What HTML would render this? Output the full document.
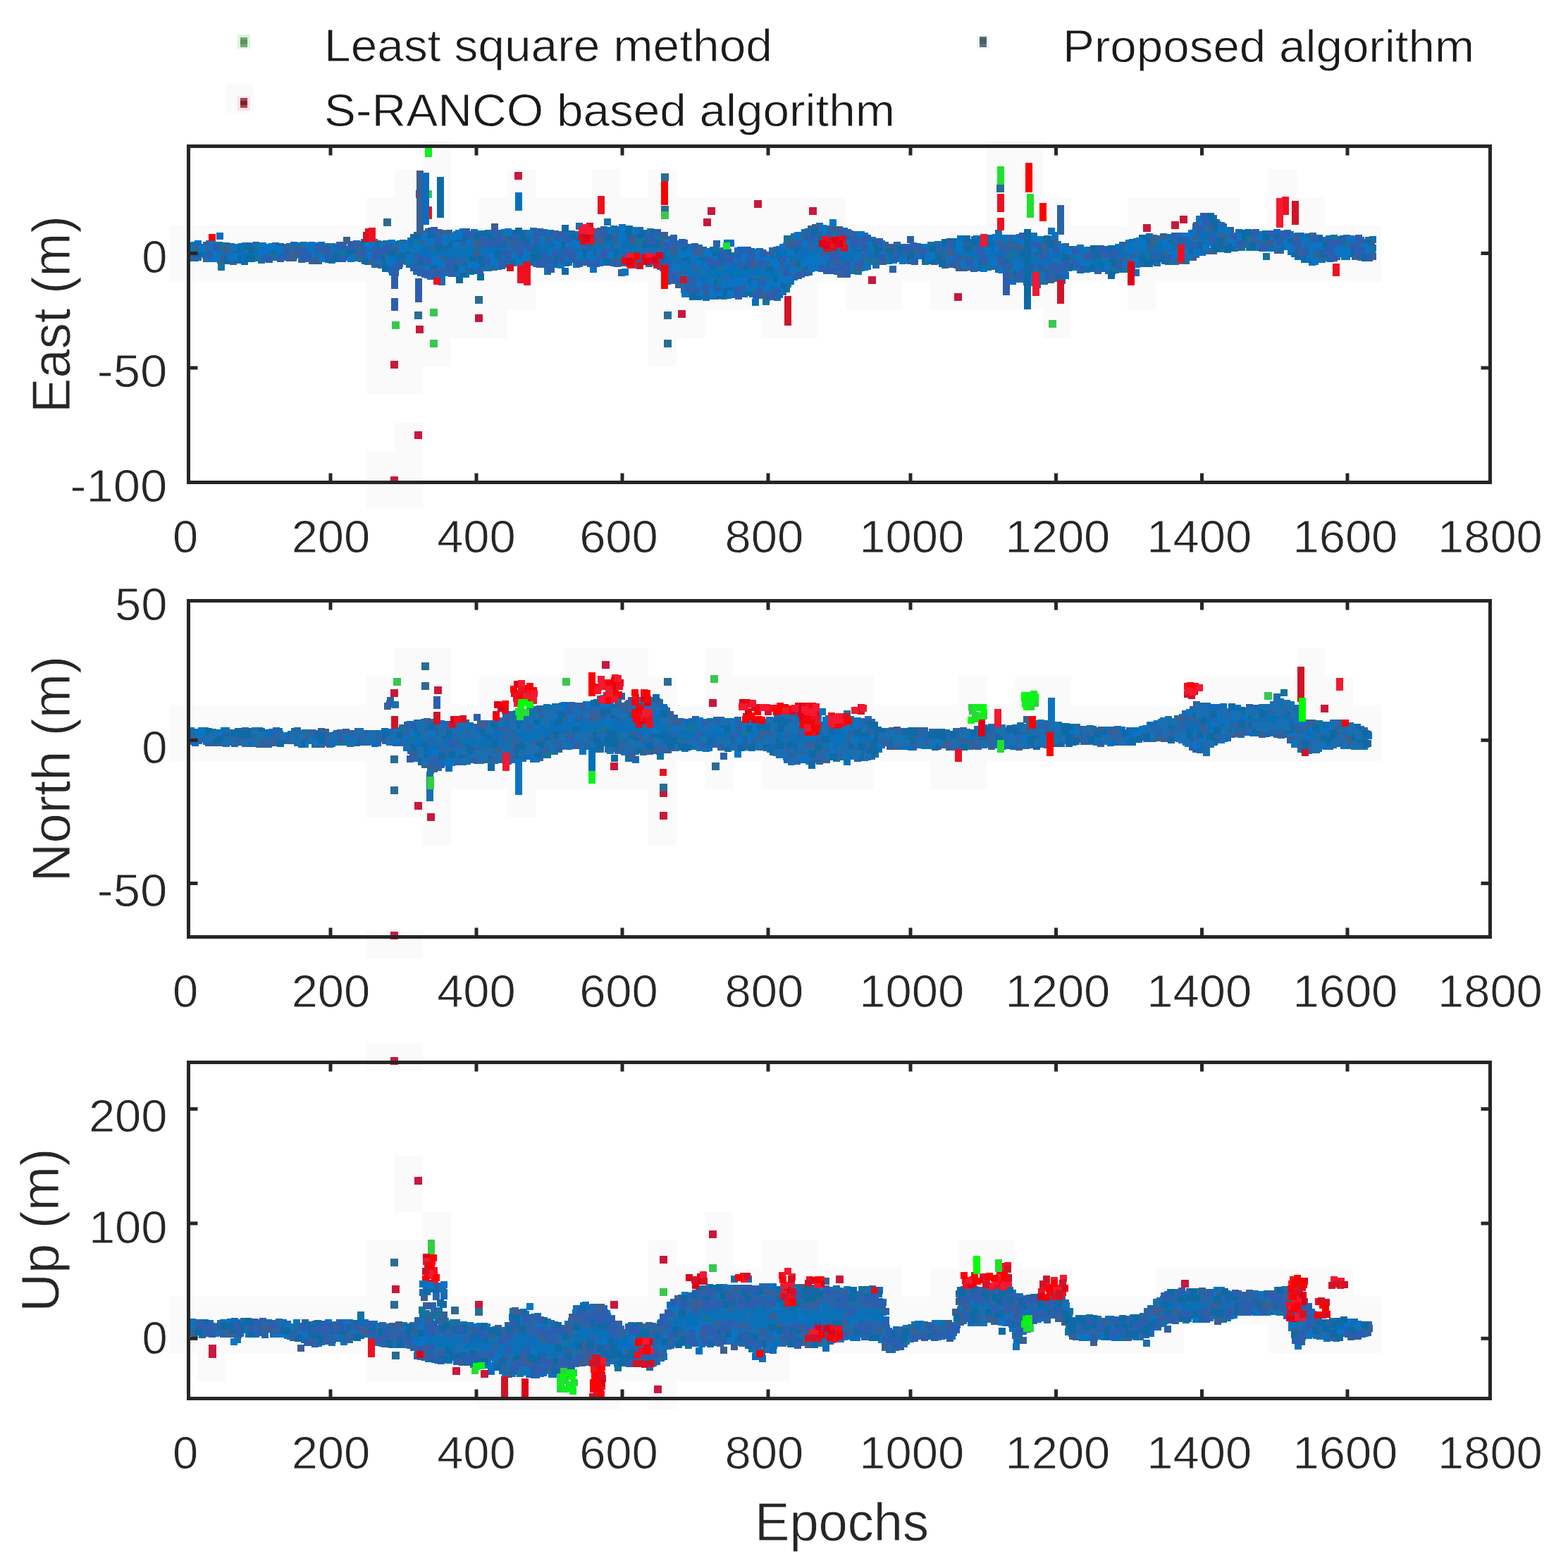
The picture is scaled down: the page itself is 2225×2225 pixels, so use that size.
<!DOCTYPE html>
<html><head><meta charset="utf-8"><title>East North Up errors</title>
<style>html,body{margin:0;padding:0;background:#fff}svg{display:block}</style></head>
<body>
<svg width="2225" height="2225" viewBox="0 0 2225 2225">
<rect width="2225" height="2225" fill="#fff"/>
<path fill="#fafafa" d="M320 120h40v40h-40zM600 200h40v40h-40zM1400 200h80v40h-80zM560 240h80v40h-80zM720 240h40v40h-40zM840 240h40v40h-40zM920 240h40v40h-40zM1400 240h80v40h-80zM1800 240h40v40h-40zM520 280h120v40h-120zM680 280h520v40h-520zM1400 280h120v40h-120zM1600 280h160v40h-160zM1800 280h80v40h-80zM240 320h1720v40h-1720zM240 360h1720v40h-1720zM520 400h240v40h-240zM920 400h240v40h-240zM1200 400h80v40h-80zM1320 400h200v40h-200zM1600 400h40v40h-40zM520 440h200v40h-200zM920 440h80v40h-80zM1080 440h80v40h-80zM1480 440h40v40h-40zM520 480h120v40h-120zM920 480h40v40h-40zM520 520h80v40h-80zM560 600h40v40h-40zM520 640h80v40h-80zM520 680h80v40h-80zM560 920h80v40h-80zM800 920h120v40h-120zM1000 920h40v40h-40zM1840 920h40v40h-40zM520 960h120v40h-120zM680 960h280v40h-280zM1000 960h240v40h-240zM1360 960h40v40h-40zM1440 960h80v40h-80zM1680 960h240v40h-240zM240 1000h1720v40h-1720zM240 1040h1720v40h-1720zM520 1080h440v40h-440zM1000 1080h40v40h-40zM1080 1080h160v40h-160zM1320 1080h80v40h-80zM520 1120h120v40h-120zM720 1120h40v40h-40zM920 1120h40v40h-40zM600 1160h40v40h-40zM920 1160h40v40h-40zM520 1320h80v40h-80zM520 1480h80v40h-80zM560 1640h40v40h-40zM560 1680h40v40h-40zM600 1720h40v40h-40zM1000 1720h40v40h-40zM520 1760h120v40h-120zM920 1760h40v40h-40zM1000 1760h40v40h-40zM1080 1760h80v40h-80zM1360 1760h80v40h-80zM520 1800h120v40h-120zM920 1800h360v40h-360zM1320 1800h200v40h-200zM1640 1800h280v40h-280zM240 1840h1720v40h-1720zM240 1880h1440v40h-1440zM1800 1880h160v40h-160zM280 1920h40v40h-40zM520 1920h600v40h-600zM680 1960h200v40h-200zM920 1960h40v40h-40z"/>
<g shape-rendering="crispEdges">
<polygon fill="#0a70b8" points="272,351 277,351 282,351 287,351 292,351 297,350 302,351 307,351 312,352 317,353 322,353 327,353 332,353 337,353 342,353 347,353 352,353 357,353 362,352 367,352 372,352 377,352 382,352 387,352 392,352 397,352 402,352 407,352 412,352 417,352 422,352 427,352 432,352 437,352 442,352 447,352 452,352 457,352 462,352 467,352 472,352 477,352 482,352 487,352 492,352 497,351 502,351 507,350 512,349 517,348 522,348 527,349 532,351 537,352 542,353 547,354 552,355 557,356 562,355 567,353 572,351 577,349 582,349 587,348 592,347 597,346 602,345 607,344 612,343 617,344 622,344 627,345 632,345 637,345 642,345 647,345 652,345 657,345 662,345 667,344 672,344 677,344 682,343 687,343 692,343 697,342 702,342 707,342 712,341 717,341 722,341 727,341 732,341 737,340 742,340 747,340 752,340 757,340 762,340 767,340 772,340 777,340 782,341 787,341 792,341 797,342 802,342 807,342 812,343 817,343 822,342 827,342 832,341 837,340 842,340 847,339 852,339 857,338 862,338 867,338 872,337 877,337 882,337 887,337 892,338 897,338 902,339 907,339 912,340 917,340 922,340 927,341 932,341 937,343 942,345 947,347 952,349 957,352 962,356 967,359 972,363 977,366 982,367 987,369 992,370 997,372 1002,373 1007,373 1012,373 1017,372 1022,372 1027,372 1032,372 1037,372 1042,372 1047,372 1052,372 1057,372 1062,372 1067,372 1072,372 1077,372 1082,372 1087,373 1092,373 1097,373 1102,372 1107,370 1112,368 1117,363 1122,357 1127,350 1132,348 1137,346 1142,344 1147,342 1152,340 1157,338 1162,337 1167,338 1172,339 1177,340 1182,341 1187,341 1192,342 1197,343 1202,344 1207,344 1212,345 1217,345 1222,346 1227,346 1232,347 1237,348 1242,349 1247,350 1252,351 1257,352 1262,353 1267,353 1272,353 1277,353 1282,353 1287,353 1292,353 1297,353 1302,353 1307,353 1312,353 1317,353 1322,353 1327,353 1332,352 1337,352 1342,351 1347,351 1352,350 1357,350 1362,349 1367,349 1372,349 1377,349 1382,349 1387,349 1392,349 1397,348 1402,348 1407,348 1412,348 1417,348 1422,349 1427,349 1432,350 1437,350 1442,351 1447,351 1452,352 1457,352 1462,353 1467,353 1472,353 1477,353 1482,354 1487,354 1492,354 1497,354 1502,355 1507,357 1512,358 1517,359 1522,359 1527,360 1532,360 1537,360 1542,360 1547,360 1552,360 1557,360 1562,360 1567,360 1572,360 1577,361 1582,360 1587,358 1592,357 1597,355 1602,354 1607,352 1612,350 1617,348 1622,346 1627,346 1632,346 1637,345 1642,345 1647,345 1652,344 1657,344 1662,344 1667,343 1672,343 1677,343 1682,342 1687,342 1692,338 1697,329 1702,323 1707,320 1712,318 1717,318 1722,321 1727,324 1732,327 1737,329 1742,330 1747,331 1752,333 1757,334 1762,334 1767,334 1772,334 1777,334 1782,334 1787,334 1792,334 1797,334 1802,335 1807,335 1812,336 1817,336 1822,337 1827,337 1832,338 1837,339 1842,340 1847,341 1852,342 1857,343 1862,344 1867,344 1872,344 1877,344 1882,344 1887,344 1892,344 1897,345 1902,345 1907,345 1912,345 1917,345 1922,345 1927,345 1932,345 1937,345 1942,345 1947,345 1947,359 1942,359 1937,359 1932,359 1927,359 1922,359 1917,359 1912,359 1907,359 1902,359 1897,360 1892,360 1887,361 1882,362 1877,362 1872,363 1867,363 1862,363 1857,361 1852,360 1847,358 1842,357 1837,355 1832,354 1827,353 1822,352 1817,351 1812,350 1807,349 1802,348 1797,348 1792,348 1787,348 1782,348 1777,348 1772,348 1767,348 1762,348 1757,347 1752,347 1747,347 1742,347 1737,347 1732,346 1727,345 1722,344 1717,344 1712,344 1707,347 1702,349 1697,353 1692,359 1687,361 1682,362 1677,362 1672,362 1667,363 1662,363 1657,363 1652,364 1647,364 1642,364 1637,365 1632,365 1627,365 1622,366 1617,367 1612,369 1607,371 1602,373 1597,374 1592,375 1587,376 1582,377 1577,377 1572,377 1567,377 1562,377 1557,377 1552,377 1547,376 1542,376 1537,376 1532,376 1527,376 1522,376 1517,376 1512,377 1507,378 1502,380 1497,382 1492,382 1487,383 1482,384 1477,385 1472,386 1467,386 1462,385 1457,384 1452,382 1447,381 1442,380 1437,378 1432,377 1427,375 1422,373 1417,372 1412,370 1407,370 1402,370 1397,370 1392,370 1387,370 1382,370 1377,370 1372,370 1367,370 1362,371 1357,370 1352,370 1347,369 1342,368 1337,368 1332,367 1327,367 1322,366 1317,366 1312,366 1307,366 1302,366 1297,366 1292,366 1287,366 1282,366 1277,366 1272,366 1267,366 1262,366 1257,366 1252,367 1247,367 1242,368 1237,368 1232,369 1227,370 1222,371 1217,372 1212,373 1207,374 1202,375 1197,374 1192,373 1187,372 1182,371 1177,370 1172,368 1167,367 1162,366 1157,367 1152,369 1147,371 1142,373 1137,375 1132,377 1127,380 1122,387 1117,394 1112,399 1107,402 1102,404 1097,405 1092,405 1087,405 1082,405 1077,404 1072,404 1067,404 1062,404 1057,403 1052,403 1047,403 1042,403 1037,404 1032,404 1027,404 1022,404 1017,405 1012,405 1007,405 1002,405 997,405 992,404 987,403 982,402 977,401 972,398 967,393 962,388 957,382 952,378 947,374 942,371 937,367 932,364 927,364 922,364 917,364 912,364 907,363 902,363 897,363 892,363 887,363 882,363 877,363 872,363 867,363 862,363 857,363 852,363 847,363 842,363 837,363 832,364 827,364 822,365 817,365 812,365 807,365 802,365 797,365 792,364 787,364 782,364 777,364 772,364 767,364 762,364 757,364 752,364 747,364 742,364 737,364 732,364 727,364 722,365 717,365 712,366 707,366 702,367 697,368 692,368 687,369 682,370 677,371 672,372 667,373 662,374 657,374 652,374 647,374 642,374 637,374 632,375 627,375 622,376 617,376 612,377 607,376 602,375 597,374 592,373 587,371 582,368 577,365 572,367 567,372 562,377 557,377 552,375 547,372 542,371 537,369 532,368 527,367 522,366 517,365 512,364 507,364 502,363 497,363 492,363 487,364 482,364 477,364 472,365 467,365 462,365 457,365 452,365 447,365 442,365 437,365 432,364 427,364 422,364 417,364 412,364 407,363 402,363 397,363 392,363 387,364 382,364 377,364 372,364 367,365 362,365 357,365 352,365 347,366 342,366 337,366 332,366 327,367 322,367 317,367 312,366 307,365 302,364 297,364 292,363 287,363 282,363 277,363 272,363"/>
<path fill="#1a6fb0" d="M266 344h10v10h-10zM267 357h10v10h-10zM286 346h10v10h-10zM307 348h10v10h-10zM322 350h10v10h-10zM322 357h10v10h-10zM327 359h10v10h-10zM336 348h10v10h-10zM337 351h10v10h-10zM363 349h10v10h-10zM363 356h10v10h-10zM388 348h10v10h-10zM396 351h10v10h-10zM422 344h10v10h-10zM421 356h10v10h-10zM457 345h10v10h-10zM466 345h10v10h-10zM478 349h10v10h-10zM476 361h10v10h-10zM488 356h10v10h-10zM497 359h10v10h-10zM503 347h10v10h-10zM516 360h10v10h-10zM522 364h10v10h-10zM533 350h10v10h-10zM536 342h10v10h-10zM542 352h10v10h-10zM557 374h10v10h-10zM563 348h10v10h-10zM567 360h10v10h-10zM573 341h10v10h-10zM571 342h10v10h-10zM572 348h10v10h-10zM576 348h10v10h-10zM581 345h10v10h-10zM583 349h10v10h-10zM588 362h10v10h-10zM591 329h10v10h-10zM596 369h10v10h-10zM603 324h10v10h-10zM606 332h10v10h-10zM606 387h10v10h-10zM608 373h10v10h-10zM618 384h10v10h-10zM622 395h10v10h-10zM626 376h10v10h-10zM627 345h10v10h-10zM643 383h10v10h-10zM647 343h10v10h-10zM648 379h10v10h-10zM651 341h10v10h-10zM651 369h10v10h-10zM668 325h10v10h-10zM683 369h10v10h-10zM681 362h10v10h-10zM696 331h10v10h-10zM703 341h10v10h-10zM711 325h10v10h-10zM711 364h10v10h-10zM716 338h10v10h-10zM717 351h10v10h-10zM726 327h10v10h-10zM733 335h10v10h-10zM748 339h10v10h-10zM753 365h10v10h-10zM758 335h10v10h-10zM766 341h10v10h-10zM766 364h10v10h-10zM773 326h10v10h-10zM771 368h10v10h-10zM772 380h10v10h-10zM783 332h10v10h-10zM798 360h10v10h-10zM806 361h10v10h-10zM816 344h10v10h-10zM816 354h10v10h-10zM817 316h10v10h-10zM836 334h10v10h-10zM843 353h10v10h-10zM847 353h10v10h-10zM852 363h10v10h-10zM857 344h10v10h-10zM857 310h10v10h-10zM862 335h10v10h-10zM867 352h10v10h-10zM871 331h10v10h-10zM872 345h10v10h-10zM882 329h10v10h-10zM887 336h10v10h-10zM893 327h10v10h-10zM903 352h10v10h-10zM926 336h10v10h-10zM927 343h10v10h-10zM931 343h10v10h-10zM931 365h10v10h-10zM932 353h10v10h-10zM943 335h10v10h-10zM942 342h10v10h-10zM947 347h10v10h-10zM953 346h10v10h-10zM951 380h10v10h-10zM951 372h10v10h-10zM956 341h10v10h-10zM956 383h10v10h-10zM956 380h10v10h-10zM968 356h10v10h-10zM967 402h10v10h-10zM973 363h10v10h-10zM971 400h10v10h-10zM976 354h10v10h-10zM976 359h10v10h-10zM982 394h10v10h-10zM986 405h10v10h-10zM992 381h10v10h-10zM1002 405h10v10h-10zM1013 371h10v10h-10zM1011 400h10v10h-10zM1021 404h10v10h-10zM1026 359h10v10h-10zM1037 360h10v10h-10zM1042 351h10v10h-10zM1048 397h10v10h-10zM1051 353h10v10h-10zM1051 409h10v10h-10zM1057 397h10v10h-10zM1061 403h10v10h-10zM1062 401h10v10h-10zM1077 354h10v10h-10zM1081 372h10v10h-10zM1091 351h10v10h-10zM1091 411h10v10h-10zM1096 360h10v10h-10zM1098 417h10v10h-10zM1101 349h10v10h-10zM1103 363h10v10h-10zM1101 403h10v10h-10zM1101 398h10v10h-10zM1102 379h10v10h-10zM1107 396h10v10h-10zM1132 384h10v10h-10zM1142 324h10v10h-10zM1142 338h10v10h-10zM1152 364h10v10h-10zM1158 316h10v10h-10zM1158 373h10v10h-10zM1161 361h10v10h-10zM1162 343h10v10h-10zM1166 335h10v10h-10zM1168 372h10v10h-10zM1172 320h10v10h-10zM1171 340h10v10h-10zM1172 375h10v10h-10zM1171 363h10v10h-10zM1182 372h10v10h-10zM1186 379h10v10h-10zM1186 361h10v10h-10zM1193 329h10v10h-10zM1197 344h10v10h-10zM1212 369h10v10h-10zM1216 334h10v10h-10zM1217 360h10v10h-10zM1222 330h10v10h-10zM1222 352h10v10h-10zM1233 336h10v10h-10zM1231 366h10v10h-10zM1236 348h10v10h-10zM1243 364h10v10h-10zM1246 347h10v10h-10zM1252 363h10v10h-10zM1256 365h10v10h-10zM1267 362h10v10h-10zM1287 365h10v10h-10zM1323 344h10v10h-10zM1326 342h10v10h-10zM1331 353h10v10h-10zM1337 347h10v10h-10zM1347 346h10v10h-10zM1353 338h10v10h-10zM1367 362h10v10h-10zM1383 341h10v10h-10zM1383 363h10v10h-10zM1386 370h10v10h-10zM1391 346h10v10h-10zM1396 336h10v10h-10zM1397 341h10v10h-10zM1397 374h10v10h-10zM1396 365h10v10h-10zM1402 373h10v10h-10zM1412 326h10v10h-10zM1416 334h10v10h-10zM1422 377h10v10h-10zM1426 348h10v10h-10zM1438 346h10v10h-10zM1436 388h10v10h-10zM1442 332h10v10h-10zM1442 377h10v10h-10zM1453 353h10v10h-10zM1457 394h10v10h-10zM1457 390h10v10h-10zM1466 392h10v10h-10zM1466 387h10v10h-10zM1472 335h10v10h-10zM1473 341h10v10h-10zM1473 349h10v10h-10zM1491 390h10v10h-10zM1492 366h10v10h-10zM1496 342h10v10h-10zM1498 349h10v10h-10zM1498 373h10v10h-10zM1506 380h10v10h-10zM1513 370h10v10h-10zM1518 349h10v10h-10zM1516 368h10v10h-10zM1521 368h10v10h-10zM1528 347h10v10h-10zM1527 361h10v10h-10zM1532 365h10v10h-10zM1542 354h10v10h-10zM1547 368h10v10h-10zM1573 353h10v10h-10zM1577 371h10v10h-10zM1582 350h10v10h-10zM1586 354h10v10h-10zM1587 354h10v10h-10zM1596 364h10v10h-10zM1602 339h10v10h-10zM1607 356h10v10h-10zM1613 358h10v10h-10zM1626 359h10v10h-10zM1653 366h10v10h-10zM1663 342h10v10h-10zM1668 355h10v10h-10zM1688 336h10v10h-10zM1693 348h10v10h-10zM1697 310h10v10h-10zM1696 345h10v10h-10zM1696 340h10v10h-10zM1703 339h10v10h-10zM1708 340h10v10h-10zM1707 338h10v10h-10zM1723 314h10v10h-10zM1722 340h10v10h-10zM1728 315h10v10h-10zM1733 323h10v10h-10zM1746 333h10v10h-10zM1747 347h10v10h-10zM1753 345h10v10h-10zM1767 332h10v10h-10zM1777 346h10v10h-10zM1783 328h10v10h-10zM1783 339h10v10h-10zM1798 331h10v10h-10zM1803 332h10v10h-10zM1813 327h10v10h-10zM1818 334h10v10h-10zM1841 341h10v10h-10zM1842 351h10v10h-10zM1847 332h10v10h-10zM1857 367h10v10h-10zM1861 336h10v10h-10zM1868 363h10v10h-10zM1871 363h10v10h-10zM1872 361h10v10h-10zM1872 353h10v10h-10zM1877 343h10v10h-10zM1877 361h10v10h-10zM1882 355h10v10h-10zM1882 340h10v10h-10zM1887 351h10v10h-10zM1892 343h10v10h-10zM1898 349h10v10h-10zM1902 350h10v10h-10zM1906 333h10v10h-10zM1917 339h10v10h-10zM1918 359h10v10h-10zM1927 342h10v10h-10z"/>
<path fill="#0b6cc0" d="M266 348h10v10h-10zM272 361h10v10h-10zM276 341h10v10h-10zM283 355h10v10h-10zM296 356h10v10h-10zM303 345h10v10h-10zM307 356h10v10h-10zM307 330h10v10h-10zM332 361h10v10h-10zM332 360h10v10h-10zM336 364h10v10h-10zM343 344h10v10h-10zM341 348h10v10h-10zM342 366h10v10h-10zM343 358h10v10h-10zM372 358h10v10h-10zM376 358h10v10h-10zM386 356h10v10h-10zM393 354h10v10h-10zM412 343h10v10h-10zM416 344h10v10h-10zM428 358h10v10h-10zM431 348h10v10h-10zM437 351h10v10h-10zM442 349h10v10h-10zM443 357h10v10h-10zM447 357h10v10h-10zM451 343h10v10h-10zM458 362h10v10h-10zM507 342h10v10h-10zM522 338h10v10h-10zM533 362h10v10h-10zM546 373h10v10h-10zM552 381h10v10h-10zM557 342h10v10h-10zM557 347h10v10h-10zM562 364h10v10h-10zM567 361h10v10h-10zM576 370h10v10h-10zM581 365h10v10h-10zM588 336h10v10h-10zM588 375h10v10h-10zM593 339h10v10h-10zM598 348h10v10h-10zM603 330h10v10h-10zM606 379h10v10h-10zM607 361h10v10h-10zM623 342h10v10h-10zM643 328h10v10h-10zM647 374h10v10h-10zM657 366h10v10h-10zM666 339h10v10h-10zM676 338h10v10h-10zM682 363h10v10h-10zM688 326h10v10h-10zM688 375h10v10h-10zM693 370h10v10h-10zM703 362h10v10h-10zM708 327h10v10h-10zM706 367h10v10h-10zM706 356h10v10h-10zM727 367h10v10h-10zM737 361h10v10h-10zM741 331h10v10h-10zM747 363h10v10h-10zM757 362h10v10h-10zM756 360h10v10h-10zM762 330h10v10h-10zM766 337h10v10h-10zM768 353h10v10h-10zM771 353h10v10h-10zM786 328h10v10h-10zM787 363h10v10h-10zM801 327h10v10h-10zM802 365h10v10h-10zM806 327h10v10h-10zM821 332h10v10h-10zM837 354h10v10h-10zM846 359h10v10h-10zM851 337h10v10h-10zM851 360h10v10h-10zM866 320h10v10h-10zM873 359h10v10h-10zM878 355h10v10h-10zM882 335h10v10h-10zM892 323h10v10h-10zM898 337h10v10h-10zM903 334h10v10h-10zM912 326h10v10h-10zM923 355h10v10h-10zM926 330h10v10h-10zM926 359h10v10h-10zM936 375h10v10h-10zM941 366h10v10h-10zM942 394h10v10h-10zM957 346h10v10h-10zM986 357h10v10h-10zM997 417h10v10h-10zM997 411h10v10h-10zM998 407h10v10h-10zM1003 409h10v10h-10zM1002 400h10v10h-10zM1006 372h10v10h-10zM1012 361h10v10h-10zM1012 396h10v10h-10zM1016 400h10v10h-10zM1022 351h10v10h-10zM1023 374h10v10h-10zM1023 394h10v10h-10zM1028 414h10v10h-10zM1033 402h10v10h-10zM1033 392h10v10h-10zM1032 340h10v10h-10zM1036 394h10v10h-10zM1042 395h10v10h-10zM1046 350h10v10h-10zM1062 366h10v10h-10zM1071 368h10v10h-10zM1077 364h10v10h-10zM1077 400h10v10h-10zM1083 401h10v10h-10zM1086 405h10v10h-10zM1117 389h10v10h-10zM1117 380h10v10h-10zM1122 388h10v10h-10zM1126 346h10v10h-10zM1137 352h10v10h-10zM1142 328h10v10h-10zM1148 367h10v10h-10zM1153 369h10v10h-10zM1177 332h10v10h-10zM1176 335h10v10h-10zM1178 342h10v10h-10zM1177 364h10v10h-10zM1186 331h10v10h-10zM1191 378h10v10h-10zM1192 364h10v10h-10zM1197 328h10v10h-10zM1196 375h10v10h-10zM1196 366h10v10h-10zM1201 327h10v10h-10zM1201 376h10v10h-10zM1217 370h10v10h-10zM1222 374h10v10h-10zM1227 348h10v10h-10zM1228 359h10v10h-10zM1233 361h10v10h-10zM1237 339h10v10h-10zM1238 361h10v10h-10zM1257 358h10v10h-10zM1271 346h10v10h-10zM1271 359h10v10h-10zM1278 350h10v10h-10zM1278 359h10v10h-10zM1326 346h10v10h-10zM1328 353h10v10h-10zM1342 359h10v10h-10zM1342 362h10v10h-10zM1348 343h10v10h-10zM1353 347h10v10h-10zM1352 355h10v10h-10zM1367 342h10v10h-10zM1377 376h10v10h-10zM1381 345h10v10h-10zM1382 361h10v10h-10zM1386 375h10v10h-10zM1386 363h10v10h-10zM1401 333h10v10h-10zM1401 337h10v10h-10zM1403 345h10v10h-10zM1402 362h10v10h-10zM1408 363h10v10h-10zM1412 377h10v10h-10zM1417 360h10v10h-10zM1423 342h10v10h-10zM1428 340h10v10h-10zM1427 345h10v10h-10zM1427 378h10v10h-10zM1431 346h10v10h-10zM1433 381h10v10h-10zM1432 394h10v10h-10zM1442 352h10v10h-10zM1452 332h10v10h-10zM1452 395h10v10h-10zM1451 382h10v10h-10zM1461 336h10v10h-10zM1461 351h10v10h-10zM1471 354h10v10h-10zM1473 391h10v10h-10zM1473 388h10v10h-10zM1476 354h10v10h-10zM1481 352h10v10h-10zM1482 363h10v10h-10zM1491 340h10v10h-10zM1496 354h10v10h-10zM1496 375h10v10h-10zM1507 386h10v10h-10zM1517 361h10v10h-10zM1521 373h10v10h-10zM1526 368h10v10h-10zM1531 359h10v10h-10zM1537 350h10v10h-10zM1537 371h10v10h-10zM1547 373h10v10h-10zM1552 353h10v10h-10zM1553 374h10v10h-10zM1558 360h10v10h-10zM1558 376h10v10h-10zM1561 358h10v10h-10zM1566 349h10v10h-10zM1571 374h10v10h-10zM1577 358h10v10h-10zM1582 357h10v10h-10zM1583 377h10v10h-10zM1586 352h10v10h-10zM1591 353h10v10h-10zM1598 370h10v10h-10zM1601 373h10v10h-10zM1606 363h10v10h-10zM1607 382h10v10h-10zM1613 344h10v10h-10zM1611 369h10v10h-10zM1616 359h10v10h-10zM1626 331h10v10h-10zM1628 336h10v10h-10zM1633 366h10v10h-10zM1637 343h10v10h-10zM1642 334h10v10h-10zM1641 343h10v10h-10zM1647 359h10v10h-10zM1651 337h10v10h-10zM1656 340h10v10h-10zM1662 355h10v10h-10zM1666 334h10v10h-10zM1668 340h10v10h-10zM1673 356h10v10h-10zM1681 333h10v10h-10zM1682 352h10v10h-10zM1692 317h10v10h-10zM1701 353h10v10h-10zM1706 306h10v10h-10zM1711 307h10v10h-10zM1718 315h10v10h-10zM1718 323h10v10h-10zM1736 342h10v10h-10zM1738 338h10v10h-10zM1743 332h10v10h-10zM1753 325h10v10h-10zM1793 347h10v10h-10zM1797 347h10v10h-10zM1807 325h10v10h-10zM1811 334h10v10h-10zM1837 359h10v10h-10zM1846 336h10v10h-10zM1846 363h10v10h-10zM1852 331h10v10h-10zM1856 357h10v10h-10zM1861 359h10v10h-10zM1881 334h10v10h-10zM1883 362h10v10h-10zM1887 340h10v10h-10zM1913 338h10v10h-10zM1926 336h10v10h-10zM1928 348h10v10h-10z"/>
<path fill="#2a64a8" d="M266 361h10v10h-10zM271 357h10v10h-10zM276 360h10v10h-10zM313 365h10v10h-10zM313 360h10v10h-10zM316 344h10v10h-10zM333 346h10v10h-10zM348 360h10v10h-10zM351 345h10v10h-10zM358 343h10v10h-10zM371 350h10v10h-10zM386 344h10v10h-10zM396 346h10v10h-10zM401 360h10v10h-10zM406 345h10v10h-10zM412 358h10v10h-10zM457 361h10v10h-10zM468 348h10v10h-10zM467 358h10v10h-10zM501 341h10v10h-10zM503 356h10v10h-10zM506 350h10v10h-10zM506 359h10v10h-10zM512 342h10v10h-10zM511 349h10v10h-10zM521 348h10v10h-10zM526 339h10v10h-10zM526 350h10v10h-10zM547 368h10v10h-10zM561 350h10v10h-10zM567 340h10v10h-10zM582 332h10v10h-10zM582 362h10v10h-10zM586 346h10v10h-10zM592 377h10v10h-10zM592 373h10v10h-10zM596 340h10v10h-10zM598 384h10v10h-10zM597 376h10v10h-10zM603 345h10v10h-10zM602 373h10v10h-10zM613 334h10v10h-10zM617 325h10v10h-10zM638 380h10v10h-10zM636 373h10v10h-10zM642 330h10v10h-10zM647 367h10v10h-10zM651 337h10v10h-10zM653 373h10v10h-10zM657 366h10v10h-10zM666 337h10v10h-10zM681 330h10v10h-10zM693 372h10v10h-10zM712 369h10v10h-10zM713 359h10v10h-10zM717 342h10v10h-10zM721 334h10v10h-10zM723 364h10v10h-10zM726 339h10v10h-10zM728 365h10v10h-10zM731 342h10v10h-10zM732 361h10v10h-10zM737 331h10v10h-10zM742 337h10v10h-10zM743 365h10v10h-10zM747 331h10v10h-10zM746 334h10v10h-10zM752 353h10v10h-10zM756 369h10v10h-10zM762 355h10v10h-10zM768 370h10v10h-10zM773 331h10v10h-10zM771 339h10v10h-10zM782 364h10v10h-10zM788 354h10v10h-10zM813 328h10v10h-10zM811 335h10v10h-10zM818 362h10v10h-10zM821 344h10v10h-10zM828 342h10v10h-10zM832 332h10v10h-10zM833 353h10v10h-10zM842 362h10v10h-10zM842 360h10v10h-10zM848 364h10v10h-10zM852 321h10v10h-10zM856 363h10v10h-10zM858 352h10v10h-10zM862 330h10v10h-10zM863 353h10v10h-10zM866 327h10v10h-10zM868 362h10v10h-10zM872 321h10v10h-10zM871 327h10v10h-10zM871 369h10v10h-10zM876 359h10v10h-10zM883 320h10v10h-10zM893 333h10v10h-10zM896 356h10v10h-10zM903 322h10v10h-10zM907 366h10v10h-10zM911 366h10v10h-10zM918 363h10v10h-10zM941 380h10v10h-10zM947 339h10v10h-10zM947 373h10v10h-10zM951 340h10v10h-10zM952 344h10v10h-10zM951 393h10v10h-10zM958 356h10v10h-10zM961 344h10v10h-10zM962 348h10v10h-10zM966 352h10v10h-10zM966 406h10v10h-10zM972 393h10v10h-10zM972 390h10v10h-10zM977 346h10v10h-10zM976 405h10v10h-10zM982 365h10v10h-10zM981 408h10v10h-10zM983 400h10v10h-10zM986 394h10v10h-10zM993 357h10v10h-10zM991 362h10v10h-10zM993 404h10v10h-10zM998 395h10v10h-10zM1002 415h10v10h-10zM1007 358h10v10h-10zM1006 399h10v10h-10zM1011 415h10v10h-10zM1012 410h10v10h-10zM1012 341h10v10h-10zM1018 352h10v10h-10zM1028 400h10v10h-10zM1026 392h10v10h-10zM1033 372h10v10h-10zM1037 358h10v10h-10zM1036 368h10v10h-10zM1047 359h10v10h-10zM1048 407h10v10h-10zM1046 404h10v10h-10zM1053 366h10v10h-10zM1051 412h10v10h-10zM1063 412h10v10h-10zM1066 372h10v10h-10zM1072 399h10v10h-10zM1083 417h10v10h-10zM1081 397h10v10h-10zM1092 371h10v10h-10zM1092 416h10v10h-10zM1097 350h10v10h-10zM1106 359h10v10h-10zM1106 409h10v10h-10zM1106 400h10v10h-10zM1118 348h10v10h-10zM1117 358h10v10h-10zM1121 336h10v10h-10zM1123 382h10v10h-10zM1127 333h10v10h-10zM1131 329h10v10h-10zM1133 339h10v10h-10zM1138 371h10v10h-10zM1147 336h10v10h-10zM1147 344h10v10h-10zM1162 323h10v10h-10zM1162 367h10v10h-10zM1167 355h10v10h-10zM1173 335h10v10h-10zM1172 370h10v10h-10zM1176 368h10v10h-10zM1181 321h10v10h-10zM1182 331h10v10h-10zM1182 360h10v10h-10zM1186 337h10v10h-10zM1193 323h10v10h-10zM1191 337h10v10h-10zM1193 374h10v10h-10zM1192 369h10v10h-10zM1198 325h10v10h-10zM1208 329h10v10h-10zM1211 328h10v10h-10zM1221 359h10v10h-10zM1228 366h10v10h-10zM1227 364h10v10h-10zM1238 371h10v10h-10zM1252 353h10v10h-10zM1262 359h10v10h-10zM1262 377h10v10h-10zM1268 343h10v10h-10zM1277 346h10v10h-10zM1282 346h10v10h-10zM1281 364h10v10h-10zM1291 344h10v10h-10zM1301 346h10v10h-10zM1302 349h10v10h-10zM1301 358h10v10h-10zM1311 349h10v10h-10zM1321 348h10v10h-10zM1322 361h10v10h-10zM1328 365h10v10h-10zM1333 347h10v10h-10zM1337 363h10v10h-10zM1346 367h10v10h-10zM1346 363h10v10h-10zM1358 371h10v10h-10zM1363 345h10v10h-10zM1362 364h10v10h-10zM1378 335h10v10h-10zM1378 345h10v10h-10zM1382 375h10v10h-10zM1392 350h10v10h-10zM1401 367h10v10h-10zM1411 340h10v10h-10zM1418 375h10v10h-10zM1436 341h10v10h-10zM1442 391h10v10h-10zM1448 342h10v10h-10zM1452 388h10v10h-10zM1452 371h10v10h-10zM1457 349h10v10h-10zM1458 353h10v10h-10zM1461 377h10v10h-10zM1467 376h10v10h-10zM1467 380h10v10h-10zM1482 343h10v10h-10zM1487 382h10v10h-10zM1501 378h10v10h-10zM1501 374h10v10h-10zM1507 345h10v10h-10zM1531 355h10v10h-10zM1537 365h10v10h-10zM1543 350h10v10h-10zM1547 376h10v10h-10zM1547 367h10v10h-10zM1553 379h10v10h-10zM1552 367h10v10h-10zM1563 369h10v10h-10zM1568 379h10v10h-10zM1578 359h10v10h-10zM1588 343h10v10h-10zM1602 355h10v10h-10zM1606 345h10v10h-10zM1616 369h10v10h-10zM1623 363h10v10h-10zM1637 368h10v10h-10zM1661 338h10v10h-10zM1661 360h10v10h-10zM1667 330h10v10h-10zM1673 331h10v10h-10zM1692 356h10v10h-10zM1702 347h10v10h-10zM1708 351h10v10h-10zM1711 312h10v10h-10zM1721 311h10v10h-10zM1727 335h10v10h-10zM1731 317h10v10h-10zM1732 340h10v10h-10zM1738 330h10v10h-10zM1741 342h10v10h-10zM1762 339h10v10h-10zM1767 342h10v10h-10zM1791 327h10v10h-10zM1801 343h10v10h-10zM1812 350h10v10h-10zM1822 336h10v10h-10zM1833 346h10v10h-10zM1832 343h10v10h-10zM1837 330h10v10h-10zM1848 339h10v10h-10zM1861 355h10v10h-10zM1872 336h10v10h-10zM1903 342h10v10h-10zM1907 354h10v10h-10zM1911 346h10v10h-10zM1911 350h10v10h-10zM1917 347h10v10h-10zM1926 355h10v10h-10zM1931 354h10v10h-10zM1933 350h10v10h-10zM1936 353h10v10h-10z"/>
<path fill="#0072bd" d="M271 343h10v10h-10zM287 357h10v10h-10zM317 350h10v10h-10zM338 345h10v10h-10zM338 361h10v10h-10zM352 358h10v10h-10zM356 349h10v10h-10zM397 358h10v10h-10zM398 355h10v10h-10zM413 351h10v10h-10zM441 344h10v10h-10zM447 351h10v10h-10zM472 346h10v10h-10zM473 348h10v10h-10zM482 351h10v10h-10zM481 355h10v10h-10zM486 351h10v10h-10zM491 349h10v10h-10zM517 366h10v10h-10zM527 370h10v10h-10zM541 363h10v10h-10zM547 341h10v10h-10zM547 376h10v10h-10zM551 378h10v10h-10zM552 368h10v10h-10zM562 364h10v10h-10zM566 365h10v10h-10zM578 337h10v10h-10zM578 341h10v10h-10zM578 367h10v10h-10zM583 370h10v10h-10zM593 333h10v10h-10zM597 352h10v10h-10zM607 343h10v10h-10zM611 328h10v10h-10zM612 340h10v10h-10zM611 376h10v10h-10zM617 329h10v10h-10zM616 375h10v10h-10zM618 370h10v10h-10zM621 331h10v10h-10zM621 337h10v10h-10zM623 344h10v10h-10zM622 385h10v10h-10zM623 374h10v10h-10zM622 344h10v10h-10zM628 382h10v10h-10zM632 336h10v10h-10zM642 373h10v10h-10zM652 324h10v10h-10zM663 380h10v10h-10zM667 359h10v10h-10zM673 336h10v10h-10zM672 379h10v10h-10zM671 370h10v10h-10zM678 327h10v10h-10zM677 373h10v10h-10zM683 342h10v10h-10zM682 366h10v10h-10zM687 371h10v10h-10zM697 348h10v10h-10zM706 363h10v10h-10zM712 331h10v10h-10zM713 339h10v10h-10zM717 370h10v10h-10zM728 334h10v10h-10zM733 363h10v10h-10zM738 326h10v10h-10zM751 335h10v10h-10zM758 352h10v10h-10zM763 340h10v10h-10zM773 334h10v10h-10zM773 358h10v10h-10zM776 326h10v10h-10zM778 341h10v10h-10zM777 347h10v10h-10zM782 361h10v10h-10zM791 353h10v10h-10zM797 332h10v10h-10zM796 342h10v10h-10zM797 348h10v10h-10zM816 331h10v10h-10zM823 362h10v10h-10zM822 358h10v10h-10zM827 357h10v10h-10zM838 324h10v10h-10zM837 344h10v10h-10zM847 335h10v10h-10zM851 332h10v10h-10zM858 337h10v10h-10zM871 353h10v10h-10zM877 323h10v10h-10zM881 327h10v10h-10zM887 368h10v10h-10zM888 356h10v10h-10zM893 371h10v10h-10zM892 345h10v10h-10zM896 370h10v10h-10zM907 339h10v10h-10zM911 330h10v10h-10zM923 367h10v10h-10zM922 343h10v10h-10zM933 333h10v10h-10zM938 345h10v10h-10zM963 339h10v10h-10zM963 354h10v10h-10zM966 397h10v10h-10zM972 348h10v10h-10zM976 363h10v10h-10zM976 400h10v10h-10zM987 365h10v10h-10zM991 370h10v10h-10zM993 415h10v10h-10zM991 395h10v10h-10zM998 362h10v10h-10zM1007 368h10v10h-10zM1008 407h10v10h-10zM1011 350h10v10h-10zM1012 385h10v10h-10zM1017 404h10v10h-10zM1027 340h10v10h-10zM1037 372h10v10h-10zM1037 381h10v10h-10zM1043 372h10v10h-10zM1047 411h10v10h-10zM1058 362h10v10h-10zM1057 371h10v10h-10zM1062 363h10v10h-10zM1061 395h10v10h-10zM1066 360h10v10h-10zM1067 409h10v10h-10zM1067 424h10v10h-10zM1072 356h10v10h-10zM1073 372h10v10h-10zM1093 402h10v10h-10zM1092 386h10v10h-10zM1097 373h10v10h-10zM1097 407h10v10h-10zM1102 355h10v10h-10zM1101 358h10v10h-10zM1101 413h10v10h-10zM1108 352h10v10h-10zM1111 353h10v10h-10zM1112 360h10v10h-10zM1117 394h10v10h-10zM1117 375h10v10h-10zM1123 346h10v10h-10zM1127 370h10v10h-10zM1137 325h10v10h-10zM1137 338h10v10h-10zM1141 368h10v10h-10zM1148 328h10v10h-10zM1152 328h10v10h-10zM1151 335h10v10h-10zM1158 334h10v10h-10zM1166 320h10v10h-10zM1173 324h10v10h-10zM1178 325h10v10h-10zM1188 366h10v10h-10zM1192 333h10v10h-10zM1206 376h10v10h-10zM1206 372h10v10h-10zM1212 343h10v10h-10zM1227 339h10v10h-10zM1263 364h10v10h-10zM1293 359h10v10h-10zM1298 358h10v10h-10zM1332 364h10v10h-10zM1336 351h10v10h-10zM1337 363h10v10h-10zM1352 369h10v10h-10zM1358 334h10v10h-10zM1357 345h10v10h-10zM1372 352h10v10h-10zM1381 334h10v10h-10zM1386 338h10v10h-10zM1407 345h10v10h-10zM1413 361h10v10h-10zM1416 368h10v10h-10zM1422 337h10v10h-10zM1428 368h10v10h-10zM1433 375h10v10h-10zM1448 389h10v10h-10zM1447 378h10v10h-10zM1451 339h10v10h-10zM1453 344h10v10h-10zM1453 375h10v10h-10zM1462 396h10v10h-10zM1462 386h10v10h-10zM1461 382h10v10h-10zM1473 382h10v10h-10zM1477 378h10v10h-10zM1491 348h10v10h-10zM1501 354h10v10h-10zM1522 359h10v10h-10zM1528 378h10v10h-10zM1537 377h10v10h-10zM1543 365h10v10h-10zM1547 359h10v10h-10zM1552 352h10v10h-10zM1552 372h10v10h-10zM1558 372h10v10h-10zM1558 369h10v10h-10zM1563 356h10v10h-10zM1573 380h10v10h-10zM1582 346h10v10h-10zM1597 340h10v10h-10zM1598 377h10v10h-10zM1608 338h10v10h-10zM1623 343h10v10h-10zM1622 347h10v10h-10zM1631 342h10v10h-10zM1643 357h10v10h-10zM1656 332h10v10h-10zM1657 341h10v10h-10zM1668 359h10v10h-10zM1676 358h10v10h-10zM1677 354h10v10h-10zM1681 342h10v10h-10zM1686 357h10v10h-10zM1691 325h10v10h-10zM1702 314h10v10h-10zM1702 330h10v10h-10zM1707 303h10v10h-10zM1747 335h10v10h-10zM1752 332h10v10h-10zM1763 326h10v10h-10zM1796 327h10v10h-10zM1802 347h10v10h-10zM1818 345h10v10h-10zM1822 334h10v10h-10zM1828 337h10v10h-10zM1827 352h10v10h-10zM1826 343h10v10h-10zM1841 330h10v10h-10zM1846 355h10v10h-10zM1852 337h10v10h-10zM1857 336h10v10h-10zM1867 354h10v10h-10zM1886 345h10v10h-10zM1892 340h10v10h-10zM1903 355h10v10h-10zM1906 340h10v10h-10zM1907 345h10v10h-10zM1927 360h10v10h-10zM1938 346h10v10h-10zM1943 335h10v10h-10zM1941 347h10v10h-10z"/>
<path fill="#14749a" d="M271 349h10v10h-10zM292 341h10v10h-10zM306 343h10v10h-10zM306 360h10v10h-10zM313 345h10v10h-10zM313 349h10v10h-10zM346 348h10v10h-10zM358 359h10v10h-10zM362 344h10v10h-10zM361 361h10v10h-10zM366 364h10v10h-10zM381 358h10v10h-10zM387 360h10v10h-10zM406 349h10v10h-10zM423 363h10v10h-10zM426 343h10v10h-10zM432 362h10v10h-10zM453 359h10v10h-10zM463 345h10v10h-10zM466 364h10v10h-10zM478 356h10v10h-10zM488 360h10v10h-10zM501 361h10v10h-10zM502 348h10v10h-10zM508 362h10v10h-10zM517 336h10v10h-10zM536 371h10v10h-10zM543 341h10v10h-10zM542 358h10v10h-10zM553 347h10v10h-10zM557 369h10v10h-10zM563 341h10v10h-10zM573 366h10v10h-10zM572 358h10v10h-10zM586 341h10v10h-10zM586 371h10v10h-10zM591 342h10v10h-10zM597 365h10v10h-10zM608 369h10v10h-10zM626 327h10v10h-10zM631 377h10v10h-10zM632 340h10v10h-10zM638 337h10v10h-10zM656 384h10v10h-10zM656 376h10v10h-10zM661 366h10v10h-10zM668 332h10v10h-10zM673 365h10v10h-10zM677 331h10v10h-10zM682 375h10v10h-10zM686 331h10v10h-10zM688 337h10v10h-10zM691 328h10v10h-10zM707 330h10v10h-10zM718 332h10v10h-10zM748 356h10v10h-10zM752 323h10v10h-10zM753 330h10v10h-10zM766 330h10v10h-10zM777 358h10v10h-10zM782 348h10v10h-10zM787 336h10v10h-10zM791 338h10v10h-10zM796 328h10v10h-10zM802 343h10v10h-10zM802 367h10v10h-10zM811 340h10v10h-10zM821 367h10v10h-10zM821 353h10v10h-10zM833 369h10v10h-10zM837 340h10v10h-10zM842 325h10v10h-10zM841 333h10v10h-10zM853 354h10v10h-10zM863 327h10v10h-10zM866 331h10v10h-10zM872 337h10v10h-10zM872 362h10v10h-10zM877 362h10v10h-10zM882 360h10v10h-10zM893 354h10v10h-10zM896 331h10v10h-10zM901 340h10v10h-10zM906 336h10v10h-10zM913 334h10v10h-10zM913 359h10v10h-10zM918 324h10v10h-10zM916 341h10v10h-10zM916 369h10v10h-10zM932 329h10v10h-10zM931 339h10v10h-10zM938 335h10v10h-10zM938 340h10v10h-10zM956 351h10v10h-10zM957 359h10v10h-10zM963 398h10v10h-10zM963 393h10v10h-10zM972 359h10v10h-10zM976 351h10v10h-10zM978 407h10v10h-10zM987 347h10v10h-10zM998 369h10v10h-10zM997 399h10v10h-10zM1007 350h10v10h-10zM1007 392h10v10h-10zM1016 363h10v10h-10zM1018 374h10v10h-10zM1018 395h10v10h-10zM1021 367h10v10h-10zM1022 415h10v10h-10zM1028 367h10v10h-10zM1033 358h10v10h-10zM1048 394h10v10h-10zM1052 398h10v10h-10zM1063 408h10v10h-10zM1072 392h10v10h-10zM1076 410h10v10h-10zM1077 396h10v10h-10zM1083 358h10v10h-10zM1083 368h10v10h-10zM1082 411h10v10h-10zM1082 393h10v10h-10zM1082 423h10v10h-10zM1087 371h10v10h-10zM1091 404h10v10h-10zM1093 394h10v10h-10zM1106 389h10v10h-10zM1111 405h10v10h-10zM1113 398h10v10h-10zM1112 334h10v10h-10zM1122 331h10v10h-10zM1123 342h10v10h-10zM1133 333h10v10h-10zM1131 378h10v10h-10zM1158 324h10v10h-10zM1171 379h10v10h-10zM1182 325h10v10h-10zM1181 338h10v10h-10zM1183 380h10v10h-10zM1191 371h10v10h-10zM1207 379h10v10h-10zM1213 380h10v10h-10zM1217 375h10v10h-10zM1221 370h10v10h-10zM1223 365h10v10h-10zM1232 346h10v10h-10zM1236 366h10v10h-10zM1243 344h10v10h-10zM1252 361h10v10h-10zM1262 349h10v10h-10zM1308 366h10v10h-10zM1311 363h10v10h-10zM1316 343h10v10h-10zM1332 360h10v10h-10zM1337 359h10v10h-10zM1353 371h10v10h-10zM1367 348h10v10h-10zM1376 363h10v10h-10zM1398 369h10v10h-10zM1422 363h10v10h-10zM1428 376h10v10h-10zM1433 336h10v10h-10zM1432 357h10v10h-10zM1447 347h10v10h-10zM1448 390h10v10h-10zM1458 336h10v10h-10zM1462 330h10v10h-10zM1467 346h10v10h-10zM1467 381h10v10h-10zM1477 335h10v10h-10zM1477 394h10v10h-10zM1478 384h10v10h-10zM1486 335h10v10h-10zM1487 377h10v10h-10zM1506 353h10v10h-10zM1511 375h10v10h-10zM1512 364h10v10h-10zM1512 362h10v10h-10zM1517 356h10v10h-10zM1531 374h10v10h-10zM1536 354h10v10h-10zM1541 370h10v10h-10zM1562 364h10v10h-10zM1568 369h10v10h-10zM1578 378h10v10h-10zM1582 367h10v10h-10zM1593 350h10v10h-10zM1593 377h10v10h-10zM1607 343h10v10h-10zM1613 365h10v10h-10zM1623 358h10v10h-10zM1626 364h10v10h-10zM1633 339h10v10h-10zM1636 337h10v10h-10zM1641 336h10v10h-10zM1648 355h10v10h-10zM1658 338h10v10h-10zM1663 366h10v10h-10zM1676 338h10v10h-10zM1678 365h10v10h-10zM1681 354h10v10h-10zM1688 329h10v10h-10zM1698 317h10v10h-10zM1706 318h10v10h-10zM1717 305h10v10h-10zM1728 325h10v10h-10zM1728 347h10v10h-10zM1731 348h10v10h-10zM1757 346h10v10h-10zM1762 332h10v10h-10zM1768 346h10v10h-10zM1771 343h10v10h-10zM1788 333h10v10h-10zM1791 340h10v10h-10zM1792 359h10v10h-10zM1837 336h10v10h-10zM1856 359h10v10h-10zM1857 340h10v10h-10zM1866 336h10v10h-10zM1868 358h10v10h-10zM1888 333h10v10h-10zM1886 354h10v10h-10zM1891 335h10v10h-10zM1903 346h10v10h-10zM1903 359h10v10h-10zM1907 344h10v10h-10zM1917 346h10v10h-10zM1926 344h10v10h-10zM1937 336h10v10h-10zM1937 346h10v10h-10zM1942 355h10v10h-10zM1943 347h10v10h-10z"/>
<path fill="#3a5f92" d="M276 348h10v10h-10zM288 343h10v10h-10zM288 362h10v10h-10zM291 347h10v10h-10zM308 364h10v10h-10zM317 349h10v10h-10zM323 345h10v10h-10zM326 348h10v10h-10zM326 366h10v10h-10zM401 350h10v10h-10zM406 361h10v10h-10zM408 357h10v10h-10zM411 361h10v10h-10zM416 349h10v10h-10zM416 354h10v10h-10zM438 365h10v10h-10zM441 364h10v10h-10zM447 365h10v10h-10zM451 350h10v10h-10zM482 343h10v10h-10zM487 336h10v10h-10zM496 354h10v10h-10zM507 343h10v10h-10zM507 355h10v10h-10zM511 359h10v10h-10zM523 366h10v10h-10zM526 364h10v10h-10zM531 341h10v10h-10zM532 346h10v10h-10zM532 369h10v10h-10zM537 366h10v10h-10zM547 350h10v10h-10zM556 350h10v10h-10zM556 382h10v10h-10zM596 327h10v10h-10zM596 334h10v10h-10zM608 381h10v10h-10zM611 344h10v10h-10zM621 326h10v10h-10zM622 363h10v10h-10zM626 342h10v10h-10zM626 374h10v10h-10zM626 370h10v10h-10zM632 326h10v10h-10zM632 370h10v10h-10zM638 342h10v10h-10zM641 369h10v10h-10zM652 332h10v10h-10zM656 339h10v10h-10zM662 376h10v10h-10zM668 376h10v10h-10zM671 342h10v10h-10zM672 355h10v10h-10zM678 340h10v10h-10zM691 336h10v10h-10zM693 365h10v10h-10zM696 374h10v10h-10zM697 317h10v10h-10zM701 337h10v10h-10zM703 367h10v10h-10zM711 336h10v10h-10zM723 339h10v10h-10zM722 358h10v10h-10zM723 356h10v10h-10zM727 353h10v10h-10zM731 331h10v10h-10zM738 355h10v10h-10zM743 326h10v10h-10zM746 361h10v10h-10zM758 329h10v10h-10zM776 335h10v10h-10zM783 327h10v10h-10zM807 344h10v10h-10zM811 363h10v10h-10zM811 358h10v10h-10zM812 355h10v10h-10zM821 337h10v10h-10zM832 325h10v10h-10zM836 368h10v10h-10zM843 327h10v10h-10zM842 337h10v10h-10zM847 323h10v10h-10zM848 332h10v10h-10zM848 338h10v10h-10zM858 359h10v10h-10zM862 363h10v10h-10zM867 334h10v10h-10zM877 367h10v10h-10zM877 382h10v10h-10zM886 329h10v10h-10zM888 359h10v10h-10zM892 337h10v10h-10zM896 327h10v10h-10zM901 369h10v10h-10zM903 357h10v10h-10zM911 355h10v10h-10zM912 340h10v10h-10zM927 365h10v10h-10zM926 354h10v10h-10zM932 357h10v10h-10zM938 329h10v10h-10zM937 341h10v10h-10zM947 336h10v10h-10zM946 385h10v10h-10zM948 382h10v10h-10zM947 377h10v10h-10zM951 351h10v10h-10zM958 399h10v10h-10zM963 385h10v10h-10zM971 412h10v10h-10zM972 410h10v10h-10zM981 350h10v10h-10zM981 357h10v10h-10zM982 373h10v10h-10zM987 352h10v10h-10zM993 350h10v10h-10zM993 411h10v10h-10zM1026 408h10v10h-10zM1037 413h10v10h-10zM1037 405h10v10h-10zM1051 403h10v10h-10zM1063 371h10v10h-10zM1068 366h10v10h-10zM1067 395h10v10h-10zM1078 414h10v10h-10zM1087 357h10v10h-10zM1088 366h10v10h-10zM1088 412h10v10h-10zM1102 369h10v10h-10zM1107 367h10v10h-10zM1111 344h10v10h-10zM1112 347h10v10h-10zM1118 339h10v10h-10zM1116 386h10v10h-10zM1122 372h10v10h-10zM1137 330h10v10h-10zM1138 379h10v10h-10zM1146 320h10v10h-10zM1152 318h10v10h-10zM1158 330h10v10h-10zM1157 359h10v10h-10zM1171 357h10v10h-10zM1176 320h10v10h-10zM1182 366h10v10h-10zM1186 321h10v10h-10zM1186 341h10v10h-10zM1188 384h10v10h-10zM1193 343h10v10h-10zM1192 382h10v10h-10zM1197 338h10v10h-10zM1203 335h10v10h-10zM1207 367h10v10h-10zM1213 375h10v10h-10zM1222 343h10v10h-10zM1237 340h10v10h-10zM1242 350h10v10h-10zM1247 350h10v10h-10zM1248 366h10v10h-10zM1251 343h10v10h-10zM1253 349h10v10h-10zM1257 347h10v10h-10zM1261 346h10v10h-10zM1266 349h10v10h-10zM1282 358h10v10h-10zM1293 349h10v10h-10zM1297 351h10v10h-10zM1321 366h10v10h-10zM1327 360h10v10h-10zM1327 355h10v10h-10zM1332 359h10v10h-10zM1336 371h10v10h-10zM1343 338h10v10h-10zM1342 351h10v10h-10zM1347 358h10v10h-10zM1356 375h10v10h-10zM1356 363h10v10h-10zM1362 343h10v10h-10zM1363 375h10v10h-10zM1373 341h10v10h-10zM1371 344h10v10h-10zM1372 374h10v10h-10zM1391 368h10v10h-10zM1411 345h10v10h-10zM1412 372h10v10h-10zM1412 365h10v10h-10zM1417 340h10v10h-10zM1417 343h10v10h-10zM1423 349h10v10h-10zM1428 334h10v10h-10zM1431 333h10v10h-10zM1431 341h10v10h-10zM1433 386h10v10h-10zM1433 370h10v10h-10zM1443 342h10v10h-10zM1441 348h10v10h-10zM1441 369h10v10h-10zM1453 348h10v10h-10zM1472 356h10v10h-10zM1476 350h10v10h-10zM1481 338h10v10h-10zM1482 376h10v10h-10zM1486 344h10v10h-10zM1486 392h10v10h-10zM1486 386h10v10h-10zM1492 338h10v10h-10zM1492 386h10v10h-10zM1512 349h10v10h-10zM1512 358h10v10h-10zM1517 373h10v10h-10zM1528 355h10v10h-10zM1536 361h10v10h-10zM1547 353h10v10h-10zM1556 354h10v10h-10zM1567 357h10v10h-10zM1572 370h10v10h-10zM1587 370h10v10h-10zM1588 366h10v10h-10zM1592 343h10v10h-10zM1593 367h10v10h-10zM1602 365h10v10h-10zM1628 344h10v10h-10zM1632 333h10v10h-10zM1636 361h10v10h-10zM1646 331h10v10h-10zM1646 336h10v10h-10zM1651 357h10v10h-10zM1667 365h10v10h-10zM1688 360h10v10h-10zM1686 352h10v10h-10zM1693 315h10v10h-10zM1691 330h10v10h-10zM1713 319h10v10h-10zM1712 335h10v10h-10zM1717 351h10v10h-10zM1717 338h10v10h-10zM1722 337h10v10h-10zM1731 330h10v10h-10zM1741 322h10v10h-10zM1741 325h10v10h-10zM1757 341h10v10h-10zM1771 326h10v10h-10zM1776 330h10v10h-10zM1776 341h10v10h-10zM1797 341h10v10h-10zM1808 331h10v10h-10zM1808 350h10v10h-10zM1833 331h10v10h-10zM1832 334h10v10h-10zM1837 338h10v10h-10zM1838 352h10v10h-10zM1841 355h10v10h-10zM1852 340h10v10h-10zM1858 330h10v10h-10zM1862 343h10v10h-10zM1867 356h10v10h-10zM1878 340h10v10h-10zM1877 356h10v10h-10zM1892 359h10v10h-10zM1896 355h10v10h-10zM1901 334h10v10h-10zM1902 349h10v10h-10zM1918 335h10v10h-10zM1916 355h10v10h-10zM1923 359h10v10h-10zM1933 339h10v10h-10zM1941 341h10v10h-10zM1943 359h10v10h-10z"/>
<path fill="#0d6aa5" d="M276 356h10v10h-10zM296 362h10v10h-10zM317 365h10v10h-10zM318 363h10v10h-10zM331 349h10v10h-10zM332 363h10v10h-10zM347 344h10v10h-10zM348 362h10v10h-10zM352 350h10v10h-10zM352 362h10v10h-10zM381 349h10v10h-10zM393 345h10v10h-10zM461 363h10v10h-10zM471 362h10v10h-10zM473 359h10v10h-10zM491 355h10v10h-10zM496 349h10v10h-10zM512 339h10v10h-10zM513 365h10v10h-10zM517 341h10v10h-10zM516 348h10v10h-10zM528 343h10v10h-10zM538 350h10v10h-10zM536 362h10v10h-10zM542 348h10v10h-10zM542 376h10v10h-10zM543 370h10v10h-10zM551 353h10v10h-10zM561 372h10v10h-10zM566 357h10v10h-10zM571 356h10v10h-10zM587 329h10v10h-10zM592 366h10v10h-10zM597 380h10v10h-10zM607 323h10v10h-10zM607 328h10v10h-10zM611 372h10v10h-10zM618 341h10v10h-10zM617 346h10v10h-10zM632 343h10v10h-10zM637 343h10v10h-10zM641 337h10v10h-10zM642 376h10v10h-10zM646 334h10v10h-10zM647 392h10v10h-10zM652 383h10v10h-10zM657 331h10v10h-10zM656 334h10v10h-10zM656 372h10v10h-10zM668 378h10v10h-10zM666 364h10v10h-10zM672 330h10v10h-10zM678 369h10v10h-10zM678 363h10v10h-10zM677 388h10v10h-10zM682 327h10v10h-10zM691 331h10v10h-10zM697 336h10v10h-10zM697 362h10v10h-10zM698 359h10v10h-10zM701 356h10v10h-10zM707 341h10v10h-10zM716 363h10v10h-10zM722 326h10v10h-10zM721 332h10v10h-10zM723 368h10v10h-10zM731 323h10v10h-10zM736 334h10v10h-10zM736 364h10v10h-10zM741 338h10v10h-10zM747 367h10v10h-10zM753 360h10v10h-10zM752 348h10v10h-10zM761 324h10v10h-10zM762 358h10v10h-10zM773 364h10v10h-10zM781 340h10v10h-10zM781 369h10v10h-10zM786 370h10v10h-10zM787 360h10v10h-10zM792 344h10v10h-10zM793 360h10v10h-10zM797 336h10v10h-10zM798 368h10v10h-10zM796 364h10v10h-10zM797 319h10v10h-10zM797 380h10v10h-10zM802 352h10v10h-10zM808 333h10v10h-10zM811 355h10v10h-10zM816 338h10v10h-10zM826 354h10v10h-10zM833 337h10v10h-10zM832 340h10v10h-10zM833 365h10v10h-10zM836 359h10v10h-10zM856 322h10v10h-10zM858 331h10v10h-10zM856 367h10v10h-10zM867 353h10v10h-10zM881 368h10v10h-10zM888 320h10v10h-10zM886 328h10v10h-10zM888 362h10v10h-10zM893 365h10v10h-10zM892 357h10v10h-10zM898 364h10v10h-10zM903 328h10v10h-10zM908 327h10v10h-10zM907 358h10v10h-10zM912 342h10v10h-10zM923 326h10v10h-10zM923 340h10v10h-10zM928 367h10v10h-10zM927 342h10v10h-10zM933 370h10v10h-10zM937 371h10v10h-10zM936 361h10v10h-10zM967 346h10v10h-10zM968 361h10v10h-10zM978 416h10v10h-10zM982 414h10v10h-10zM986 416h10v10h-10zM993 365h10v10h-10zM1002 352h10v10h-10zM1003 371h10v10h-10zM1007 395h10v10h-10zM1011 358h10v10h-10zM1016 367h10v10h-10zM1017 414h10v10h-10zM1022 362h10v10h-10zM1023 410h10v10h-10zM1028 353h10v10h-10zM1028 406h10v10h-10zM1033 408h10v10h-10zM1037 400h10v10h-10zM1043 368h10v10h-10zM1051 373h10v10h-10zM1057 410h10v10h-10zM1058 396h10v10h-10zM1061 352h10v10h-10zM1073 352h10v10h-10zM1073 396h10v10h-10zM1077 404h10v10h-10zM1087 362h10v10h-10zM1088 400h10v10h-10zM1087 377h10v10h-10zM1092 363h10v10h-10zM1098 366h10v10h-10zM1097 393h10v10h-10zM1107 403h10v10h-10zM1113 362h10v10h-10zM1122 349h10v10h-10zM1132 343h10v10h-10zM1131 368h10v10h-10zM1143 333h10v10h-10zM1143 381h10v10h-10zM1142 374h10v10h-10zM1151 323h10v10h-10zM1152 359h10v10h-10zM1163 329h10v10h-10zM1161 335h10v10h-10zM1166 369h10v10h-10zM1196 335h10v10h-10zM1202 369h10v10h-10zM1213 335h10v10h-10zM1213 340h10v10h-10zM1212 346h10v10h-10zM1232 339h10v10h-10zM1242 348h10v10h-10zM1241 356h10v10h-10zM1258 352h10v10h-10zM1272 349h10v10h-10zM1286 349h10v10h-10zM1287 359h10v10h-10zM1308 361h10v10h-10zM1318 350h10v10h-10zM1318 365h10v10h-10zM1327 359h10v10h-10zM1332 369h10v10h-10zM1336 339h10v10h-10zM1346 338h10v10h-10zM1352 340h10v10h-10zM1367 334h10v10h-10zM1368 347h10v10h-10zM1376 339h10v10h-10zM1383 370h10v10h-10zM1388 337h10v10h-10zM1393 333h10v10h-10zM1397 343h10v10h-10zM1421 368h10v10h-10zM1438 335h10v10h-10zM1438 383h10v10h-10zM1448 354h10v10h-10zM1456 374h10v10h-10zM1468 351h10v10h-10zM1481 334h10v10h-10zM1481 384h10v10h-10zM1486 342h10v10h-10zM1497 387h10v10h-10zM1508 357h10v10h-10zM1507 364h10v10h-10zM1517 374h10v10h-10zM1532 369h10v10h-10zM1543 375h10v10h-10zM1547 348h10v10h-10zM1552 358h10v10h-10zM1562 372h10v10h-10zM1572 348h10v10h-10zM1573 361h10v10h-10zM1572 386h10v10h-10zM1577 368h10v10h-10zM1616 333h10v10h-10zM1616 363h10v10h-10zM1622 337h10v10h-10zM1623 368h10v10h-10zM1626 369h10v10h-10zM1632 363h10v10h-10zM1641 362h10v10h-10zM1648 365h10v10h-10zM1653 341h10v10h-10zM1672 336h10v10h-10zM1672 359h10v10h-10zM1687 350h10v10h-10zM1698 348h10v10h-10zM1701 343h10v10h-10zM1713 302h10v10h-10zM1718 311h10v10h-10zM1718 344h10v10h-10zM1722 319h10v10h-10zM1722 348h10v10h-10zM1721 343h10v10h-10zM1726 344h10v10h-10zM1726 337h10v10h-10zM1737 349h10v10h-10zM1742 347h10v10h-10zM1742 342h10v10h-10zM1758 326h10v10h-10zM1758 333h10v10h-10zM1766 325h10v10h-10zM1772 345h10v10h-10zM1786 328h10v10h-10zM1792 331h10v10h-10zM1807 331h10v10h-10zM1812 344h10v10h-10zM1816 340h10v10h-10zM1822 338h10v10h-10zM1826 332h10v10h-10zM1832 355h10v10h-10zM1832 349h10v10h-10zM1851 363h10v10h-10zM1867 333h10v10h-10zM1872 342h10v10h-10zM1873 355h10v10h-10zM1882 343h10v10h-10zM1898 335h10v10h-10zM1911 353h10v10h-10zM1921 348h10v10h-10zM1932 361h10v10h-10zM1936 341h10v10h-10z"/>
<path fill="#0a74c4" d="M282 348h10v10h-10zM292 362h10v10h-10zM296 341h10v10h-10zM296 347h10v10h-10zM301 362h10v10h-10zM302 357h10v10h-10zM323 360h10v10h-10zM327 346h10v10h-10zM327 360h10v10h-10zM368 344h10v10h-10zM368 351h10v10h-10zM366 357h10v10h-10zM376 346h10v10h-10zM377 348h10v10h-10zM381 345h10v10h-10zM392 349h10v10h-10zM433 344h10v10h-10zM437 343h10v10h-10zM437 357h10v10h-10zM453 362h10v10h-10zM493 362h10v10h-10zM518 356h10v10h-10zM517 344h10v10h-10zM522 342h10v10h-10zM522 359h10v10h-10zM532 364h10v10h-10zM538 346h10v10h-10zM547 366h10v10h-10zM551 340h10v10h-10zM551 370h10v10h-10zM567 346h10v10h-10zM566 349h10v10h-10zM576 361h10v10h-10zM586 380h10v10h-10zM587 346h10v10h-10zM597 331h10v10h-10zM603 338h10v10h-10zM602 385h10v10h-10zM601 377h10v10h-10zM608 339h10v10h-10zM611 366h10v10h-10zM612 362h10v10h-10zM618 366h10v10h-10zM622 371h10v10h-10zM626 333h10v10h-10zM627 338h10v10h-10zM638 331h10v10h-10zM642 343h10v10h-10zM646 326h10v10h-10zM646 330h10v10h-10zM651 377h10v10h-10zM661 340h10v10h-10zM663 371h10v10h-10zM667 371h10v10h-10zM671 374h10v10h-10zM687 362h10v10h-10zM693 341h10v10h-10zM692 359h10v10h-10zM696 368h10v10h-10zM702 373h10v10h-10zM716 324h10v10h-10zM726 358h10v10h-10zM731 367h10v10h-10zM741 370h10v10h-10zM741 360h10v10h-10zM742 353h10v10h-10zM747 326h10v10h-10zM753 338h10v10h-10zM763 336h10v10h-10zM776 368h10v10h-10zM776 353h10v10h-10zM782 336h10v10h-10zM786 343h10v10h-10zM792 332h10v10h-10zM791 371h10v10h-10zM803 340h10v10h-10zM802 361h10v10h-10zM808 340h10v10h-10zM813 343h10v10h-10zM813 370h10v10h-10zM817 357h10v10h-10zM832 357h10v10h-10zM837 363h10v10h-10zM837 377h10v10h-10zM846 368h10v10h-10zM861 322h10v10h-10zM861 357h10v10h-10zM878 318h10v10h-10zM878 330h10v10h-10zM876 334h10v10h-10zM883 354h10v10h-10zM882 381h10v10h-10zM897 322h10v10h-10zM918 356h10v10h-10zM922 331h10v10h-10zM923 360h10v10h-10zM943 340h10v10h-10zM953 375h10v10h-10zM963 356h10v10h-10zM961 389h10v10h-10zM967 412h10v10h-10zM967 389h10v10h-10zM973 354h10v10h-10zM981 362h10v10h-10zM986 369h10v10h-10zM988 410h10v10h-10zM988 399h10v10h-10zM991 400h10v10h-10zM998 353h10v10h-10zM998 371h10v10h-10zM1001 357h10v10h-10zM1003 395h10v10h-10zM1008 363h10v10h-10zM1006 413h10v10h-10zM1006 409h10v10h-10zM1016 410h10v10h-10zM1023 398h10v10h-10zM1027 371h10v10h-10zM1032 412h10v10h-10zM1033 397h10v10h-10zM1041 364h10v10h-10zM1041 402h10v10h-10zM1043 396h10v10h-10zM1042 395h10v10h-10zM1048 362h10v10h-10zM1047 365h10v10h-10zM1052 361h10v10h-10zM1051 394h10v10h-10zM1058 358h10v10h-10zM1058 403h10v10h-10zM1068 353h10v10h-10zM1066 398h10v10h-10zM1072 361h10v10h-10zM1072 406h10v10h-10zM1078 365h10v10h-10zM1083 362h10v10h-10zM1083 404h10v10h-10zM1087 397h10v10h-10zM1093 366h10v10h-10zM1097 400h10v10h-10zM1097 371h10v10h-10zM1102 409h10v10h-10zM1103 391h10v10h-10zM1106 346h10v10h-10zM1112 392h10v10h-10zM1113 390h10v10h-10zM1112 365h10v10h-10zM1116 354h10v10h-10zM1122 379h10v10h-10zM1127 329h10v10h-10zM1137 341h10v10h-10zM1136 368h10v10h-10zM1142 364h10v10h-10zM1146 376h10v10h-10zM1147 371h10v10h-10zM1147 363h10v10h-10zM1153 375h10v10h-10zM1153 360h10v10h-10zM1157 365h10v10h-10zM1163 319h10v10h-10zM1163 371h10v10h-10zM1166 326h10v10h-10zM1167 330h10v10h-10zM1168 362h10v10h-10zM1177 311h10v10h-10zM1181 343h10v10h-10zM1183 376h10v10h-10zM1201 340h10v10h-10zM1202 371h10v10h-10zM1211 362h10v10h-10zM1217 328h10v10h-10zM1216 344h10v10h-10zM1228 343h10v10h-10zM1226 373h10v10h-10zM1246 341h10v10h-10zM1248 357h10v10h-10zM1276 365h10v10h-10zM1306 346h10v10h-10zM1312 361h10v10h-10zM1317 358h10v10h-10zM1343 364h10v10h-10zM1356 341h10v10h-10zM1357 347h10v10h-10zM1363 370h10v10h-10zM1366 371h10v10h-10zM1378 370h10v10h-10zM1391 338h10v10h-10zM1391 376h10v10h-10zM1397 351h10v10h-10zM1402 363h10v10h-10zM1408 332h10v10h-10zM1406 368h10v10h-10zM1411 348h10v10h-10zM1416 378h10v10h-10zM1422 333h10v10h-10zM1436 333h10v10h-10zM1438 374h10v10h-10zM1437 369h10v10h-10zM1443 336h10v10h-10zM1442 380h10v10h-10zM1448 339h10v10h-10zM1448 373h10v10h-10zM1453 380h10v10h-10zM1458 331h10v10h-10zM1457 384h10v10h-10zM1461 344h10v10h-10zM1463 348h10v10h-10zM1463 393h10v10h-10zM1468 335h10v10h-10zM1477 387h10v10h-10zM1476 373h10v10h-10zM1488 352h10v10h-10zM1487 323h10v10h-10zM1492 329h10v10h-10zM1502 346h10v10h-10zM1511 352h10v10h-10zM1522 374h10v10h-10zM1526 360h10v10h-10zM1528 370h10v10h-10zM1533 350h10v10h-10zM1537 368h10v10h-10zM1566 358h10v10h-10zM1566 372h10v10h-10zM1591 370h10v10h-10zM1597 346h10v10h-10zM1598 350h10v10h-10zM1603 345h10v10h-10zM1602 348h10v10h-10zM1608 370h10v10h-10zM1606 366h10v10h-10zM1612 337h10v10h-10zM1612 339h10v10h-10zM1617 340h10v10h-10zM1616 345h10v10h-10zM1647 340h10v10h-10zM1652 344h10v10h-10zM1658 360h10v10h-10zM1657 357h10v10h-10zM1663 355h10v10h-10zM1671 365h10v10h-10zM1676 330h10v10h-10zM1677 354h10v10h-10zM1681 331h10v10h-10zM1681 360h10v10h-10zM1686 326h10v10h-10zM1693 353h10v10h-10zM1697 306h10v10h-10zM1702 311h10v10h-10zM1701 317h10v10h-10zM1706 346h10v10h-10zM1711 340h10v10h-10zM1728 320h10v10h-10zM1737 323h10v10h-10zM1741 336h10v10h-10zM1748 340h10v10h-10zM1746 336h10v10h-10zM1752 331h10v10h-10zM1782 330h10v10h-10zM1783 345h10v10h-10zM1807 343h10v10h-10zM1811 341h10v10h-10zM1817 337h10v10h-10zM1822 345h10v10h-10zM1822 344h10v10h-10zM1826 328h10v10h-10zM1827 348h10v10h-10zM1847 337h10v10h-10zM1853 360h10v10h-10zM1853 353h10v10h-10zM1857 343h10v10h-10zM1861 366h10v10h-10zM1867 344h10v10h-10zM1891 356h10v10h-10zM1893 349h10v10h-10zM1896 345h10v10h-10zM1897 354h10v10h-10zM1906 359h10v10h-10zM1906 350h10v10h-10zM1912 334h10v10h-10zM1922 338h10v10h-10zM1932 346h10v10h-10zM1937 349h10v10h-10z"/>
<path fill="#2c5eb0" d="M293 356h10v10h-10zM302 346h10v10h-10zM371 362h10v10h-10zM377 363h10v10h-10zM393 362h10v10h-10zM402 355h10v10h-10zM421 351h10v10h-10zM426 351h10v10h-10zM426 362h10v10h-10zM433 358h10v10h-10zM446 346h10v10h-10zM457 349h10v10h-10zM461 351h10v10h-10zM461 358h10v10h-10zM477 343h10v10h-10zM481 362h10v10h-10zM493 345h10v10h-10zM497 342h10v10h-10zM511 354h10v10h-10zM527 359h10v10h-10zM527 350h10v10h-10zM532 360h10v10h-10zM537 351h10v10h-10zM546 346h10v10h-10zM562 369h10v10h-10zM582 375h10v10h-10zM592 382h10v10h-10zM592 361h10v10h-10zM602 383h10v10h-10zM602 366h10v10h-10zM611 322h10v10h-10zM613 386h10v10h-10zM616 336h10v10h-10zM616 381h10v10h-10zM622 381h10v10h-10zM633 372h10v10h-10zM636 383h10v10h-10zM637 366h10v10h-10zM657 324h10v10h-10zM663 328h10v10h-10zM676 379h10v10h-10zM681 335h10v10h-10zM687 341h10v10h-10zM686 365h10v10h-10zM692 340h10v10h-10zM698 326h10v10h-10zM697 341h10v10h-10zM701 326h10v10h-10zM702 332h10v10h-10zM706 338h10v10h-10zM707 372h10v10h-10zM712 354h10v10h-10zM716 361h10v10h-10zM716 355h10v10h-10zM726 332h10v10h-10zM733 353h10v10h-10zM736 341h10v10h-10zM747 346h10v10h-10zM756 325h10v10h-10zM756 338h10v10h-10zM761 370h10v10h-10zM767 325h10v10h-10zM768 359h10v10h-10zM776 365h10v10h-10zM777 377h10v10h-10zM783 353h10v10h-10zM786 331h10v10h-10zM793 328h10v10h-10zM792 364h10v10h-10zM797 354h10v10h-10zM801 334h10v10h-10zM802 351h10v10h-10zM807 363h10v10h-10zM806 355h10v10h-10zM817 369h10v10h-10zM822 326h10v10h-10zM827 331h10v10h-10zM826 337h10v10h-10zM828 367h10v10h-10zM837 331h10v10h-10zM841 369h10v10h-10zM852 326h10v10h-10zM852 354h10v10h-10zM866 368h10v10h-10zM882 356h10v10h-10zM897 358h10v10h-10zM901 363h10v10h-10zM907 359h10v10h-10zM908 355h10v10h-10zM917 331h10v10h-10zM916 335h10v10h-10zM918 357h10v10h-10zM921 337h10v10h-10zM923 364h10v10h-10zM928 325h10v10h-10zM932 373h10v10h-10zM942 344h10v10h-10zM943 379h10v10h-10zM943 370h10v10h-10zM951 333h10v10h-10zM951 387h10v10h-10zM958 394h10v10h-10zM966 340h10v10h-10zM971 403h10v10h-10zM976 393h10v10h-10zM981 345h10v10h-10zM983 406h10v10h-10zM996 402h10v10h-10zM1001 364h10v10h-10zM1003 367h10v10h-10zM1013 368h10v10h-10zM1013 405h10v10h-10zM1021 357h10v10h-10zM1028 364h10v10h-10zM1031 362h10v10h-10zM1031 366h10v10h-10zM1042 357h10v10h-10zM1043 415h10v10h-10zM1042 406h10v10h-10zM1046 371h10v10h-10zM1056 350h10v10h-10zM1058 366h10v10h-10zM1062 356h10v10h-10zM1068 414h10v10h-10zM1073 408h10v10h-10zM1078 355h10v10h-10zM1076 370h10v10h-10zM1077 395h10v10h-10zM1088 416h10v10h-10zM1098 410h10v10h-10zM1106 363h10v10h-10zM1111 382h10v10h-10zM1128 341h10v10h-10zM1128 386h10v10h-10zM1138 382h10v10h-10zM1146 333h10v10h-10zM1161 376h10v10h-10zM1168 379h10v10h-10zM1172 329h10v10h-10zM1172 342h10v10h-10zM1177 379h10v10h-10zM1176 361h10v10h-10zM1182 356h10v10h-10zM1188 326h10v10h-10zM1187 374h10v10h-10zM1197 384h10v10h-10zM1196 381h10v10h-10zM1197 369h10v10h-10zM1206 334h10v10h-10zM1206 339h10v10h-10zM1206 340h10v10h-10zM1216 340h10v10h-10zM1216 368h10v10h-10zM1222 334h10v10h-10zM1222 346h10v10h-10zM1226 333h10v10h-10zM1243 338h10v10h-10zM1247 360h10v10h-10zM1266 360h10v10h-10zM1281 349h10v10h-10zM1286 346h10v10h-10zM1287 335h10v10h-10zM1293 366h10v10h-10zM1297 345h10v10h-10zM1306 351h10v10h-10zM1343 342h10v10h-10zM1346 370h10v10h-10zM1352 363h10v10h-10zM1371 368h10v10h-10zM1371 365h10v10h-10zM1387 345h10v10h-10zM1387 356h10v10h-10zM1392 363h10v10h-10zM1418 349h10v10h-10zM1416 362h10v10h-10zM1422 373h10v10h-10zM1443 387h10v10h-10zM1446 330h10v10h-10zM1447 382h10v10h-10zM1458 341h10v10h-10zM1457 379h10v10h-10zM1468 343h10v10h-10zM1467 399h10v10h-10zM1473 375h10v10h-10zM1477 358h10v10h-10zM1483 387h10v10h-10zM1493 350h10v10h-10zM1491 378h10v10h-10zM1491 373h10v10h-10zM1496 380h10v10h-10zM1502 393h10v10h-10zM1508 373h10v10h-10zM1507 369h10v10h-10zM1521 352h10v10h-10zM1522 370h10v10h-10zM1531 377h10v10h-10zM1542 359h10v10h-10zM1557 348h10v10h-10zM1561 350h10v10h-10zM1567 357h10v10h-10zM1577 354h10v10h-10zM1583 373h10v10h-10zM1633 358h10v10h-10zM1636 358h10v10h-10zM1653 361h10v10h-10zM1662 330h10v10h-10zM1672 342h10v10h-10zM1677 336h10v10h-10zM1691 343h10v10h-10zM1698 320h10v10h-10zM1703 302h10v10h-10zM1706 311h10v10h-10zM1716 336h10v10h-10zM1746 330h10v10h-10zM1753 342h10v10h-10zM1777 325h10v10h-10zM1786 347h10v10h-10zM1786 343h10v10h-10zM1801 327h10v10h-10zM1811 338h10v10h-10zM1816 329h10v10h-10zM1822 326h10v10h-10zM1833 340h10v10h-10zM1836 348h10v10h-10zM1848 352h10v10h-10zM1861 334h10v10h-10zM1877 351h10v10h-10zM1883 339h10v10h-10zM1883 352h10v10h-10zM1888 361h10v10h-10zM1887 341h10v10h-10zM1896 339h10v10h-10zM1916 344h10v10h-10zM1923 333h10v10h-10zM1922 344h10v10h-10zM1922 352h10v10h-10zM1927 350h10v10h-10zM1938 361h10v10h-10z"/>
<path fill="#ff0000" d="M296 332h10v10h-10zM518 324h10v10h-10zM515 333h10v10h-10zM882 365h10v10h-10zM889 370h10v10h-10zM892 363h10v10h-10zM891 371h10v10h-10zM898 359h10v10h-10zM910 361h10v10h-10zM832 329h10v10h-10zM938 257h10v10h-10zM938 265h10v10h-10zM938 273h10v10h-10zM938 281h10v10h-10zM938 376h10v10h-10zM938 384h10v10h-10zM938 392h10v10h-10zM938 400h10v10h-10zM1455 231h10v10h-10zM1455 239h10v10h-10zM1455 247h10v10h-10zM1455 255h10v10h-10zM1455 263h10v10h-10zM1475 288h10v10h-10zM1475 296h10v10h-10zM1475 304h10v10h-10z"/>
<path fill="#14749a" d="M309 374h10v10h-10z"/>
<path fill="#d01428" d="M515 329h10v10h-10zM719 375h10v10h-10zM903 372h10v10h-10zM927 371h10v10h-10zM965 392h10v10h-10zM820 331h10v10h-10zM823 337h10v10h-10zM832 316h10v10h-10zM1113 420h10v10h-10zM1113 428h10v10h-10zM1113 436h10v10h-10zM1113 444h10v10h-10zM1113 452h10v10h-10zM1168 347h10v10h-10zM1173 337h10v10h-10zM1178 346h10v10h-10zM1191 334h10v10h-10zM1193 347h10v10h-10zM1500 397h10v10h-10zM1500 405h10v10h-10zM1500 413h10v10h-10zM1500 421h10v10h-10zM1833 285h10v10h-10zM1833 293h10v10h-10zM1833 301h10v10h-10zM1833 309h10v10h-10z"/>
<path fill="#ee1020" d="M523 323h10v10h-10zM523 333h10v10h-10zM603 293h10v10h-10zM603 301h10v10h-10zM615 394h10v10h-10zM734 376h10v10h-10zM734 384h10v10h-10zM734 392h10v10h-10zM743 371h10v10h-10zM743 379h10v10h-10zM743 387h10v10h-10zM743 395h10v10h-10zM923 361h10v10h-10zM848 278h10v10h-10zM848 286h10v10h-10zM848 294h10v10h-10zM833 337h10v10h-10zM1166 335h10v10h-10zM1173 342h10v10h-10zM1180 339h10v10h-10zM1185 335h10v10h-10zM1190 342h10v10h-10zM1415 275h10v10h-10zM1415 283h10v10h-10zM1415 291h10v10h-10zM1415 309h10v10h-10zM1415 317h10v10h-10zM1819 279h10v10h-10zM1819 287h10v10h-10zM1819 295h10v10h-10zM1891 374h10v10h-10zM1891 382h10v10h-10zM1671 347h10v10h-10zM1671 355h10v10h-10zM1671 363h10v10h-10z"/>
<path fill="#2a6c92" d="M544 310h11v11h-11zM588 442h11v11h-11zM674 420h11v11h-11zM938 246h11v11h-11zM938 292h11v11h-11zM942 442h11v11h-11zM942 482h11v11h-11zM1414 262h11v11h-11z"/>
<path fill="#2c5eb0" d="M555 376h10v10h-10zM555 384h10v10h-10zM555 392h10v10h-10zM555 400h10v10h-10zM555 423h10v10h-10zM555 431h10v10h-10zM589 395h10v10h-10zM589 403h10v10h-10zM589 411h10v10h-10zM589 419h10v10h-10zM1423 385h10v10h-10zM1423 393h10v10h-10zM1423 401h10v10h-10zM1423 409h10v10h-10z"/>
<path fill="#38c850" d="M556 456h11v11h-11zM602 270h11v11h-11zM610 438h11v11h-11zM610 482h11v11h-11zM938 300h11v11h-11zM1488 454h11v11h-11z"/>
<path fill="#c8183c" d="M554 512h11v11h-11zM554 676h11v11h-11zM590 270h11v11h-11zM590 462h11v11h-11zM588 612h11v11h-11zM674 446h11v11h-11zM730 244h11v11h-11zM962 440h11v11h-11zM1004 294h11v11h-11zM998 310h11v11h-11zM1070 284h11v11h-11zM1148 294h11v11h-11zM1232 392h11v11h-11zM1354 416h11v11h-11zM1622 318h11v11h-11zM1662 314h11v11h-11zM1674 306h11v11h-11z"/>
<path fill="#3a5f92" d="M591 242h10v10h-10zM591 250h10v10h-10zM591 258h10v10h-10zM591 266h10v10h-10zM591 274h10v10h-10zM591 282h10v10h-10zM591 290h10v10h-10zM591 298h10v10h-10zM591 306h10v10h-10zM591 314h10v10h-10zM591 322h10v10h-10z"/>
<path fill="#10f020" d="M603 205h10v10h-10zM603 213h10v10h-10z"/>
<path fill="#0b6cc0" d="M599 245h10v10h-10zM599 253h10v10h-10zM599 261h10v10h-10zM599 269h10v10h-10zM599 277h10v10h-10zM599 285h10v10h-10zM599 293h10v10h-10zM599 301h10v10h-10zM599 309h10v10h-10z"/>
<path fill="#0d6aa5" d="M620 251h10v10h-10zM620 259h10v10h-10zM620 267h10v10h-10zM620 275h10v10h-10zM620 283h10v10h-10zM620 291h10v10h-10zM620 299h10v10h-10zM1453 325h10v10h-10zM1453 333h10v10h-10zM1453 341h10v10h-10zM1453 349h10v10h-10zM1453 357h10v10h-10zM1453 365h10v10h-10zM1453 373h10v10h-10zM1453 381h10v10h-10zM1453 389h10v10h-10zM1453 397h10v10h-10zM1453 405h10v10h-10zM1453 413h10v10h-10zM1453 421h10v10h-10zM1453 429h10v10h-10z"/>
<path fill="#0072bd" d="M731 273h10v10h-10zM731 281h10v10h-10zM731 289h10v10h-10z"/>
<path fill="#f41830" d="M889 359h10v10h-10zM916 359h10v10h-10zM821 321h10v10h-10zM826 318h10v10h-10zM828 322h10v10h-10zM834 323h10v10h-10zM1391 332h10v10h-10zM1391 340h10v10h-10zM1465 386h10v10h-10zM1465 394h10v10h-10zM1465 402h10v10h-10zM1465 410h10v10h-10zM1811 281h10v10h-10zM1811 289h10v10h-10zM1811 297h10v10h-10zM1811 305h10v10h-10zM1811 313h10v10h-10z"/>
<path fill="#e00018" d="M888 366h10v10h-10zM913 366h10v10h-10zM924 364h10v10h-10zM931 358h10v10h-10zM827 333h10v10h-10zM1162 341h10v10h-10zM1168 343h10v10h-10zM1180 336h10v10h-10zM1186 341h10v10h-10zM1600 371h10v10h-10zM1600 379h10v10h-10zM1600 387h10v10h-10zM1600 395h10v10h-10z"/>
<path fill="#20e030" d="M1026 344h10v10h-10zM1415 236h10v10h-10zM1415 244h10v10h-10zM1415 252h10v10h-10zM1457 275h10v10h-10zM1457 283h10v10h-10zM1457 291h10v10h-10zM1457 299h10v10h-10z"/>
<path fill="#2a64a8" d="M1500 291h10v10h-10zM1500 299h10v10h-10zM1500 307h10v10h-10zM1500 315h10v10h-10zM1500 323h10v10h-10z"/>
<polygon fill="#0a70b8" points="272,1040 277,1040 282,1040 287,1040 292,1040 297,1040 302,1040 307,1040 312,1040 317,1040 322,1040 327,1041 332,1041 337,1041 342,1041 347,1041 352,1041 357,1041 362,1041 367,1041 372,1041 377,1041 382,1041 387,1041 392,1041 397,1041 402,1041 407,1041 412,1041 417,1041 422,1041 427,1041 432,1041 437,1041 442,1041 447,1041 452,1041 457,1041 462,1041 467,1041 472,1041 477,1041 482,1041 487,1041 492,1041 497,1041 502,1041 507,1041 512,1041 517,1041 522,1041 527,1041 532,1041 537,1041 542,1041 547,1041 552,1041 557,1040 562,1039 567,1037 572,1036 577,1036 582,1037 587,1037 592,1038 597,1039 602,1040 607,1042 612,1042 617,1042 622,1042 627,1041 632,1041 637,1041 642,1041 647,1041 652,1040 657,1040 662,1040 667,1040 672,1040 677,1040 682,1040 687,1040 692,1040 697,1040 702,1039 707,1037 712,1035 717,1033 722,1032 727,1031 732,1030 737,1029 742,1028 747,1027 752,1026 757,1026 762,1025 767,1024 772,1022 777,1021 782,1020 787,1019 792,1017 797,1016 802,1015 807,1015 812,1015 817,1015 822,1015 827,1015 832,1015 837,1014 842,1013 847,1011 852,1010 857,1010 862,1011 867,1012 872,1013 877,1013 882,1014 887,1014 892,1013 897,1013 902,1013 907,1012 912,1012 917,1012 922,1011 927,1011 932,1011 937,1014 942,1018 947,1022 952,1026 957,1030 962,1031 967,1031 972,1031 977,1031 982,1031 987,1031 992,1031 997,1031 1002,1031 1007,1031 1012,1031 1017,1031 1022,1031 1027,1031 1032,1031 1037,1031 1042,1031 1047,1031 1052,1031 1057,1031 1062,1031 1067,1031 1072,1031 1077,1031 1082,1031 1087,1031 1092,1031 1097,1031 1102,1031 1107,1031 1112,1031 1117,1031 1122,1031 1127,1031 1132,1031 1137,1031 1142,1031 1147,1031 1152,1031 1157,1031 1162,1031 1167,1032 1172,1033 1177,1034 1182,1035 1187,1035 1192,1035 1197,1035 1202,1035 1207,1035 1212,1035 1217,1035 1222,1035 1227,1035 1232,1035 1237,1035 1242,1037 1247,1040 1252,1041 1257,1041 1262,1041 1267,1041 1272,1041 1277,1041 1282,1041 1287,1041 1292,1041 1297,1041 1302,1041 1307,1041 1312,1041 1317,1041 1322,1041 1327,1041 1332,1041 1337,1041 1342,1041 1347,1041 1352,1041 1357,1041 1362,1041 1367,1041 1372,1041 1377,1041 1382,1040 1387,1040 1392,1039 1397,1038 1402,1038 1407,1038 1412,1038 1417,1039 1422,1039 1427,1039 1432,1039 1437,1038 1442,1038 1447,1037 1452,1037 1457,1036 1462,1035 1467,1035 1472,1034 1477,1033 1482,1034 1487,1034 1492,1035 1497,1035 1502,1035 1507,1036 1512,1036 1517,1036 1522,1036 1527,1037 1532,1037 1537,1037 1542,1037 1547,1038 1552,1038 1557,1038 1562,1038 1567,1038 1572,1039 1577,1039 1582,1039 1587,1039 1592,1040 1597,1040 1602,1040 1607,1039 1612,1038 1617,1037 1622,1036 1627,1035 1632,1033 1637,1032 1642,1030 1647,1029 1652,1027 1657,1027 1662,1026 1667,1025 1672,1024 1677,1024 1682,1022 1687,1021 1692,1019 1697,1017 1702,1016 1707,1016 1712,1016 1717,1016 1722,1016 1727,1016 1732,1015 1737,1015 1742,1014 1747,1014 1752,1013 1757,1013 1762,1013 1767,1013 1772,1013 1777,1013 1782,1013 1787,1013 1792,1013 1797,1012 1802,1010 1807,1008 1812,1006 1817,1006 1822,1007 1827,1008 1832,1011 1837,1018 1842,1025 1847,1032 1852,1036 1857,1036 1862,1036 1867,1036 1872,1035 1877,1035 1882,1035 1887,1035 1892,1034 1897,1034 1902,1034 1907,1034 1912,1034 1917,1036 1922,1037 1927,1039 1932,1040 1937,1042 1942,1043 1942,1057 1937,1056 1932,1055 1927,1054 1922,1053 1917,1052 1912,1051 1907,1051 1902,1051 1897,1052 1892,1052 1887,1053 1882,1054 1877,1054 1872,1055 1867,1055 1862,1056 1857,1057 1852,1057 1847,1054 1842,1048 1837,1043 1832,1037 1827,1034 1822,1032 1817,1030 1812,1030 1807,1031 1802,1031 1797,1032 1792,1032 1787,1032 1782,1032 1777,1032 1772,1032 1767,1032 1762,1032 1757,1033 1752,1034 1747,1035 1742,1037 1737,1038 1732,1039 1727,1040 1722,1041 1717,1043 1712,1045 1707,1047 1702,1049 1697,1049 1692,1047 1687,1045 1682,1043 1677,1042 1672,1042 1667,1042 1662,1042 1657,1043 1652,1043 1647,1044 1642,1044 1637,1045 1632,1045 1627,1046 1622,1046 1617,1047 1612,1048 1607,1049 1602,1051 1597,1051 1592,1051 1587,1051 1582,1051 1577,1051 1572,1050 1567,1050 1562,1050 1557,1050 1552,1050 1547,1050 1542,1050 1537,1050 1532,1050 1527,1050 1522,1050 1517,1049 1512,1049 1507,1049 1502,1050 1497,1050 1492,1050 1487,1051 1482,1051 1477,1052 1472,1052 1467,1052 1462,1052 1457,1052 1452,1053 1447,1053 1442,1053 1437,1053 1432,1054 1427,1054 1422,1054 1417,1054 1412,1053 1407,1053 1402,1053 1397,1053 1392,1054 1387,1054 1382,1054 1377,1054 1372,1055 1367,1055 1362,1055 1357,1055 1352,1055 1347,1055 1342,1055 1337,1055 1332,1055 1327,1055 1322,1055 1317,1055 1312,1055 1307,1055 1302,1055 1297,1055 1292,1055 1287,1055 1282,1055 1277,1055 1272,1055 1267,1055 1262,1055 1257,1055 1252,1055 1247,1056 1242,1059 1237,1062 1232,1062 1227,1062 1222,1062 1217,1062 1212,1062 1207,1062 1202,1062 1197,1062 1192,1062 1187,1062 1182,1062 1177,1062 1172,1062 1167,1063 1162,1063 1157,1063 1152,1063 1147,1063 1142,1063 1137,1063 1132,1063 1127,1063 1122,1063 1117,1062 1112,1061 1107,1059 1102,1057 1097,1056 1092,1054 1087,1053 1082,1053 1077,1053 1072,1053 1067,1053 1062,1053 1057,1053 1052,1053 1047,1053 1042,1053 1037,1053 1032,1053 1027,1053 1022,1053 1017,1053 1012,1053 1007,1053 1002,1053 997,1053 992,1053 987,1053 982,1053 977,1053 972,1053 967,1053 962,1053 957,1052 952,1051 947,1050 942,1049 937,1048 932,1048 927,1048 922,1048 917,1048 912,1048 907,1048 902,1048 897,1048 892,1049 887,1049 882,1049 877,1048 872,1048 867,1047 862,1046 857,1046 852,1045 847,1045 842,1045 837,1045 832,1045 827,1045 822,1045 817,1045 812,1045 807,1045 802,1045 797,1046 792,1048 787,1050 782,1052 777,1054 772,1056 767,1058 762,1059 757,1060 752,1060 747,1061 742,1061 737,1062 732,1063 727,1063 722,1064 717,1064 712,1065 707,1066 702,1067 697,1067 692,1067 687,1067 682,1067 677,1067 672,1067 667,1067 662,1067 657,1067 652,1068 647,1068 642,1069 637,1069 632,1070 627,1071 622,1073 617,1074 612,1075 607,1074 602,1071 597,1067 592,1064 587,1061 582,1058 577,1055 572,1051 567,1051 562,1051 557,1051 552,1052 547,1052 542,1052 537,1052 532,1052 527,1052 522,1052 517,1052 512,1052 507,1052 502,1052 497,1052 492,1052 487,1052 482,1052 477,1052 472,1052 467,1052 462,1052 457,1052 452,1052 447,1052 442,1052 437,1052 432,1052 427,1053 422,1053 417,1053 412,1053 407,1053 402,1053 397,1053 392,1053 387,1053 382,1052 377,1052 372,1052 367,1052 362,1052 357,1052 352,1052 347,1052 342,1052 337,1052 332,1052 327,1052 322,1052 317,1052 312,1052 307,1051 302,1051 297,1051 292,1051 287,1051 282,1051 277,1051 272,1051"/>
<path fill="#0072bd" d="M266 1032h10v10h-10zM267 1047h10v10h-10zM273 1037h10v10h-10zM277 1046h10v10h-10zM286 1032h10v10h-10zM313 1032h10v10h-10zM316 1032h10v10h-10zM338 1034h10v10h-10zM357 1038h10v10h-10zM361 1043h10v10h-10zM368 1051h10v10h-10zM381 1034h10v10h-10zM382 1037h10v10h-10zM387 1045h10v10h-10zM423 1036h10v10h-10zM433 1035h10v10h-10zM432 1038h10v10h-10zM478 1040h10v10h-10zM477 1048h10v10h-10zM478 1043h10v10h-10zM491 1040h10v10h-10zM513 1036h10v10h-10zM522 1047h10v10h-10zM532 1042h10v10h-10zM536 1040h10v10h-10zM553 1038h10v10h-10zM563 1034h10v10h-10zM562 1048h10v10h-10zM562 1046h10v10h-10zM568 1045h10v10h-10zM577 1023h10v10h-10zM581 1023h10v10h-10zM581 1027h10v10h-10zM581 1055h10v10h-10zM581 1051h10v10h-10zM588 1027h10v10h-10zM587 1037h10v10h-10zM596 1063h10v10h-10zM596 1061h10v10h-10zM602 1060h10v10h-10zM607 1070h10v10h-10zM607 1066h10v10h-10zM613 1037h10v10h-10zM613 1073h10v10h-10zM617 1072h10v10h-10zM617 1037h10v10h-10zM631 1071h10v10h-10zM646 1076h10v10h-10zM656 1033h10v10h-10zM661 1034h10v10h-10zM663 1073h10v10h-10zM677 1030h10v10h-10zM677 1036h10v10h-10zM677 1058h10v10h-10zM691 1035h10v10h-10zM697 1028h10v10h-10zM701 1029h10v10h-10zM706 1073h10v10h-10zM711 1018h10v10h-10zM712 1022h10v10h-10zM713 1032h10v10h-10zM717 1017h10v10h-10zM723 1054h10v10h-10zM727 1062h10v10h-10zM731 1020h10v10h-10zM736 1069h10v10h-10zM741 1062h10v10h-10zM747 1020h10v10h-10zM746 1066h10v10h-10zM763 1007h10v10h-10zM762 1019h10v10h-10zM767 1016h10v10h-10zM766 1066h10v10h-10zM771 1054h10v10h-10zM776 1015h10v10h-10zM777 1020h10v10h-10zM777 1053h10v10h-10zM783 1020h10v10h-10zM792 1039h10v10h-10zM797 1007h10v10h-10zM797 1037h10v10h-10zM802 998h10v10h-10zM801 1007h10v10h-10zM807 1003h10v10h-10zM806 1006h10v10h-10zM806 1047h10v10h-10zM811 1013h10v10h-10zM822 1054h10v10h-10zM821 1049h10v10h-10zM827 995h10v10h-10zM827 1044h10v10h-10zM832 1006h10v10h-10zM831 1009h10v10h-10zM841 997h10v10h-10zM842 1052h10v10h-10zM848 992h10v10h-10zM846 1042h10v10h-10zM853 999h10v10h-10zM852 1049h10v10h-10zM858 994h10v10h-10zM858 1055h10v10h-10zM856 1049h10v10h-10zM861 993h10v10h-10zM862 1009h10v10h-10zM861 1049h10v10h-10zM866 1039h10v10h-10zM873 1009h10v10h-10zM878 997h10v10h-10zM886 995h10v10h-10zM887 1008h10v10h-10zM887 1071h10v10h-10zM892 995h10v10h-10zM896 1057h10v10h-10zM903 1001h10v10h-10zM903 1044h10v10h-10zM903 1039h10v10h-10zM906 1052h10v10h-10zM916 1009h10v10h-10zM922 1059h10v10h-10zM921 1041h10v10h-10zM931 1007h10v10h-10zM933 1050h10v10h-10zM932 1013h10v10h-10zM943 1015h10v10h-10zM948 1023h10v10h-10zM952 1024h10v10h-10zM952 1051h10v10h-10zM956 1051h10v10h-10zM961 1024h10v10h-10zM963 1049h10v10h-10zM967 1032h10v10h-10zM973 1045h10v10h-10zM977 1019h10v10h-10zM977 1023h10v10h-10zM983 1029h10v10h-10zM982 1027h10v10h-10zM988 1025h10v10h-10zM987 1047h10v10h-10zM997 1048h10v10h-10zM1003 1019h10v10h-10zM1001 1056h10v10h-10zM1002 1050h10v10h-10zM1007 1028h10v10h-10zM1006 1047h10v10h-10zM1012 1021h10v10h-10zM1012 1046h10v10h-10zM1032 1024h10v10h-10zM1046 1052h10v10h-10zM1053 1019h10v10h-10zM1053 1055h10v10h-10zM1058 1055h10v10h-10zM1073 1024h10v10h-10zM1078 1047h10v10h-10zM1098 1031h10v10h-10zM1101 1066h10v10h-10zM1111 1069h10v10h-10zM1113 1063h10v10h-10zM1116 1066h10v10h-10zM1123 1025h10v10h-10zM1123 1068h10v10h-10zM1131 1029h10v10h-10zM1136 1026h10v10h-10zM1137 1054h10v10h-10zM1141 1028h10v10h-10zM1143 1075h10v10h-10zM1152 1010h10v10h-10zM1156 1059h10v10h-10zM1181 1028h10v10h-10zM1183 1053h10v10h-10zM1187 1033h10v10h-10zM1187 1053h10v10h-10zM1191 1033h10v10h-10zM1198 1053h10v10h-10zM1197 1076h10v10h-10zM1201 1030h10v10h-10zM1206 1026h10v10h-10zM1222 1070h10v10h-10zM1227 1064h10v10h-10zM1233 1028h10v10h-10zM1236 1054h10v10h-10zM1242 1058h10v10h-10zM1252 1049h10v10h-10zM1296 1052h10v10h-10zM1296 1050h10v10h-10zM1348 1049h10v10h-10zM1367 1053h10v10h-10zM1382 1038h10v10h-10zM1391 1028h10v10h-10zM1402 1027h10v10h-10zM1408 1052h10v10h-10zM1421 1048h10v10h-10zM1426 1036h10v10h-10zM1427 1040h10v10h-10zM1432 1043h10v10h-10zM1436 1049h10v10h-10zM1467 1043h10v10h-10zM1478 1047h10v10h-10zM1481 1048h10v10h-10zM1491 1041h10v10h-10zM1512 1032h10v10h-10zM1516 1044h10v10h-10zM1548 1047h10v10h-10zM1548 1043h10v10h-10zM1562 1031h10v10h-10zM1581 1030h10v10h-10zM1587 1031h10v10h-10zM1603 1033h10v10h-10zM1606 1039h10v10h-10zM1627 1024h10v10h-10zM1636 1026h10v10h-10zM1642 1029h10v10h-10zM1652 1028h10v10h-10zM1683 1019h10v10h-10zM1692 1013h10v10h-10zM1707 1001h10v10h-10zM1708 1012h10v10h-10zM1706 1049h10v10h-10zM1712 1027h10v10h-10zM1728 999h10v10h-10zM1726 1004h10v10h-10zM1731 998h10v10h-10zM1742 1036h10v10h-10zM1746 1006h10v10h-10zM1748 1033h10v10h-10zM1751 1000h10v10h-10zM1751 1005h10v10h-10zM1752 1024h10v10h-10zM1778 1007h10v10h-10zM1776 1033h10v10h-10zM1792 1007h10v10h-10zM1802 1011h10v10h-10zM1801 1018h10v10h-10zM1802 1004h10v10h-10zM1808 1029h10v10h-10zM1807 1018h10v10h-10zM1813 1001h10v10h-10zM1827 1025h10v10h-10zM1833 1033h10v10h-10zM1838 1015h10v10h-10zM1856 1055h10v10h-10zM1862 1033h10v10h-10zM1866 1030h10v10h-10zM1878 1046h10v10h-10zM1888 1027h10v10h-10zM1898 1034h10v10h-10zM1912 1053h10v10h-10zM1911 1046h10v10h-10zM1917 1034h10v10h-10zM1921 1049h10v10h-10zM1937 1039h10v10h-10z"/>
<path fill="#2c5eb0" d="M266 1040h10v10h-10zM266 1044h10v10h-10zM276 1042h10v10h-10zM283 1043h10v10h-10zM288 1037h10v10h-10zM291 1049h10v10h-10zM297 1045h10v10h-10zM303 1038h10v10h-10zM302 1047h10v10h-10zM313 1039h10v10h-10zM328 1050h10v10h-10zM348 1050h10v10h-10zM358 1043h10v10h-10zM373 1035h10v10h-10zM376 1039h10v10h-10zM382 1045h10v10h-10zM387 1049h10v10h-10zM438 1035h10v10h-10zM442 1051h10v10h-10zM447 1036h10v10h-10zM451 1033h10v10h-10zM486 1034h10v10h-10zM503 1040h10v10h-10zM516 1036h10v10h-10zM531 1049h10v10h-10zM553 1048h10v10h-10zM566 1031h10v10h-10zM578 1027h10v10h-10zM578 1060h10v10h-10zM577 1072h10v10h-10zM587 1021h10v10h-10zM601 1019h10v10h-10zM601 1073h10v10h-10zM611 1068h10v10h-10zM618 1027h10v10h-10zM616 1076h10v10h-10zM621 1080h10v10h-10zM626 1077h10v10h-10zM628 1064h10v10h-10zM631 1023h10v10h-10zM637 1050h10v10h-10zM642 1076h10v10h-10zM643 1070h10v10h-10zM648 1039h10v10h-10zM657 1069h10v10h-10zM657 1063h10v10h-10zM667 1069h10v10h-10zM668 1059h10v10h-10zM672 1027h10v10h-10zM672 1033h10v10h-10zM672 1013h10v10h-10zM677 1063h10v10h-10zM686 1023h10v10h-10zM686 1073h10v10h-10zM697 1031h10v10h-10zM697 1038h10v10h-10zM696 1059h10v10h-10zM702 1018h10v10h-10zM713 1055h10v10h-10zM716 1075h10v10h-10zM717 1069h10v10h-10zM723 1072h10v10h-10zM728 1025h10v10h-10zM742 1024h10v10h-10zM747 1013h10v10h-10zM746 1056h10v10h-10zM751 1003h10v10h-10zM752 1010h10v10h-10zM776 1060h10v10h-10zM781 1045h10v10h-10zM786 1008h10v10h-10zM788 1058h10v10h-10zM788 1042h10v10h-10zM793 997h10v10h-10zM792 1051h10v10h-10zM791 1046h10v10h-10zM802 1004h10v10h-10zM803 1013h10v10h-10zM813 997h10v10h-10zM812 1053h10v10h-10zM816 1013h10v10h-10zM822 1011h10v10h-10zM831 998h10v10h-10zM832 1014h10v10h-10zM836 998h10v10h-10zM838 1003h10v10h-10zM837 1056h10v10h-10zM848 1010h10v10h-10zM871 1051h10v10h-10zM876 1013h10v10h-10zM878 1050h10v10h-10zM877 1045h10v10h-10zM877 983h10v10h-10zM882 1006h10v10h-10zM881 1057h10v10h-10zM888 1052h10v10h-10zM893 1057h10v10h-10zM897 1010h10v10h-10zM898 1040h10v10h-10zM903 993h10v10h-10zM902 1056h10v10h-10zM907 992h10v10h-10zM906 998h10v10h-10zM911 995h10v10h-10zM917 1061h10v10h-10zM921 989h10v10h-10zM921 1045h10v10h-10zM942 1050h10v10h-10zM947 1014h10v10h-10zM952 1014h10v10h-10zM953 1022h10v10h-10zM958 1028h10v10h-10zM957 1046h10v10h-10zM967 1020h10v10h-10zM968 1026h10v10h-10zM982 1016h10v10h-10zM981 1045h10v10h-10zM986 1027h10v10h-10zM987 1050h10v10h-10zM1001 1023h10v10h-10zM1018 1055h10v10h-10zM1018 1050h10v10h-10zM1023 1029h10v10h-10zM1032 1019h10v10h-10zM1033 1049h10v10h-10zM1036 1022h10v10h-10zM1042 1043h10v10h-10zM1048 1029h10v10h-10zM1046 1046h10v10h-10zM1057 1045h10v10h-10zM1066 1054h10v10h-10zM1078 1025h10v10h-10zM1087 1023h10v10h-10zM1086 1053h10v10h-10zM1088 1049h10v10h-10zM1098 1014h10v10h-10zM1108 1012h10v10h-10zM1107 1027h10v10h-10zM1113 1024h10v10h-10zM1122 1013h10v10h-10zM1126 1075h10v10h-10zM1132 1036h10v10h-10zM1136 1029h10v10h-10zM1141 1053h10v10h-10zM1148 1030h10v10h-10zM1147 1076h10v10h-10zM1151 1014h10v10h-10zM1157 1047h10v10h-10zM1161 1027h10v10h-10zM1162 1031h10v10h-10zM1162 1063h10v10h-10zM1161 1056h10v10h-10zM1168 1020h10v10h-10zM1171 1015h10v10h-10zM1177 1029h10v10h-10zM1177 1033h10v10h-10zM1176 1055h10v10h-10zM1181 1024h10v10h-10zM1192 1027h10v10h-10zM1201 1021h10v10h-10zM1207 1022h10v10h-10zM1206 1052h10v10h-10zM1212 1071h10v10h-10zM1218 1029h10v10h-10zM1226 1030h10v10h-10zM1227 1059h10v10h-10zM1241 1031h10v10h-10zM1241 1047h10v10h-10zM1258 1054h10v10h-10zM1281 1039h10v10h-10zM1293 1040h10v10h-10zM1291 1055h10v10h-10zM1298 1032h10v10h-10zM1303 1032h10v10h-10zM1313 1040h10v10h-10zM1326 1038h10v10h-10zM1338 1052h10v10h-10zM1378 1046h10v10h-10zM1382 1030h10v10h-10zM1383 1054h10v10h-10zM1387 1031h10v10h-10zM1387 1033h10v10h-10zM1386 1049h10v10h-10zM1397 1040h10v10h-10zM1407 1033h10v10h-10zM1407 1043h10v10h-10zM1418 1038h10v10h-10zM1417 1054h10v10h-10zM1427 1041h10v10h-10zM1431 1035h10v10h-10zM1443 1037h10v10h-10zM1453 1037h10v10h-10zM1452 1049h10v10h-10zM1471 1043h10v10h-10zM1482 1023h10v10h-10zM1491 1029h10v10h-10zM1501 1050h10v10h-10zM1518 1048h10v10h-10zM1531 1032h10v10h-10zM1542 1029h10v10h-10zM1556 1036h10v10h-10zM1573 1041h10v10h-10zM1591 1047h10v10h-10zM1592 1042h10v10h-10zM1598 1032h10v10h-10zM1597 1048h10v10h-10zM1606 1044h10v10h-10zM1613 1033h10v10h-10zM1613 1036h10v10h-10zM1621 1034h10v10h-10zM1622 1043h10v10h-10zM1642 1042h10v10h-10zM1648 1024h10v10h-10zM1662 1025h10v10h-10zM1668 1023h10v10h-10zM1678 1035h10v10h-10zM1688 1005h10v10h-10zM1686 1017h10v10h-10zM1687 1055h10v10h-10zM1688 1049h10v10h-10zM1686 1045h10v10h-10zM1691 1016h10v10h-10zM1692 1058h10v10h-10zM1697 1048h10v10h-10zM1718 1004h10v10h-10zM1716 1033h10v10h-10zM1722 999h10v10h-10zM1722 1045h10v10h-10zM1738 1036h10v10h-10zM1746 1036h10v10h-10zM1768 999h10v10h-10zM1768 1023h10v10h-10zM1778 1000h10v10h-10zM1793 999h10v10h-10zM1802 1005h10v10h-10zM1812 995h10v10h-10zM1826 1045h10v10h-10zM1831 1016h10v10h-10zM1843 1025h10v10h-10zM1858 1032h10v10h-10zM1867 1032h10v10h-10zM1876 1050h10v10h-10zM1883 1029h10v10h-10zM1882 1035h10v10h-10zM1903 1024h10v10h-10zM1903 1028h10v10h-10zM1901 1034h10v10h-10zM1907 1044h10v10h-10zM1922 1046h10v10h-10z"/>
<path fill="#14749a" d="M272 1035h10v10h-10zM291 1038h10v10h-10zM297 1034h10v10h-10zM326 1038h10v10h-10zM331 1040h10v10h-10zM331 1048h10v10h-10zM341 1046h10v10h-10zM363 1032h10v10h-10zM362 1040h10v10h-10zM367 1045h10v10h-10zM392 1037h10v10h-10zM393 1046h10v10h-10zM403 1046h10v10h-10zM408 1037h10v10h-10zM413 1033h10v10h-10zM417 1039h10v10h-10zM428 1035h10v10h-10zM428 1046h10v10h-10zM463 1051h10v10h-10zM471 1048h10v10h-10zM483 1048h10v10h-10zM486 1048h10v10h-10zM492 1043h10v10h-10zM498 1049h10v10h-10zM506 1042h10v10h-10zM511 1042h10v10h-10zM532 1036h10v10h-10zM547 1034h10v10h-10zM566 1028h10v10h-10zM572 1031h10v10h-10zM578 1050h10v10h-10zM581 1039h10v10h-10zM597 1026h10v10h-10zM596 1037h10v10h-10zM602 1030h10v10h-10zM606 1088h10v10h-10zM607 1082h10v10h-10zM611 1022h10v10h-10zM618 1036h10v10h-10zM632 1034h10v10h-10zM633 1064h10v10h-10zM632 1063h10v10h-10zM637 1029h10v10h-10zM642 1027h10v10h-10zM642 1068h10v10h-10zM647 1061h10v10h-10zM651 1032h10v10h-10zM666 1064h10v10h-10zM678 1070h10v10h-10zM682 1039h10v10h-10zM687 1071h10v10h-10zM692 1030h10v10h-10zM693 1038h10v10h-10zM692 1074h10v10h-10zM698 1064h10v10h-10zM708 1032h10v10h-10zM717 1046h10v10h-10zM722 1009h10v10h-10zM721 1017h10v10h-10zM727 1014h10v10h-10zM737 1071h10v10h-10zM736 1058h10v10h-10zM743 1012h10v10h-10zM743 1022h10v10h-10zM747 1003h10v10h-10zM748 1011h10v10h-10zM762 1022h10v10h-10zM766 1006h10v10h-10zM767 1061h10v10h-10zM767 1053h10v10h-10zM771 999h10v10h-10zM772 1066h10v10h-10zM776 1049h10v10h-10zM782 1061h10v10h-10zM782 1050h10v10h-10zM788 1012h10v10h-10zM833 1040h10v10h-10zM837 1035h10v10h-10zM843 999h10v10h-10zM842 1036h10v10h-10zM847 1058h10v10h-10zM847 1036h10v10h-10zM852 1030h10v10h-10zM857 997h10v10h-10zM872 992h10v10h-10zM871 1039h10v10h-10zM876 1056h10v10h-10zM878 1040h10v10h-10zM882 1052h10v10h-10zM892 1002h10v10h-10zM902 1004h10v10h-10zM906 1056h10v10h-10zM908 1044h10v10h-10zM911 1059h10v10h-10zM911 1045h10v10h-10zM918 991h10v10h-10zM917 1045h10v10h-10zM921 1053h10v10h-10zM931 992h10v10h-10zM931 997h10v10h-10zM933 1010h10v10h-10zM933 1044h10v10h-10zM932 1039h10v10h-10zM932 1068h10v10h-10zM938 1002h10v10h-10zM937 1059h10v10h-10zM937 1044h10v10h-10zM947 1028h10v10h-10zM962 1046h10v10h-10zM972 1024h10v10h-10zM973 1027h10v10h-10zM978 1026h10v10h-10zM978 1054h10v10h-10zM981 1024h10v10h-10zM997 1020h10v10h-10zM997 1057h10v10h-10zM1012 1047h10v10h-10zM1052 1036h10v10h-10zM1067 1022h10v10h-10zM1072 1046h10v10h-10zM1083 1048h10v10h-10zM1088 1026h10v10h-10zM1107 1017h10v10h-10zM1118 1017h10v10h-10zM1122 1055h10v10h-10zM1126 1015h10v10h-10zM1127 1029h10v10h-10zM1132 1064h10v10h-10zM1153 1025h10v10h-10zM1157 1065h10v10h-10zM1163 1054h10v10h-10zM1171 1027h10v10h-10zM1182 1071h10v10h-10zM1182 1061h10v10h-10zM1187 1019h10v10h-10zM1188 1029h10v10h-10zM1191 1069h10v10h-10zM1197 1017h10v10h-10zM1198 1067h10v10h-10zM1197 1008h10v10h-10zM1202 1016h10v10h-10zM1206 1034h10v10h-10zM1216 1023h10v10h-10zM1226 1034h10v10h-10zM1237 1033h10v10h-10zM1237 1065h10v10h-10zM1253 1033h10v10h-10zM1266 1039h10v10h-10zM1278 1040h10v10h-10zM1278 1054h10v10h-10zM1287 1037h10v10h-10zM1317 1048h10v10h-10zM1333 1046h10v10h-10zM1338 1035h10v10h-10zM1337 1049h10v10h-10zM1343 1038h10v10h-10zM1372 1054h10v10h-10zM1398 1051h10v10h-10zM1412 1035h10v10h-10zM1412 1047h10v10h-10zM1423 1039h10v10h-10zM1426 1047h10v10h-10zM1436 1038h10v10h-10zM1436 1053h10v10h-10zM1443 1025h10v10h-10zM1442 1031h10v10h-10zM1448 1032h10v10h-10zM1448 1048h10v10h-10zM1456 1026h10v10h-10zM1456 1036h10v10h-10zM1456 1044h10v10h-10zM1473 1047h10v10h-10zM1487 1033h10v10h-10zM1487 1047h10v10h-10zM1487 1042h10v10h-10zM1497 1024h10v10h-10zM1497 1045h10v10h-10zM1508 1026h10v10h-10zM1523 1027h10v10h-10zM1546 1030h10v10h-10zM1551 1048h10v10h-10zM1576 1035h10v10h-10zM1598 1039h10v10h-10zM1612 1039h10v10h-10zM1631 1043h10v10h-10zM1636 1039h10v10h-10zM1652 1023h10v10h-10zM1663 1039h10v10h-10zM1666 1015h10v10h-10zM1678 1041h10v10h-10zM1682 1014h10v10h-10zM1698 997h10v10h-10zM1698 1054h10v10h-10zM1697 1012h10v10h-10zM1702 1006h10v10h-10zM1702 1050h10v10h-10zM1717 1036h10v10h-10zM1728 1029h10v10h-10zM1733 1039h10v10h-10zM1761 1004h10v10h-10zM1763 1027h10v10h-10zM1771 1002h10v10h-10zM1781 1035h10v10h-10zM1786 999h10v10h-10zM1788 1007h10v10h-10zM1803 1031h10v10h-10zM1818 1030h10v10h-10zM1817 978h10v10h-10zM1831 1042h10v10h-10zM1841 1034h10v10h-10zM1847 1034h10v10h-10zM1852 1060h10v10h-10zM1861 1022h10v10h-10zM1867 1022h10v10h-10zM1867 1041h10v10h-10zM1871 1028h10v10h-10zM1876 1034h10v10h-10zM1883 1024h10v10h-10zM1898 1030h10v10h-10zM1897 1045h10v10h-10zM1918 1049h10v10h-10zM1926 1030h10v10h-10z"/>
<path fill="#0b6cc0" d="M272 1049h10v10h-10zM276 1034h10v10h-10zM288 1047h10v10h-10zM307 1035h10v10h-10zM347 1044h10v10h-10zM353 1039h10v10h-10zM351 1049h10v10h-10zM371 1038h10v10h-10zM378 1035h10v10h-10zM376 1051h10v10h-10zM391 1033h10v10h-10zM402 1039h10v10h-10zM417 1044h10v10h-10zM431 1043h10v10h-10zM436 1040h10v10h-10zM462 1042h10v10h-10zM466 1050h10v10h-10zM471 1038h10v10h-10zM471 1043h10v10h-10zM481 1039h10v10h-10zM486 1043h10v10h-10zM528 1037h10v10h-10zM528 1039h10v10h-10zM527 1050h10v10h-10zM541 1033h10v10h-10zM542 1046h10v10h-10zM551 1034h10v10h-10zM556 1032h10v10h-10zM557 1049h10v10h-10zM567 1037h10v10h-10zM573 1047h10v10h-10zM581 1062h10v10h-10zM586 1067h10v10h-10zM587 1062h10v10h-10zM603 1026h10v10h-10zM602 1040h10v10h-10zM603 1069h10v10h-10zM602 1063h10v10h-10zM613 1042h10v10h-10zM611 1081h10v10h-10zM612 1057h10v10h-10zM621 1022h10v10h-10zM623 1077h10v10h-10zM628 1024h10v10h-10zM632 1085h10v10h-10zM636 1038h10v10h-10zM638 1070h10v10h-10zM652 1061h10v10h-10zM662 1025h10v10h-10zM676 1034h10v10h-10zM691 1058h10v10h-10zM692 1040h10v10h-10zM702 1035h10v10h-10zM707 1064h10v10h-10zM718 1022h10v10h-10zM718 1026h10v10h-10zM721 1059h10v10h-10zM727 1020h10v10h-10zM726 1060h10v10h-10zM733 1064h10v10h-10zM743 1068h10v10h-10zM741 1058h10v10h-10zM752 1072h10v10h-10zM758 1051h10v10h-10zM761 1011h10v10h-10zM762 1026h10v10h-10zM776 1040h10v10h-10zM781 1056h10v10h-10zM788 1000h10v10h-10zM796 996h10v10h-10zM796 1043h10v10h-10zM801 1047h10v10h-10zM811 1037h10v10h-10zM828 1000h10v10h-10zM827 1006h10v10h-10zM836 1012h10v10h-10zM836 1045h10v10h-10zM846 999h10v10h-10zM851 1039h10v10h-10zM856 1003h10v10h-10zM877 1027h10v10h-10zM887 1003h10v10h-10zM888 1040h10v10h-10zM897 1073h10v10h-10zM901 1011h10v10h-10zM913 1054h10v10h-10zM911 1050h10v10h-10zM928 996h10v10h-10zM928 1008h10v10h-10zM931 1061h10v10h-10zM937 999h10v10h-10zM938 1014h10v10h-10zM937 1047h10v10h-10zM957 1021h10v10h-10zM961 1019h10v10h-10zM967 1022h10v10h-10zM967 1047h10v10h-10zM998 1052h10v10h-10zM1008 1050h10v10h-10zM1007 1038h10v10h-10zM1042 1055h10v10h-10zM1048 1023h10v10h-10zM1052 1045h10v10h-10zM1067 1019h10v10h-10zM1068 1026h10v10h-10zM1068 1050h10v10h-10zM1072 1019h10v10h-10zM1092 1018h10v10h-10zM1093 1031h10v10h-10zM1093 1051h10v10h-10zM1098 1019h10v10h-10zM1097 1025h10v10h-10zM1097 1049h10v10h-10zM1103 1013h10v10h-10zM1112 1073h10v10h-10zM1118 1059h10v10h-10zM1122 1010h10v10h-10zM1123 1018h10v10h-10zM1127 1024h10v10h-10zM1127 1059h10v10h-10zM1136 1073h10v10h-10zM1138 1062h10v10h-10zM1142 1015h10v10h-10zM1142 1060h10v10h-10zM1148 1010h10v10h-10zM1147 1025h10v10h-10zM1147 1031h10v10h-10zM1153 1065h10v10h-10zM1152 1053h10v10h-10zM1161 1072h10v10h-10zM1167 1058h10v10h-10zM1171 1058h10v10h-10zM1176 1018h10v10h-10zM1176 1058h10v10h-10zM1183 1033h10v10h-10zM1191 1060h10v10h-10zM1197 1025h10v10h-10zM1212 1018h10v10h-10zM1213 1056h10v10h-10zM1216 1058h10v10h-10zM1223 1057h10v10h-10zM1233 1052h10v10h-10zM1236 1026h10v10h-10zM1272 1054h10v10h-10zM1281 1054h10v10h-10zM1288 1055h10v10h-10zM1301 1039h10v10h-10zM1307 1036h10v10h-10zM1313 1053h10v10h-10zM1358 1037h10v10h-10zM1362 1048h10v10h-10zM1373 1036h10v10h-10zM1383 1042h10v10h-10zM1381 1042h10v10h-10zM1387 1040h10v10h-10zM1393 1035h10v10h-10zM1393 1047h10v10h-10zM1398 1034h10v10h-10zM1396 1044h10v10h-10zM1403 1044h10v10h-10zM1406 1030h10v10h-10zM1427 1053h10v10h-10zM1433 1054h10v10h-10zM1436 1028h10v10h-10zM1446 1038h10v10h-10zM1452 1044h10v10h-10zM1462 1033h10v10h-10zM1462 1045h10v10h-10zM1483 1041h10v10h-10zM1491 1050h10v10h-10zM1506 1046h10v10h-10zM1508 1043h10v10h-10zM1528 1034h10v10h-10zM1528 1042h10v10h-10zM1538 1046h10v10h-10zM1538 1044h10v10h-10zM1571 1031h10v10h-10zM1571 1049h10v10h-10zM1577 1048h10v10h-10zM1582 1036h10v10h-10zM1581 1043h10v10h-10zM1587 1036h10v10h-10zM1597 1044h10v10h-10zM1601 1035h10v10h-10zM1601 1041h10v10h-10zM1607 1032h10v10h-10zM1633 1039h10v10h-10zM1637 1022h10v10h-10zM1641 1034h10v10h-10zM1647 1037h10v10h-10zM1668 1031h10v10h-10zM1672 1045h10v10h-10zM1677 1008h10v10h-10zM1678 1013h10v10h-10zM1676 1021h10v10h-10zM1698 1059h10v10h-10zM1703 1045h10v10h-10zM1708 997h10v10h-10zM1713 1000h10v10h-10zM1713 1010h10v10h-10zM1713 1014h10v10h-10zM1711 1045h10v10h-10zM1718 999h10v10h-10zM1726 1008h10v10h-10zM1727 1033h10v10h-10zM1732 1043h10v10h-10zM1737 1042h10v10h-10zM1743 1011h10v10h-10zM1743 1030h10v10h-10zM1753 1030h10v10h-10zM1756 1037h10v10h-10zM1757 1019h10v10h-10zM1767 1008h10v10h-10zM1767 1024h10v10h-10zM1773 1035h10v10h-10zM1783 1004h10v10h-10zM1792 1036h10v10h-10zM1811 1029h10v10h-10zM1813 1027h10v10h-10zM1822 995h10v10h-10zM1823 1007h10v10h-10zM1836 1048h10v10h-10zM1841 1030h10v10h-10zM1841 1058h10v10h-10zM1851 1021h10v10h-10zM1853 1035h10v10h-10zM1853 1056h10v10h-10zM1868 1053h10v10h-10zM1867 1048h10v10h-10zM1877 1024h10v10h-10zM1877 1027h10v10h-10zM1888 1044h10v10h-10zM1891 1042h10v10h-10zM1892 1046h10v10h-10zM1898 1021h10v10h-10zM1907 1032h10v10h-10zM1928 1040h10v10h-10zM1936 1037h10v10h-10z"/>
<path fill="#3a5f92" d="M273 1042h10v10h-10zM298 1049h10v10h-10zM321 1035h10v10h-10zM323 1037h10v10h-10zM326 1042h10v10h-10zM337 1048h10v10h-10zM338 1046h10v10h-10zM363 1051h10v10h-10zM372 1050h10v10h-10zM382 1049h10v10h-10zM407 1046h10v10h-10zM428 1040h10v10h-10zM441 1036h10v10h-10zM446 1044h10v10h-10zM451 1051h10v10h-10zM457 1034h10v10h-10zM458 1049h10v10h-10zM478 1035h10v10h-10zM483 1035h10v10h-10zM481 1044h10v10h-10zM497 1038h10v10h-10zM527 1042h10v10h-10zM537 1043h10v10h-10zM542 1044h10v10h-10zM582 1065h10v10h-10zM598 1080h10v10h-10zM603 1035h10v10h-10zM602 1079h10v10h-10zM607 1020h10v10h-10zM611 1028h10v10h-10zM612 1031h10v10h-10zM611 1086h10v10h-10zM616 1066h10v10h-10zM618 1063h10v10h-10zM621 1042h10v10h-10zM628 1036h10v10h-10zM627 1073h10v10h-10zM628 1067h10v10h-10zM638 1035h10v10h-10zM637 1062h10v10h-10zM648 1025h10v10h-10zM647 1054h10v10h-10zM653 1064h10v10h-10zM672 1074h10v10h-10zM671 1068h10v10h-10zM677 1022h10v10h-10zM683 1022h10v10h-10zM681 1027h10v10h-10zM686 1027h10v10h-10zM686 1059h10v10h-10zM691 1069h10v10h-10zM697 1074h10v10h-10zM702 1060h10v10h-10zM706 1027h10v10h-10zM708 1060h10v10h-10zM713 1013h10v10h-10zM717 1066h10v10h-10zM722 1031h10v10h-10zM721 1067h10v10h-10zM726 1028h10v10h-10zM726 1054h10v10h-10zM732 1054h10v10h-10zM742 1006h10v10h-10zM752 1025h10v10h-10zM752 1060h10v10h-10zM753 1051h10v10h-10zM752 1055h10v10h-10zM766 1013h10v10h-10zM767 1059h10v10h-10zM767 1046h10v10h-10zM782 1040h10v10h-10zM788 1001h10v10h-10zM791 1054h10v10h-10zM797 1013h10v10h-10zM801 1037h10v10h-10zM813 1008h10v10h-10zM817 1050h10v10h-10zM816 1042h10v10h-10zM823 1045h10v10h-10zM833 1045h10v10h-10zM837 1008h10v10h-10zM837 1014h10v10h-10zM843 1011h10v10h-10zM848 1047h10v10h-10zM858 989h10v10h-10zM873 997h10v10h-10zM871 1002h10v10h-10zM871 1057h10v10h-10zM883 997h10v10h-10zM883 1000h10v10h-10zM883 1048h10v10h-10zM888 993h10v10h-10zM893 1040h10v10h-10zM892 1069h10v10h-10zM898 1004h10v10h-10zM897 1049h10v10h-10zM906 989h10v10h-10zM908 1062h10v10h-10zM906 1043h10v10h-10zM907 1020h10v10h-10zM913 1001h10v10h-10zM922 1058h10v10h-10zM928 991h10v10h-10zM927 1060h10v10h-10zM943 1059h10v10h-10zM946 1009h10v10h-10zM947 1021h10v10h-10zM946 1044h10v10h-10zM953 1056h10v10h-10zM958 1020h10v10h-10zM996 1029h10v10h-10zM1022 1053h10v10h-10zM1022 1029h10v10h-10zM1036 1045h10v10h-10zM1042 1050h10v10h-10zM1056 1050h10v10h-10zM1062 1024h10v10h-10zM1071 1048h10v10h-10zM1077 1037h10v10h-10zM1086 1032h10v10h-10zM1097 1056h10v10h-10zM1102 1022h10v10h-10zM1112 1017h10v10h-10zM1117 1019h10v10h-10zM1127 1032h10v10h-10zM1133 1008h10v10h-10zM1133 1067h10v10h-10zM1131 1058h10v10h-10zM1138 1015h10v10h-10zM1137 1021h10v10h-10zM1143 1025h10v10h-10zM1141 1069h10v10h-10zM1143 1064h10v10h-10zM1146 1053h10v10h-10zM1152 1059h10v10h-10zM1156 1009h10v10h-10zM1158 1075h10v10h-10zM1161 1024h10v10h-10zM1168 1073h10v10h-10zM1171 1023h10v10h-10zM1191 1024h10v10h-10zM1202 1046h10v10h-10zM1211 1022h10v10h-10zM1228 1055h10v10h-10zM1242 1035h10v10h-10zM1246 1052h10v10h-10zM1261 1032h10v10h-10zM1261 1053h10v10h-10zM1268 1031h10v10h-10zM1266 1054h10v10h-10zM1272 1049h10v10h-10zM1276 1034h10v10h-10zM1292 1049h10v10h-10zM1297 1037h10v10h-10zM1327 1034h10v10h-10zM1326 1054h10v10h-10zM1332 1052h10v10h-10zM1342 1055h10v10h-10zM1341 1050h10v10h-10zM1356 1047h10v10h-10zM1366 1050h10v10h-10zM1378 1053h10v10h-10zM1386 1044h10v10h-10zM1393 1042h10v10h-10zM1392 1041h10v10h-10zM1397 1046h10v10h-10zM1402 1054h10v10h-10zM1423 1032h10v10h-10zM1432 1030h10v10h-10zM1441 1055h10v10h-10zM1442 1043h10v10h-10zM1447 1046h10v10h-10zM1451 1030h10v10h-10zM1452 1016h10v10h-10zM1457 1029h10v10h-10zM1463 1051h10v10h-10zM1466 1029h10v10h-10zM1477 1022h10v10h-10zM1478 1030h10v10h-10zM1476 1035h10v10h-10zM1488 1050h10v10h-10zM1502 1042h10v10h-10zM1522 1041h10v10h-10zM1526 1030h10v10h-10zM1533 1047h10v10h-10zM1552 1032h10v10h-10zM1558 1031h10v10h-10zM1573 1035h10v10h-10zM1578 1031h10v10h-10zM1583 1047h10v10h-10zM1618 1033h10v10h-10zM1621 1029h10v10h-10zM1636 1042h10v10h-10zM1647 1043h10v10h-10zM1653 1036h10v10h-10zM1651 1034h10v10h-10zM1657 1037h10v10h-10zM1668 1016h10v10h-10zM1667 1033h10v10h-10zM1673 1013h10v10h-10zM1672 1027h10v10h-10zM1688 1002h10v10h-10zM1687 1012h10v10h-10zM1693 1040h10v10h-10zM1702 1013h10v10h-10zM1702 1027h10v10h-10zM1723 1041h10v10h-10zM1723 1037h10v10h-10zM1728 1015h10v10h-10zM1732 1008h10v10h-10zM1743 1037h10v10h-10zM1747 1026h10v10h-10zM1753 1035h10v10h-10zM1758 1010h10v10h-10zM1772 1028h10v10h-10zM1786 1037h10v10h-10zM1786 1024h10v10h-10zM1798 1031h10v10h-10zM1806 1001h10v10h-10zM1807 1037h10v10h-10zM1811 1007h10v10h-10zM1816 1034h10v10h-10zM1822 1037h10v10h-10zM1827 1008h10v10h-10zM1827 1039h10v10h-10zM1832 1040h10v10h-10zM1837 1044h10v10h-10zM1837 1035h10v10h-10zM1842 1050h10v10h-10zM1848 1022h10v10h-10zM1857 1021h10v10h-10zM1861 1049h10v10h-10zM1882 1054h10v10h-10zM1887 1047h10v10h-10zM1893 1021h10v10h-10zM1892 1034h10v10h-10zM1902 1045h10v10h-10zM1901 1042h10v10h-10zM1908 1051h10v10h-10zM1906 1041h10v10h-10zM1912 1041h10v10h-10zM1918 1038h10v10h-10zM1927 1035h10v10h-10zM1932 1037h10v10h-10zM1936 1050h10v10h-10z"/>
<path fill="#0a74c4" d="M277 1037h10v10h-10zM281 1032h10v10h-10zM282 1037h10v10h-10zM308 1037h10v10h-10zM428 1051h10v10h-10zM442 1044h10v10h-10zM447 1048h10v10h-10zM457 1039h10v10h-10zM486 1041h10v10h-10zM503 1044h10v10h-10zM512 1047h10v10h-10zM521 1039h10v10h-10zM558 1035h10v10h-10zM557 1045h10v10h-10zM568 1042h10v10h-10zM572 1056h10v10h-10zM577 1035h10v10h-10zM581 1034h10v10h-10zM586 1055h10v10h-10zM608 1030h10v10h-10zM608 1037h10v10h-10zM606 1040h10v10h-10zM612 1063h10v10h-10zM623 1028h10v10h-10zM622 1064h10v10h-10zM631 1076h10v10h-10zM636 1077h10v10h-10zM641 1031h10v10h-10zM643 1062h10v10h-10zM646 1028h10v10h-10zM646 1034h10v10h-10zM646 1066h10v10h-10zM652 1024h10v10h-10zM662 1063h10v10h-10zM666 1030h10v10h-10zM672 1037h10v10h-10zM682 1038h10v10h-10zM693 1022h10v10h-10zM706 1022h10v10h-10zM712 1062h10v10h-10zM728 1068h10v10h-10zM733 1007h10v10h-10zM731 1029h10v10h-10zM731 1073h10v10h-10zM736 1021h10v10h-10zM741 1053h10v10h-10zM753 1013h10v10h-10zM752 1021h10v10h-10zM751 1065h10v10h-10zM757 1002h10v10h-10zM757 1024h10v10h-10zM756 1072h10v10h-10zM757 1061h10v10h-10zM763 1057h10v10h-10zM766 1002h10v10h-10zM767 1020h10v10h-10zM778 1000h10v10h-10zM782 1009h10v10h-10zM783 1014h10v10h-10zM791 1001h10v10h-10zM792 1012h10v10h-10zM802 1054h10v10h-10zM806 1014h10v10h-10zM812 1001h10v10h-10zM813 1044h10v10h-10zM818 1006h10v10h-10zM822 1061h10v10h-10zM826 1050h10v10h-10zM831 995h10v10h-10zM838 1050h10v10h-10zM847 987h10v10h-10zM848 1001h10v10h-10zM852 986h10v10h-10zM853 993h10v10h-10zM852 1042h10v10h-10zM857 1020h10v10h-10zM861 988h10v10h-10zM862 999h10v10h-10zM867 1055h10v10h-10zM868 1047h10v10h-10zM881 1062h10v10h-10zM882 1040h10v10h-10zM893 1005h10v10h-10zM893 1012h10v10h-10zM892 1060h10v10h-10zM897 988h10v10h-10zM896 1000h10v10h-10zM913 1040h10v10h-10zM922 1003h10v10h-10zM922 1030h10v10h-10zM928 1003h10v10h-10zM946 1046h10v10h-10zM953 1030h10v10h-10zM958 1055h10v10h-10zM967 1057h10v10h-10zM976 1051h10v10h-10zM988 1018h10v10h-10zM988 1056h10v10h-10zM992 1023h10v10h-10zM991 1027h10v10h-10zM993 1056h10v10h-10zM1012 1029h10v10h-10zM1018 1024h10v10h-10zM1018 1029h10v10h-10zM1028 1019h10v10h-10zM1032 1027h10v10h-10zM1038 1019h10v10h-10zM1036 1028h10v10h-10zM1041 1021h10v10h-10zM1043 1046h10v10h-10zM1042 1065h10v10h-10zM1052 1024h10v10h-10zM1052 1026h10v10h-10zM1058 1025h10v10h-10zM1063 1027h10v10h-10zM1063 1050h10v10h-10zM1061 1045h10v10h-10zM1067 1027h10v10h-10zM1076 1027h10v10h-10zM1077 1055h10v10h-10zM1083 1025h10v10h-10zM1088 1058h10v10h-10zM1086 1044h10v10h-10zM1103 1056h10v10h-10zM1106 1058h10v10h-10zM1121 1031h10v10h-10zM1123 1064h10v10h-10zM1122 1058h10v10h-10zM1133 1014h10v10h-10zM1136 1070h10v10h-10zM1137 1057h10v10h-10zM1141 1019h10v10h-10zM1148 1020h10v10h-10zM1146 1067h10v10h-10zM1153 1022h10v10h-10zM1156 1017h10v10h-10zM1162 1005h10v10h-10zM1167 1017h10v10h-10zM1166 1024h10v10h-10zM1168 1067h10v10h-10zM1173 1055h10v10h-10zM1177 1064h10v10h-10zM1193 1065h10v10h-10zM1196 1029h10v10h-10zM1198 1033h10v10h-10zM1203 1068h10v10h-10zM1206 1058h10v10h-10zM1207 1047h10v10h-10zM1211 1028h10v10h-10zM1218 1019h10v10h-10zM1218 1063h10v10h-10zM1227 1016h10v10h-10zM1236 1040h10v10h-10zM1243 1052h10v10h-10zM1261 1037h10v10h-10zM1273 1039h10v10h-10zM1278 1047h10v10h-10zM1301 1049h10v10h-10zM1307 1053h10v10h-10zM1321 1050h10v10h-10zM1328 1048h10v10h-10zM1358 1054h10v10h-10zM1366 1038h10v10h-10zM1383 1034h10v10h-10zM1418 1044h10v10h-10zM1417 1038h10v10h-10zM1432 1038h10v10h-10zM1447 1043h10v10h-10zM1463 1023h10v10h-10zM1467 1022h10v10h-10zM1467 1032h10v10h-10zM1472 1021h10v10h-10zM1476 1042h10v10h-10zM1481 1035h10v10h-10zM1492 1024h10v10h-10zM1518 1031h10v10h-10zM1522 1033h10v10h-10zM1543 1036h10v10h-10zM1542 1047h10v10h-10zM1552 1043h10v10h-10zM1556 1043h10v10h-10zM1563 1047h10v10h-10zM1593 1038h10v10h-10zM1608 1038h10v10h-10zM1616 1030h10v10h-10zM1618 1038h10v10h-10zM1628 1029h10v10h-10zM1628 1040h10v10h-10zM1646 1018h10v10h-10zM1668 1043h10v10h-10zM1677 1037h10v10h-10zM1683 1006h10v10h-10zM1681 1050h10v10h-10zM1688 1039h10v10h-10zM1692 1052h10v10h-10zM1692 1048h10v10h-10zM1697 999h10v10h-10zM1696 1004h10v10h-10zM1698 1044h10v10h-10zM1703 1041h10v10h-10zM1706 1009h10v10h-10zM1708 1043h10v10h-10zM1713 1035h10v10h-10zM1717 1021h10v10h-10zM1721 1009h10v10h-10zM1721 1014h10v10h-10zM1728 1045h10v10h-10zM1727 1035h10v10h-10zM1731 1016h10v10h-10zM1743 1006h10v10h-10zM1742 1030h10v10h-10zM1748 1012h10v10h-10zM1762 1011h10v10h-10zM1766 1029h10v10h-10zM1772 1006h10v10h-10zM1786 1028h10v10h-10zM1787 1025h10v10h-10zM1792 1003h10v10h-10zM1792 1029h10v10h-10zM1797 1001h10v10h-10zM1808 1026h10v10h-10zM1817 1004h10v10h-10zM1818 1022h10v10h-10zM1828 1035h10v10h-10zM1831 1008h10v10h-10zM1832 1051h10v10h-10zM1836 1019h10v10h-10zM1842 1020h10v10h-10zM1842 1040h10v10h-10zM1846 1059h10v10h-10zM1847 1044h10v10h-10zM1858 1030h10v10h-10zM1861 1053h10v10h-10zM1873 1034h10v10h-10zM1877 1054h10v10h-10zM1886 1032h10v10h-10zM1902 1053h10v10h-10zM1912 1034h10v10h-10zM1927 1054h10v10h-10zM1931 1054h10v10h-10z"/>
<path fill="#2a64a8" d="M287 1044h10v10h-10zM306 1049h10v10h-10zM307 1043h10v10h-10zM323 1046h10v10h-10zM333 1044h10v10h-10zM343 1032h10v10h-10zM352 1043h10v10h-10zM373 1046h10v10h-10zM376 1045h10v10h-10zM387 1032h10v10h-10zM387 1037h10v10h-10zM417 1032h10v10h-10zM443 1040h10v10h-10zM457 1045h10v10h-10zM462 1039h10v10h-10zM473 1036h10v10h-10zM493 1036h10v10h-10zM503 1033h10v10h-10zM506 1048h10v10h-10zM507 1044h10v10h-10zM511 1041h10v10h-10zM517 1040h10v10h-10zM516 1048h10v10h-10zM532 1041h10v10h-10zM548 1039h10v10h-10zM567 1049h10v10h-10zM573 1024h10v10h-10zM572 1034h10v10h-10zM587 1071h10v10h-10zM591 1025h10v10h-10zM592 1071h10v10h-10zM597 1020h10v10h-10zM608 1075h10v10h-10zM607 1047h10v10h-10zM617 1084h10v10h-10zM622 1062h10v10h-10zM622 1056h10v10h-10zM626 1031h10v10h-10zM631 1028h10v10h-10zM631 1066h10v10h-10zM638 1025h10v10h-10zM642 1024h10v10h-10zM641 1040h10v10h-10zM646 1072h10v10h-10zM656 1021h10v10h-10zM658 1037h10v10h-10zM663 1037h10v10h-10zM667 1038h10v10h-10zM671 1059h10v10h-10zM696 1070h10v10h-10zM713 1030h10v10h-10zM712 1043h10v10h-10zM717 1010h10v10h-10zM716 1032h10v10h-10zM718 1058h10v10h-10zM722 1021h10v10h-10zM721 1065h10v10h-10zM726 1073h10v10h-10zM727 1044h10v10h-10zM738 1010h10v10h-10zM738 1015h10v10h-10zM742 1027h10v10h-10zM746 1027h10v10h-10zM752 1057h10v10h-10zM758 1006h10v10h-10zM761 1001h10v10h-10zM761 1070h10v10h-10zM761 1066h10v10h-10zM761 1059h10v10h-10zM772 1016h10v10h-10zM776 1006h10v10h-10zM783 1003h10v10h-10zM786 1053h10v10h-10zM787 1046h10v10h-10zM806 996h10v10h-10zM806 1043h10v10h-10zM806 1039h10v10h-10zM818 997h10v10h-10zM823 997h10v10h-10zM823 1006h10v10h-10zM828 1054h10v10h-10zM831 1050h10v10h-10zM842 1004h10v10h-10zM842 1058h10v10h-10zM843 1040h10v10h-10zM853 1004h10v10h-10zM858 1010h10v10h-10zM858 1058h10v10h-10zM857 1037h10v10h-10zM861 1046h10v10h-10zM872 1060h10v10h-10zM872 1047h10v10h-10zM877 1002h10v10h-10zM876 1060h10v10h-10zM887 1063h10v10h-10zM891 989h10v10h-10zM897 1061h10v10h-10zM908 1009h10v10h-10zM911 1005h10v10h-10zM912 1010h10v10h-10zM918 1049h10v10h-10zM917 1042h10v10h-10zM922 994h10v10h-10zM921 1006h10v10h-10zM927 1051h10v10h-10zM936 1056h10v10h-10zM941 1004h10v10h-10zM951 1039h10v10h-10zM967 1049h10v10h-10zM971 1050h10v10h-10zM987 1037h10v10h-10zM993 1052h10v10h-10zM996 1022h10v10h-10zM1012 1017h10v10h-10zM1011 1051h10v10h-10zM1018 1017h10v10h-10zM1023 1055h10v10h-10zM1022 1068h10v10h-10zM1026 1023h10v10h-10zM1038 1052h10v10h-10zM1037 1038h10v10h-10zM1042 1017h10v10h-10zM1043 1027h10v10h-10zM1066 1046h10v10h-10zM1083 1056h10v10h-10zM1092 1037h10v10h-10zM1107 1021h10v10h-10zM1108 1053h10v10h-10zM1113 1058h10v10h-10zM1112 1053h10v10h-10zM1112 1038h10v10h-10zM1116 1069h10v10h-10zM1117 1052h10v10h-10zM1126 1066h10v10h-10zM1136 1009h10v10h-10zM1136 1055h10v10h-10zM1147 1061h10v10h-10zM1152 1032h10v10h-10zM1152 1073h10v10h-10zM1156 1023h10v10h-10zM1158 1068h10v10h-10zM1161 1067h10v10h-10zM1168 1059h10v10h-10zM1186 1065h10v10h-10zM1192 1020h10v10h-10zM1198 1059h10v10h-10zM1203 1035h10v10h-10zM1203 1060h10v10h-10zM1212 1058h10v10h-10zM1217 1031h10v10h-10zM1222 1019h10v10h-10zM1221 1054h10v10h-10zM1227 1032h10v10h-10zM1232 1020h10v10h-10zM1231 1032h10v10h-10zM1232 1068h10v10h-10zM1248 1047h10v10h-10zM1256 1048h10v10h-10zM1273 1033h10v10h-10zM1307 1032h10v10h-10zM1307 1048h10v10h-10zM1311 1049h10v10h-10zM1318 1034h10v10h-10zM1337 1038h10v10h-10zM1347 1055h10v10h-10zM1352 1033h10v10h-10zM1353 1037h10v10h-10zM1352 1053h10v10h-10zM1362 1032h10v10h-10zM1381 1046h10v10h-10zM1401 1032h10v10h-10zM1401 1037h10v10h-10zM1403 1049h10v10h-10zM1406 1038h10v10h-10zM1408 1048h10v10h-10zM1411 1045h10v10h-10zM1423 1034h10v10h-10zM1438 1041h10v10h-10zM1442 1032h10v10h-10zM1451 1053h10v10h-10zM1458 1052h10v10h-10zM1462 1046h10v10h-10zM1468 1034h10v10h-10zM1473 1025h10v10h-10zM1482 1027h10v10h-10zM1482 1036h10v10h-10zM1486 1028h10v10h-10zM1493 1036h10v10h-10zM1512 1043h10v10h-10zM1531 1044h10v10h-10zM1537 1035h10v10h-10zM1546 1035h10v10h-10zM1557 1050h10v10h-10zM1566 1038h10v10h-10zM1576 1042h10v10h-10zM1587 1042h10v10h-10zM1616 1041h10v10h-10zM1632 1029h10v10h-10zM1646 1033h10v10h-10zM1657 1031h10v10h-10zM1661 1042h10v10h-10zM1663 1033h10v10h-10zM1672 1023h10v10h-10zM1671 1032h10v10h-10zM1693 995h10v10h-10zM1693 1043h10v10h-10zM1697 1014h10v10h-10zM1703 997h10v10h-10zM1702 1035h10v10h-10zM1707 1053h10v10h-10zM1706 1036h10v10h-10zM1713 1005h10v10h-10zM1716 1014h10v10h-10zM1726 1041h10v10h-10zM1738 1005h10v10h-10zM1737 1012h10v10h-10zM1756 1030h10v10h-10zM1763 1034h10v10h-10zM1762 1022h10v10h-10zM1782 1009h10v10h-10zM1798 1005h10v10h-10zM1802 1035h10v10h-10zM1813 1038h10v10h-10zM1817 998h10v10h-10zM1817 1003h10v10h-10zM1816 1037h10v10h-10zM1822 1001h10v10h-10zM1833 1000h10v10h-10zM1836 1026h10v10h-10zM1841 1054h10v10h-10zM1841 1043h10v10h-10zM1848 1027h10v10h-10zM1851 1051h10v10h-10zM1856 1059h10v10h-10zM1858 1048h10v10h-10zM1872 1041h10v10h-10zM1891 1028h10v10h-10zM1896 1050h10v10h-10zM1897 1045h10v10h-10zM1906 1025h10v10h-10zM1918 1027h10v10h-10zM1921 1035h10v10h-10zM1923 1045h10v10h-10zM1928 1051h10v10h-10zM1931 1032h10v10h-10z"/>
<path fill="#0d6aa5" d="M291 1033h10v10h-10zM302 1045h10v10h-10zM312 1044h10v10h-10zM316 1039h10v10h-10zM327 1035h10v10h-10zM333 1033h10v10h-10zM337 1037h10v10h-10zM343 1037h10v10h-10zM347 1038h10v10h-10zM351 1033h10v10h-10zM366 1033h10v10h-10zM393 1050h10v10h-10zM397 1044h10v10h-10zM423 1051h10v10h-10zM422 1044h10v10h-10zM447 1039h10v10h-10zM452 1039h10v10h-10zM452 1045h10v10h-10zM501 1049h10v10h-10zM542 1039h10v10h-10zM562 1038h10v10h-10zM578 1055h10v10h-10zM588 1031h10v10h-10zM587 1057h10v10h-10zM592 1034h10v10h-10zM593 1076h10v10h-10zM596 1069h10v10h-10zM597 1054h10v10h-10zM608 1025h10v10h-10zM623 1039h10v10h-10zM622 1068h10v10h-10zM631 1036h10v10h-10zM636 1066h10v10h-10zM651 1071h10v10h-10zM658 1057h10v10h-10zM663 1061h10v10h-10zM681 1035h10v10h-10zM683 1065h10v10h-10zM687 1039h10v10h-10zM686 1066h10v10h-10zM692 1084h10v10h-10zM696 1024h10v10h-10zM697 1051h10v10h-10zM711 1072h10v10h-10zM728 1008h10v10h-10zM733 1024h10v10h-10zM731 1066h10v10h-10zM731 1056h10v10h-10zM736 1006h10v10h-10zM737 1054h10v10h-10zM757 1019h10v10h-10zM758 1065h10v10h-10zM762 1052h10v10h-10zM772 1046h10v10h-10zM788 1019h10v10h-10zM786 1038h10v10h-10zM792 1009h10v10h-10zM812 1031h10v10h-10zM838 993h10v10h-10zM836 1039h10v10h-10zM842 992h10v10h-10zM842 1047h10v10h-10zM847 1054h10v10h-10zM852 1006h10v10h-10zM857 1045h10v10h-10zM863 1004h10v10h-10zM861 1053h10v10h-10zM863 1038h10v10h-10zM862 1036h10v10h-10zM867 1000h10v10h-10zM867 1010h10v10h-10zM867 1051h10v10h-10zM867 1041h10v10h-10zM867 1071h10v10h-10zM886 1010h10v10h-10zM888 1044h10v10h-10zM893 1045h10v10h-10zM897 1046h10v10h-10zM902 1059h10v10h-10zM917 1054h10v10h-10zM926 985h10v10h-10zM926 1041h10v10h-10zM937 1008h10v10h-10zM936 1039h10v10h-10zM943 1043h10v10h-10zM946 1053h10v10h-10zM952 1046h10v10h-10zM962 1055h10v10h-10zM971 1055h10v10h-10zM1002 1047h10v10h-10zM1021 1022h10v10h-10zM1027 1030h10v10h-10zM1028 1057h10v10h-10zM1031 1045h10v10h-10zM1047 1056h10v10h-10zM1058 1029h10v10h-10zM1062 1056h10v10h-10zM1073 1026h10v10h-10zM1078 1020h10v10h-10zM1082 1027h10v10h-10zM1083 1052h10v10h-10zM1091 1020h10v10h-10zM1092 1062h10v10h-10zM1096 1058h10v10h-10zM1097 1047h10v10h-10zM1102 1017h10v10h-10zM1103 1028h10v10h-10zM1103 1053h10v10h-10zM1113 1020h10v10h-10zM1116 1052h10v10h-10zM1127 1055h10v10h-10zM1133 1024h10v10h-10zM1141 1009h10v10h-10zM1147 1016h10v10h-10zM1148 1065h10v10h-10zM1147 1081h10v10h-10zM1158 1024h10v10h-10zM1156 1032h10v10h-10zM1156 1055h10v10h-10zM1167 1044h10v10h-10zM1173 1031h10v10h-10zM1176 1023h10v10h-10zM1177 1069h10v10h-10zM1182 1016h10v10h-10zM1202 1055h10v10h-10zM1206 1066h10v10h-10zM1212 1035h10v10h-10zM1217 1068h10v10h-10zM1218 1055h10v10h-10zM1223 1035h10v10h-10zM1227 1023h10v10h-10zM1231 1063h10v10h-10zM1233 1060h10v10h-10zM1236 1024h10v10h-10zM1236 1060h10v10h-10zM1236 1049h10v10h-10zM1241 1034h10v10h-10zM1241 1039h10v10h-10zM1246 1033h10v10h-10zM1253 1038h10v10h-10zM1263 1049h10v10h-10zM1281 1033h10v10h-10zM1288 1032h10v10h-10zM1288 1046h10v10h-10zM1293 1035h10v10h-10zM1317 1038h10v10h-10zM1322 1037h10v10h-10zM1322 1055h10v10h-10zM1331 1034h10v10h-10zM1333 1040h10v10h-10zM1348 1037h10v10h-10zM1363 1055h10v10h-10zM1376 1035h10v10h-10zM1388 1040h10v10h-10zM1391 1040h10v10h-10zM1396 1029h10v10h-10zM1413 1041h10v10h-10zM1416 1046h10v10h-10zM1428 1029h10v10h-10zM1438 1033h10v10h-10zM1458 1047h10v10h-10zM1462 1043h10v10h-10zM1466 1054h10v10h-10zM1481 1052h10v10h-10zM1488 1040h10v10h-10zM1497 1037h10v10h-10zM1496 1049h10v10h-10zM1503 1026h10v10h-10zM1502 1033h10v10h-10zM1506 1032h10v10h-10zM1513 1027h10v10h-10zM1512 1050h10v10h-10zM1512 1042h10v10h-10zM1522 1047h10v10h-10zM1543 1045h10v10h-10zM1552 1037h10v10h-10zM1561 1036h10v10h-10zM1592 1035h10v10h-10zM1602 1048h10v10h-10zM1611 1044h10v10h-10zM1622 1040h10v10h-10zM1657 1024h10v10h-10zM1657 1045h10v10h-10zM1683 1042h10v10h-10zM1683 1034h10v10h-10zM1692 1008h10v10h-10zM1698 1038h10v10h-10zM1702 1017h10v10h-10zM1712 1040h10v10h-10zM1717 1009h10v10h-10zM1718 1048h10v10h-10zM1722 1032h10v10h-10zM1732 1029h10v10h-10zM1738 1029h10v10h-10zM1743 998h10v10h-10zM1757 1003h10v10h-10zM1758 1023h10v10h-10zM1771 1010h10v10h-10zM1772 1024h10v10h-10zM1778 1031h10v10h-10zM1788 1008h10v10h-10zM1808 995h10v10h-10zM1822 1030h10v10h-10zM1827 1004h10v10h-10zM1827 1030h10v10h-10zM1847 1055h10v10h-10zM1847 1049h10v10h-10zM1862 1028h10v10h-10zM1873 1044h10v10h-10zM1883 1049h10v10h-10zM1883 1046h10v10h-10zM1887 1036h10v10h-10zM1918 1041h10v10h-10zM1921 1027h10v10h-10zM1927 1044h10v10h-10zM1933 1036h10v10h-10zM1933 1051h10v10h-10z"/>
<path fill="#1a6fb0" d="M291 1044h10v10h-10zM296 1039h10v10h-10zM316 1050h10v10h-10zM318 1045h10v10h-10zM323 1048h10v10h-10zM343 1050h10v10h-10zM357 1032h10v10h-10zM358 1050h10v10h-10zM367 1038h10v10h-10zM396 1040h10v10h-10zM411 1041h10v10h-10zM411 1045h10v10h-10zM417 1049h10v10h-10zM423 1041h10v10h-10zM437 1046h10v10h-10zM468 1039h10v10h-10zM468 1042h10v10h-10zM492 1050h10v10h-10zM497 1045h10v10h-10zM506 1033h10v10h-10zM517 1045h10v10h-10zM523 1036h10v10h-10zM523 1044h10v10h-10zM548 1048h10v10h-10zM548 1044h10v10h-10zM552 1045h10v10h-10zM572 1053h10v10h-10zM591 1022h10v10h-10zM592 1031h10v10h-10zM592 1066h10v10h-10zM591 1059h10v10h-10zM597 1040h10v10h-10zM598 1076h10v10h-10zM616 1044h10v10h-10zM623 1034h10v10h-10zM653 1027h10v10h-10zM651 1040h10v10h-10zM652 1076h10v10h-10zM651 1059h10v10h-10zM658 1075h10v10h-10zM663 1030h10v10h-10zM666 1034h10v10h-10zM671 1065h10v10h-10zM672 1042h10v10h-10zM677 1074h10v10h-10zM683 1069h10v10h-10zM681 1061h10v10h-10zM688 1032h10v10h-10zM692 1062h10v10h-10zM702 1070h10v10h-10zM706 1018h10v10h-10zM706 1068h10v10h-10zM712 1059h10v10h-10zM716 1054h10v10h-10zM723 1025h10v10h-10zM731 1012h10v10h-10zM738 1026h10v10h-10zM736 1064h10v10h-10zM742 1017h10v10h-10zM746 1061h10v10h-10zM746 1053h10v10h-10zM756 1011h10v10h-10zM756 1058h10v10h-10zM772 1003h10v10h-10zM771 1011h10v10h-10zM772 1022h10v10h-10zM773 1050h10v10h-10zM776 1008h10v10h-10zM778 1056h10v10h-10zM783 998h10v10h-10zM793 1041h10v10h-10zM797 1053h10v10h-10zM816 1038h10v10h-10zM823 1040h10v10h-10zM827 1009h10v10h-10zM828 1039h10v10h-10zM833 1053h10v10h-10zM831 1036h10v10h-10zM861 1060h10v10h-10zM867 1004h10v10h-10zM872 1007h10v10h-10zM876 1008h10v10h-10zM882 1011h10v10h-10zM882 1038h10v10h-10zM886 1055h10v10h-10zM891 1049h10v10h-10zM901 991h10v10h-10zM901 1052h10v10h-10zM906 1003h10v10h-10zM916 997h10v10h-10zM917 1005h10v10h-10zM921 997h10v10h-10zM927 1047h10v10h-10zM937 1018h10v10h-10zM942 1018h10v10h-10zM963 1027h10v10h-10zM976 1047h10v10h-10zM983 1053h10v10h-10zM993 1044h10v10h-10zM1001 1029h10v10h-10zM1006 1025h10v10h-10zM1017 1045h10v10h-10zM1022 1019h10v10h-10zM1023 1046h10v10h-10zM1028 1050h10v10h-10zM1026 1046h10v10h-10zM1036 1055h10v10h-10zM1063 1017h10v10h-10zM1073 1055h10v10h-10zM1073 1050h10v10h-10zM1082 1046h10v10h-10zM1087 1017h10v10h-10zM1093 1025h10v10h-10zM1091 1046h10v10h-10zM1097 1063h10v10h-10zM1107 1066h10v10h-10zM1113 1010h10v10h-10zM1113 1030h10v10h-10zM1118 1010h10v10h-10zM1118 1025h10v10h-10zM1116 1031h10v10h-10zM1118 1076h10v10h-10zM1128 1069h10v10h-10zM1132 1020h10v10h-10zM1132 1054h10v10h-10zM1132 1002h10v10h-10zM1166 1031h10v10h-10zM1187 1023h10v10h-10zM1188 1059h10v10h-10zM1193 1055h10v10h-10zM1202 1063h10v10h-10zM1208 1018h10v10h-10zM1208 1068h10v10h-10zM1213 1064h10v10h-10zM1222 1029h10v10h-10zM1226 1069h10v10h-10zM1246 1039h10v10h-10zM1256 1038h10v10h-10zM1266 1049h10v10h-10zM1282 1049h10v10h-10zM1303 1052h10v10h-10zM1318 1052h10v10h-10zM1351 1049h10v10h-10zM1363 1037h10v10h-10zM1367 1034h10v10h-10zM1391 1052h10v10h-10zM1411 1029h10v10h-10zM1411 1051h10v10h-10zM1417 1028h10v10h-10zM1418 1035h10v10h-10zM1422 1051h10v10h-10zM1423 1042h10v10h-10zM1431 1047h10v10h-10zM1443 1049h10v10h-10zM1446 1027h10v10h-10zM1448 1052h10v10h-10zM1462 1030h10v10h-10zM1467 1049h10v10h-10zM1471 1034h10v10h-10zM1476 1051h10v10h-10zM1488 1025h10v10h-10zM1493 1046h10v10h-10zM1496 1031h10v10h-10zM1496 1041h10v10h-10zM1497 1042h10v10h-10zM1502 1043h10v10h-10zM1536 1030h10v10h-10zM1562 1043h10v10h-10zM1567 1046h10v10h-10zM1567 1044h10v10h-10zM1587 1048h10v10h-10zM1643 1020h10v10h-10zM1642 1024h10v10h-10zM1648 1027h10v10h-10zM1648 1036h10v10h-10zM1653 1016h10v10h-10zM1656 1019h10v10h-10zM1663 1021h10v10h-10zM1666 1039h10v10h-10zM1671 1038h10v10h-10zM1678 1048h10v10h-10zM1693 1001h10v10h-10zM1697 1010h10v10h-10zM1703 1001h10v10h-10zM1707 1063h10v10h-10zM1713 1051h10v10h-10zM1731 1005h10v10h-10zM1733 1031h10v10h-10zM1738 1013h10v10h-10zM1737 1025h10v10h-10zM1752 1009h10v10h-10zM1766 1005h10v10h-10zM1776 1010h10v10h-10zM1776 1024h10v10h-10zM1782 1027h10v10h-10zM1791 1024h10v10h-10zM1796 1024h10v10h-10zM1802 995h10v10h-10zM1801 1025h10v10h-10zM1807 993h10v10h-10zM1806 1006h10v10h-10zM1807 984h10v10h-10zM1812 991h10v10h-10zM1811 1020h10v10h-10zM1812 1003h10v10h-10zM1821 993h10v10h-10zM1821 1027h10v10h-10zM1827 995h10v10h-10zM1826 1000h10v10h-10zM1831 1010h10v10h-10zM1836 1009h10v10h-10zM1838 1040h10v10h-10zM1863 1059h10v10h-10zM1862 1050h10v10h-10zM1866 1057h10v10h-10zM1871 1052h10v10h-10zM1887 1021h10v10h-10zM1887 1052h10v10h-10zM1891 1050h10v10h-10zM1898 1042h10v10h-10zM1907 1028h10v10h-10zM1911 1025h10v10h-10zM1913 1030h10v10h-10zM1912 1033h10v10h-10zM1918 1033h10v10h-10zM1917 1054h10v10h-10zM1923 1039h10v10h-10z"/>
<path fill="#38c850" d="M558 962h11v11h-11zM798 962h11v11h-11zM1008 958h11v11h-11zM1794 982h11v11h-11z"/>
<path fill="#c8183c" d="M554 978h11v11h-11zM616 974h11v11h-11zM588 1138h11v11h-11zM606 1154h11v11h-11zM554 1322h11v11h-11zM854 938h11v11h-11zM866 1082h11v11h-11zM936 1120h11v11h-11zM936 1152h11v11h-11zM1006 992h11v11h-11zM1874 1000h11v11h-11z"/>
<path fill="#3a5f92" d="M545 997h10v10h-10z"/>
<path fill="#2c5eb0" d="M549 989h10v10h-10zM615 988h10v10h-10zM615 996h10v10h-10z"/>
<path fill="#2a64a8" d="M548 994h10v10h-10z"/>
<path fill="#1a6fb0" d="M556 995h10v10h-10zM605 1095h10v10h-10zM605 1103h10v10h-10zM605 1111h10v10h-10zM605 1119h10v10h-10zM605 1127h10v10h-10z"/>
<path fill="#d01428" d="M555 1016h10v10h-10zM555 1024h10v10h-10zM615 1010h10v10h-10zM615 1018h10v10h-10zM637 1023h10v10h-10zM652 1015h10v10h-10zM699 1009h10v10h-10zM712 1003h10v10h-10zM725 979h10v10h-10zM737 977h10v10h-10zM735 992h10v10h-10zM740 989h10v10h-10zM746 991h10v10h-10zM902 998h10v10h-10zM902 1023h10v10h-10zM1055 992h10v10h-10zM1054 1012h10v10h-10zM1066 999h10v10h-10zM1072 999h10v10h-10zM1085 1005h10v10h-10zM1109 999h10v10h-10zM1140 997h10v10h-10zM1144 1000h10v10h-10zM1134 997h10v10h-10zM1137 1010h10v10h-10zM1146 1018h10v10h-10zM1152 1003h10v10h-10zM1180 1024h10v10h-10zM1191 1021h10v10h-10zM1196 1012h10v10h-10zM1217 999h10v10h-10zM1217 1004h10v10h-10zM1680 980h10v10h-10zM1686 982h10v10h-10zM1841 946h10v10h-10zM1841 954h10v10h-10zM1841 962h10v10h-10zM1841 970h10v10h-10zM1841 978h10v10h-10zM1841 986h10v10h-10zM1847 1063h10v10h-10z"/>
<path fill="#2a6c92" d="M554 1072h11v11h-11zM554 1116h11v11h-11zM598 940h11v11h-11zM598 968h11v11h-11zM936 1112h11v11h-11zM942 962h11v11h-11zM1010 1082h11v11h-11z"/>
<path fill="#30d040" d="M606 1102h10v10h-10zM606 1110h10v10h-10zM1374 999h10v10h-10zM1375 1004h10v10h-10zM1379 1010h10v10h-10zM1455 986h10v10h-10zM1464 993h10v10h-10z"/>
<path fill="#e00018" d="M639 1016h10v10h-10zM701 995h10v10h-10zM707 996h10v10h-10zM706 1000h10v10h-10zM729 966h10v10h-10zM742 972h10v10h-10zM854 967h10v10h-10zM867 961h10v10h-10zM868 969h10v10h-10zM875 964h10v10h-10zM873 981h10v10h-10zM909 986h10v10h-10zM907 1017h10v10h-10zM914 992h10v10h-10zM1049 992h10v10h-10zM1057 1005h10v10h-10zM1066 1016h10v10h-10zM1119 1004h10v10h-10zM1128 997h10v10h-10zM1131 1007h10v10h-10zM1139 1005h10v10h-10zM1134 1016h10v10h-10zM1146 1027h10v10h-10zM1153 1011h10v10h-10zM1152 1033h10v10h-10zM1388 1019h10v10h-10zM1388 1027h10v10h-10zM1388 1035h10v10h-10z"/>
<path fill="#ee1020" d="M644 1016h10v10h-10zM730 979h10v10h-10zM728 986h10v10h-10zM735 972h10v10h-10zM746 977h10v10h-10zM844 970h10v10h-10zM856 982h10v10h-10zM874 969h10v10h-10zM897 985h10v10h-10zM903 1014h10v10h-10zM909 978h10v10h-10zM916 1012h10v10h-10zM915 1014h10v10h-10zM917 1023h10v10h-10zM936 1091h10v10h-10zM1092 1000h10v10h-10zM1143 997h10v10h-10zM1147 1010h10v10h-10zM1148 1034h10v10h-10zM1152 1015h10v10h-10zM1155 1024h10v10h-10zM1175 1011h10v10h-10zM1180 1013h10v10h-10zM1192 1019h10v10h-10zM1355 1063h10v10h-10zM1355 1071h10v10h-10zM1680 969h10v10h-10zM1691 969h10v10h-10z"/>
<path fill="#ff0000" d="M699 1013h10v10h-10zM712 994h10v10h-10zM724 973h10v10h-10zM734 986h10v10h-10zM747 969h10v10h-10zM752 975h10v10h-10zM835 954h10v10h-10zM835 962h10v10h-10zM835 970h10v10h-10zM835 978h10v10h-10zM857 964h10v10h-10zM857 989h10v10h-10zM861 969h10v10h-10zM868 957h10v10h-10zM868 979h10v10h-10zM896 978h10v10h-10zM896 991h10v10h-10zM896 1006h10v10h-10zM896 1009h10v10h-10zM898 1016h10v10h-10zM904 1003h10v10h-10zM913 979h10v10h-10zM914 987h10v10h-10zM1053 1016h10v10h-10zM1057 994h10v10h-10zM1061 1011h10v10h-10zM1070 1005h10v10h-10zM1072 1016h10v10h-10zM1076 1017h10v10h-10zM1097 1005h10v10h-10zM1102 997h10v10h-10zM1102 1003h10v10h-10zM1113 1001h10v10h-10zM1114 1003h10v10h-10zM1135 1023h10v10h-10zM1142 1009h10v10h-10zM1139 1016h10v10h-10zM1142 1034h10v10h-10zM1148 997h10v10h-10zM1146 1021h10v10h-10zM1153 1029h10v10h-10zM1185 1023h10v10h-10zM1199 1018h10v10h-10zM1460 1016h10v10h-10zM1460 1024h10v10h-10zM1485 1039h10v10h-10zM1485 1047h10v10h-10zM1485 1055h10v10h-10zM1485 1063h10v10h-10zM1684 968h10v10h-10zM1690 976h10v10h-10zM1904 1021h10v10h-10z"/>
<path fill="#f41830" d="M713 1068h10v10h-10zM713 1076h10v10h-10zM713 1084h10v10h-10zM729 993h10v10h-10zM735 965h10v10h-10zM742 983h10v10h-10zM753 979h10v10h-10zM751 985h10v10h-10zM752 989h10v10h-10zM843 975h10v10h-10zM848 959h10v10h-10zM849 969h10v10h-10zM849 988h10v10h-10zM859 973h10v10h-10zM860 979h10v10h-10zM867 987h10v10h-10zM872 958h10v10h-10zM911 1006h10v10h-10zM911 1008h10v10h-10zM915 1006h10v10h-10zM1048 998h10v10h-10zM1052 998h10v10h-10zM1063 993h10v10h-10zM1078 999h10v10h-10zM1083 999h10v10h-10zM1110 1004h10v10h-10zM1123 1000h10v10h-10zM1153 999h10v10h-10zM1149 1006h10v10h-10zM1137 1002h10v10h-10zM1141 1005h10v10h-10zM1141 1028h10v10h-10zM1153 998h10v10h-10zM1175 1016h10v10h-10zM1175 1022h10v10h-10zM1180 1015h10v10h-10zM1186 1012h10v10h-10zM1185 1017h10v10h-10zM1208 1003h10v10h-10zM1220 1000h10v10h-10zM1411 1006h10v10h-10zM1411 1014h10v10h-10zM1411 1022h10v10h-10zM1681 975h10v10h-10zM1687 977h10v10h-10zM1697 971h10v10h-10zM1896 962h10v10h-10zM1896 970h10v10h-10z"/>
<path fill="#00ff00" d="M735 992h10v10h-10zM734 1000h10v10h-10zM739 992h10v10h-10zM747 995h10v10h-10zM1373 1017h10v10h-10zM1390 999h10v10h-10zM1391 1006h10v10h-10zM1449 982h10v10h-10zM1449 986h10v10h-10zM1452 998h10v10h-10zM1464 984h10v10h-10zM1843 990h10v10h-10zM1843 998h10v10h-10zM1843 1006h10v10h-10zM1843 1014h10v10h-10z"/>
<path fill="#20e030" d="M731 1005h10v10h-10zM733 1012h10v10h-10zM741 1006h10v10h-10zM1379 1015h10v10h-10zM1391 1011h10v10h-10zM1415 1050h10v10h-10zM1415 1058h10v10h-10zM1458 998h10v10h-10z"/>
<path fill="#0a74c4" d="M731 1078h10v10h-10zM731 1086h10v10h-10zM731 1094h10v10h-10zM731 1102h10v10h-10zM731 1110h10v10h-10zM731 1118h10v10h-10zM1487 990h10v10h-10zM1487 998h10v10h-10zM1487 1006h10v10h-10zM1487 1014h10v10h-10z"/>
<path fill="#0072bd" d="M835 1060h10v10h-10zM835 1068h10v10h-10zM835 1076h10v10h-10zM835 1084h10v10h-10zM835 1092h10v10h-10z"/>
<path fill="#10f020" d="M835 1094h10v10h-10zM835 1102h10v10h-10zM1380 999h10v10h-10zM1384 999h10v10h-10zM1386 1011h10v10h-10zM1450 994h10v10h-10zM1456 982h10v10h-10zM1458 991h10v10h-10zM1462 980h10v10h-10z"/>
<polygon fill="#0a70b8" points="272,1879 277,1879 282,1879 287,1879 292,1879 297,1879 302,1879 307,1879 312,1879 317,1879 322,1879 327,1879 332,1879 337,1879 342,1879 347,1879 352,1879 357,1879 362,1879 367,1879 372,1879 377,1879 382,1879 387,1879 392,1879 397,1879 402,1879 407,1880 412,1880 417,1881 422,1882 427,1882 432,1883 437,1884 442,1884 447,1884 452,1884 457,1884 462,1884 467,1884 472,1884 477,1884 482,1884 487,1884 492,1883 497,1882 502,1882 507,1881 512,1880 517,1879 522,1880 527,1882 532,1884 537,1886 542,1887 547,1887 552,1887 557,1887 562,1887 567,1887 572,1887 577,1887 582,1887 587,1886 592,1886 597,1887 602,1887 607,1887 612,1888 617,1888 622,1888 627,1889 632,1889 637,1890 642,1890 647,1891 652,1892 657,1892 662,1893 667,1894 672,1894 677,1895 682,1895 687,1896 692,1897 697,1897 702,1898 707,1899 712,1900 717,1901 722,1897 727,1885 732,1883 737,1884 742,1885 747,1886 752,1887 757,1888 762,1890 767,1891 772,1893 777,1894 782,1896 787,1897 792,1898 797,1900 802,1901 807,1896 812,1887 817,1877 822,1872 827,1873 832,1873 837,1874 842,1874 847,1875 852,1876 857,1878 862,1881 867,1885 872,1888 877,1892 882,1894 887,1894 892,1894 897,1894 902,1894 907,1894 912,1894 917,1894 922,1894 927,1894 932,1894 937,1888 942,1880 947,1873 952,1867 957,1861 962,1860 967,1858 972,1857 977,1855 982,1854 987,1852 992,1850 997,1849 1002,1848 1007,1848 1012,1848 1017,1848 1022,1847 1027,1847 1032,1847 1037,1847 1042,1847 1047,1847 1052,1847 1057,1848 1062,1849 1067,1850 1072,1851 1077,1851 1082,1851 1087,1850 1092,1849 1097,1848 1102,1848 1107,1848 1112,1848 1117,1848 1122,1848 1127,1848 1132,1848 1137,1848 1142,1848 1147,1848 1152,1848 1157,1848 1162,1848 1167,1848 1172,1848 1177,1848 1182,1848 1187,1847 1192,1847 1197,1847 1202,1847 1207,1847 1212,1847 1217,1847 1222,1847 1227,1847 1232,1847 1237,1847 1242,1847 1247,1847 1252,1860 1257,1882 1262,1895 1267,1894 1272,1893 1277,1891 1282,1890 1287,1888 1292,1886 1297,1884 1302,1883 1307,1883 1312,1883 1317,1883 1322,1883 1327,1883 1332,1883 1337,1883 1342,1883 1347,1883 1352,1883 1357,1866 1362,1841 1367,1841 1372,1841 1377,1841 1382,1841 1387,1841 1392,1841 1397,1841 1402,1841 1407,1841 1412,1841 1417,1841 1422,1841 1427,1841 1432,1841 1437,1847 1442,1855 1447,1854 1452,1852 1457,1851 1462,1850 1467,1848 1472,1847 1477,1847 1482,1847 1487,1847 1492,1847 1497,1847 1502,1847 1507,1847 1512,1853 1517,1868 1522,1877 1527,1877 1532,1877 1537,1877 1542,1877 1547,1877 1552,1877 1557,1877 1562,1877 1567,1877 1572,1877 1577,1877 1582,1877 1587,1877 1592,1877 1597,1877 1602,1877 1607,1876 1612,1876 1617,1875 1622,1873 1627,1869 1632,1865 1637,1861 1642,1857 1647,1853 1652,1849 1657,1845 1662,1842 1667,1842 1672,1842 1677,1842 1682,1842 1687,1842 1692,1842 1697,1842 1702,1842 1707,1842 1712,1842 1717,1842 1722,1842 1727,1842 1732,1842 1737,1842 1742,1842 1747,1842 1752,1842 1757,1842 1762,1842 1767,1842 1772,1841 1777,1841 1782,1841 1787,1840 1792,1840 1797,1840 1802,1839 1807,1839 1812,1839 1817,1839 1822,1838 1827,1839 1832,1846 1837,1852 1842,1856 1847,1857 1852,1857 1857,1862 1862,1868 1867,1875 1872,1879 1877,1879 1882,1879 1887,1879 1892,1879 1897,1879 1902,1879 1907,1879 1912,1879 1917,1879 1922,1880 1927,1880 1932,1880 1937,1881 1942,1881 1942,1891 1937,1891 1932,1892 1927,1892 1922,1892 1917,1893 1912,1893 1907,1893 1902,1893 1897,1893 1892,1893 1887,1893 1882,1893 1877,1893 1872,1893 1867,1891 1862,1888 1857,1884 1852,1884 1847,1888 1842,1892 1837,1885 1832,1871 1827,1858 1822,1855 1817,1855 1812,1855 1807,1856 1802,1856 1797,1856 1792,1856 1787,1856 1782,1856 1777,1856 1772,1856 1767,1857 1762,1857 1757,1858 1752,1859 1747,1861 1742,1862 1737,1863 1732,1864 1727,1864 1722,1864 1717,1864 1712,1864 1707,1864 1702,1864 1697,1864 1692,1864 1687,1864 1682,1864 1677,1864 1672,1864 1667,1864 1662,1864 1657,1866 1652,1870 1647,1874 1642,1877 1637,1880 1632,1884 1627,1887 1622,1890 1617,1891 1612,1892 1607,1892 1602,1892 1597,1892 1592,1892 1587,1892 1582,1892 1577,1892 1572,1892 1567,1892 1562,1892 1557,1892 1552,1892 1547,1892 1542,1892 1537,1892 1532,1892 1527,1892 1522,1892 1517,1884 1512,1870 1507,1865 1502,1865 1497,1865 1492,1865 1487,1865 1482,1865 1477,1865 1472,1865 1467,1867 1462,1871 1457,1874 1452,1878 1447,1882 1442,1886 1437,1874 1432,1866 1427,1866 1422,1866 1417,1866 1412,1866 1407,1866 1402,1866 1397,1866 1392,1866 1387,1866 1382,1866 1377,1866 1372,1866 1367,1866 1362,1866 1357,1883 1352,1894 1347,1894 1342,1894 1337,1894 1332,1894 1327,1894 1322,1894 1317,1894 1312,1894 1307,1894 1302,1894 1297,1896 1292,1898 1287,1901 1282,1903 1277,1906 1272,1908 1267,1910 1262,1912 1257,1904 1252,1889 1247,1881 1242,1881 1237,1881 1232,1881 1227,1881 1222,1881 1217,1881 1212,1881 1207,1881 1202,1881 1197,1881 1192,1882 1187,1883 1182,1884 1177,1884 1172,1885 1167,1886 1162,1887 1157,1887 1152,1887 1147,1887 1142,1887 1137,1887 1132,1887 1127,1887 1122,1887 1117,1887 1112,1887 1107,1887 1102,1887 1097,1888 1092,1890 1087,1893 1082,1895 1077,1896 1072,1894 1067,1892 1062,1889 1057,1887 1052,1885 1047,1884 1042,1885 1037,1885 1032,1885 1027,1886 1022,1886 1017,1886 1012,1886 1007,1887 1002,1887 997,1887 992,1888 987,1889 982,1889 977,1890 972,1890 967,1891 962,1892 957,1892 952,1895 947,1899 942,1906 937,1914 932,1921 927,1921 922,1921 917,1921 912,1921 907,1921 902,1921 897,1921 892,1921 887,1921 882,1921 877,1920 872,1919 867,1917 862,1916 857,1914 852,1914 847,1914 842,1913 837,1913 832,1913 827,1913 822,1912 817,1916 812,1923 807,1929 802,1933 797,1933 792,1932 787,1932 782,1932 777,1931 772,1931 767,1930 762,1930 757,1930 752,1929 747,1929 742,1929 737,1928 732,1928 727,1928 722,1932 717,1932 712,1930 707,1928 702,1926 697,1925 692,1924 687,1924 682,1923 677,1922 672,1922 667,1921 662,1921 657,1920 652,1920 647,1920 642,1919 637,1919 632,1919 627,1918 622,1917 617,1916 612,1916 607,1915 602,1914 597,1913 592,1912 587,1908 582,1902 577,1902 572,1902 567,1902 562,1902 557,1902 552,1902 547,1902 542,1902 537,1900 532,1898 527,1895 522,1892 517,1891 512,1892 507,1894 502,1895 497,1896 492,1898 487,1899 482,1900 477,1900 472,1900 467,1900 462,1900 457,1900 452,1900 447,1900 442,1900 437,1899 432,1898 427,1897 422,1895 417,1894 412,1893 407,1892 402,1890 397,1890 392,1890 387,1890 382,1890 377,1890 372,1890 367,1890 362,1890 357,1890 352,1890 347,1890 342,1890 337,1890 332,1890 327,1890 322,1890 317,1890 312,1890 307,1890 302,1890 297,1890 292,1890 287,1890 282,1890 277,1890 272,1890"/>
<path fill="#0072bd" d="M268 1871h10v10h-10zM268 1876h10v10h-10zM293 1873h10v10h-10zM292 1887h10v10h-10zM318 1883h10v10h-10zM343 1875h10v10h-10zM343 1882h10v10h-10zM346 1875h10v10h-10zM366 1878h10v10h-10zM372 1872h10v10h-10zM387 1876h10v10h-10zM391 1887h10v10h-10zM403 1874h10v10h-10zM431 1884h10v10h-10zM433 1896h10v10h-10zM437 1875h10v10h-10zM447 1901h10v10h-10zM456 1895h10v10h-10zM463 1888h10v10h-10zM468 1880h10v10h-10zM466 1889h10v10h-10zM478 1893h10v10h-10zM477 1881h10v10h-10zM486 1892h10v10h-10zM498 1879h10v10h-10zM506 1878h10v10h-10zM513 1887h10v10h-10zM526 1881h10v10h-10zM543 1882h10v10h-10zM547 1878h10v10h-10zM553 1886h10v10h-10zM558 1885h10v10h-10zM578 1882h10v10h-10zM577 1904h10v10h-10zM587 1876h10v10h-10zM606 1879h10v10h-10zM611 1915h10v10h-10zM617 1869h10v10h-10zM632 1874h10v10h-10zM632 1925h10v10h-10zM643 1872h10v10h-10zM651 1921h10v10h-10zM661 1918h10v10h-10zM662 1903h10v10h-10zM667 1931h10v10h-10zM671 1914h10v10h-10zM678 1883h10v10h-10zM682 1895h10v10h-10zM692 1921h10v10h-10zM702 1896h10v10h-10zM701 1925h10v10h-10zM712 1943h10v10h-10zM718 1935h10v10h-10zM718 1924h10v10h-10zM722 1864h10v10h-10zM726 1941h10v10h-10zM733 1870h10v10h-10zM741 1886h10v10h-10zM743 1924h10v10h-10zM746 1942h10v10h-10zM758 1863h10v10h-10zM756 1942h10v10h-10zM757 1892h10v10h-10zM761 1886h10v10h-10zM767 1880h10v10h-10zM772 1924h10v10h-10zM791 1880h10v10h-10zM792 1888h10v10h-10zM798 1896h10v10h-10zM801 1874h10v10h-10zM802 1886h10v10h-10zM806 1919h10v10h-10zM812 1930h10v10h-10zM812 1909h10v10h-10zM812 1907h10v10h-10zM823 1848h10v10h-10zM823 1871h10v10h-10zM827 1861h10v10h-10zM831 1851h10v10h-10zM838 1873h10v10h-10zM837 1902h10v10h-10zM842 1875h10v10h-10zM846 1925h10v10h-10zM851 1865h10v10h-10zM852 1914h10v10h-10zM858 1870h10v10h-10zM871 1930h10v10h-10zM871 1914h10v10h-10zM878 1921h10v10h-10zM876 1916h10v10h-10zM877 1897h10v10h-10zM883 1892h10v10h-10zM887 1893h10v10h-10zM896 1929h10v10h-10zM901 1884h10v10h-10zM903 1927h10v10h-10zM907 1919h10v10h-10zM913 1878h10v10h-10zM912 1920h10v10h-10zM917 1882h10v10h-10zM916 1930h10v10h-10zM918 1919h10v10h-10zM927 1927h10v10h-10zM932 1890h10v10h-10zM936 1867h10v10h-10zM943 1867h10v10h-10zM943 1905h10v10h-10zM946 1847h10v10h-10zM952 1850h10v10h-10zM952 1867h10v10h-10zM961 1880h10v10h-10zM966 1886h10v10h-10zM972 1863h10v10h-10zM977 1870h10v10h-10zM981 1899h10v10h-10zM987 1898h10v10h-10zM987 1912h10v10h-10zM1006 1896h10v10h-10zM1007 1880h10v10h-10zM1007 1877h10v10h-10zM1011 1847h10v10h-10zM1012 1880h10v10h-10zM1016 1830h10v10h-10zM1021 1839h10v10h-10zM1021 1845h10v10h-10zM1031 1890h10v10h-10zM1037 1810h10v10h-10zM1042 1884h10v10h-10zM1051 1883h10v10h-10zM1057 1810h10v10h-10zM1062 1833h10v10h-10zM1087 1891h10v10h-10zM1093 1904h10v10h-10zM1093 1894h10v10h-10zM1097 1901h10v10h-10zM1096 1888h10v10h-10zM1097 1846h10v10h-10zM1102 1886h10v10h-10zM1111 1824h10v10h-10zM1118 1839h10v10h-10zM1116 1897h10v10h-10zM1123 1902h10v10h-10zM1127 1827h10v10h-10zM1143 1834h10v10h-10zM1143 1893h10v10h-10zM1148 1893h10v10h-10zM1147 1847h10v10h-10zM1156 1825h10v10h-10zM1157 1842h10v10h-10zM1162 1828h10v10h-10zM1163 1844h10v10h-10zM1167 1894h10v10h-10zM1173 1890h10v10h-10zM1193 1892h10v10h-10zM1197 1886h10v10h-10zM1201 1828h10v10h-10zM1203 1842h10v10h-10zM1201 1846h10v10h-10zM1201 1875h10v10h-10zM1213 1872h10v10h-10zM1217 1888h10v10h-10zM1221 1838h10v10h-10zM1221 1887h10v10h-10zM1228 1886h10v10h-10zM1232 1876h10v10h-10zM1243 1873h10v10h-10zM1248 1857h10v10h-10zM1246 1896h10v10h-10zM1247 1870h10v10h-10zM1252 1868h10v10h-10zM1257 1892h10v10h-10zM1256 1896h10v10h-10zM1287 1892h10v10h-10zM1291 1887h10v10h-10zM1302 1878h10v10h-10zM1316 1877h10v10h-10zM1331 1881h10v10h-10zM1331 1891h10v10h-10zM1347 1876h10v10h-10zM1348 1886h10v10h-10zM1362 1867h10v10h-10zM1361 1856h10v10h-10zM1377 1855h10v10h-10zM1381 1858h10v10h-10zM1387 1870h10v10h-10zM1407 1867h10v10h-10zM1411 1870h10v10h-10zM1412 1868h10v10h-10zM1412 1814h10v10h-10zM1416 1843h10v10h-10zM1422 1872h10v10h-10zM1427 1836h10v10h-10zM1438 1851h10v10h-10zM1438 1897h10v10h-10zM1436 1887h10v10h-10zM1456 1873h10v10h-10zM1463 1845h10v10h-10zM1468 1839h10v10h-10zM1468 1855h10v10h-10zM1467 1850h10v10h-10zM1472 1843h10v10h-10zM1473 1855h10v10h-10zM1476 1847h10v10h-10zM1487 1844h10v10h-10zM1501 1859h10v10h-10zM1512 1864h10v10h-10zM1512 1868h10v10h-10zM1522 1885h10v10h-10zM1528 1879h10v10h-10zM1536 1866h10v10h-10zM1537 1871h10v10h-10zM1543 1886h10v10h-10zM1553 1891h10v10h-10zM1568 1867h10v10h-10zM1572 1892h10v10h-10zM1576 1877h10v10h-10zM1582 1893h10v10h-10zM1603 1865h10v10h-10zM1612 1887h10v10h-10zM1628 1887h10v10h-10zM1643 1852h10v10h-10zM1656 1836h10v10h-10zM1678 1838h10v10h-10zM1678 1868h10v10h-10zM1687 1857h10v10h-10zM1692 1867h10v10h-10zM1711 1839h10v10h-10zM1722 1826h10v10h-10zM1731 1867h10v10h-10zM1743 1838h10v10h-10zM1741 1862h10v10h-10zM1746 1849h10v10h-10zM1753 1852h10v10h-10zM1757 1853h10v10h-10zM1772 1856h10v10h-10zM1772 1849h10v10h-10zM1777 1857h10v10h-10zM1782 1841h10v10h-10zM1788 1850h10v10h-10zM1792 1843h10v10h-10zM1798 1856h10v10h-10zM1826 1843h10v10h-10zM1836 1835h10v10h-10zM1836 1837h10v10h-10zM1837 1905h10v10h-10zM1837 1898h10v10h-10zM1846 1842h10v10h-10zM1846 1856h10v10h-10zM1848 1877h10v10h-10zM1857 1880h10v10h-10zM1872 1876h10v10h-10zM1878 1874h10v10h-10zM1878 1894h10v10h-10zM1897 1874h10v10h-10zM1908 1876h10v10h-10zM1932 1883h10v10h-10zM1936 1886h10v10h-10z"/>
<path fill="#14749a" d="M267 1886h10v10h-10zM277 1875h10v10h-10zM281 1873h10v10h-10zM301 1883h10v10h-10zM311 1880h10v10h-10zM333 1873h10v10h-10zM332 1896h10v10h-10zM341 1870h10v10h-10zM347 1881h10v10h-10zM383 1881h10v10h-10zM392 1877h10v10h-10zM407 1891h10v10h-10zM407 1884h10v10h-10zM412 1879h10v10h-10zM417 1879h10v10h-10zM422 1879h10v10h-10zM423 1891h10v10h-10zM427 1896h10v10h-10zM436 1885h10v10h-10zM442 1881h10v10h-10zM448 1884h10v10h-10zM447 1880h10v10h-10zM452 1886h10v10h-10zM477 1878h10v10h-10zM482 1895h10v10h-10zM491 1896h10v10h-10zM507 1861h10v10h-10zM512 1876h10v10h-10zM516 1878h10v10h-10zM516 1888h10v10h-10zM523 1874h10v10h-10zM533 1880h10v10h-10zM531 1885h10v10h-10zM531 1900h10v10h-10zM536 1883h10v10h-10zM541 1879h10v10h-10zM542 1896h10v10h-10zM548 1883h10v10h-10zM546 1886h10v10h-10zM552 1893h10v10h-10zM562 1884h10v10h-10zM568 1876h10v10h-10zM572 1881h10v10h-10zM586 1886h10v10h-10zM596 1874h10v10h-10zM602 1914h10v10h-10zM612 1884h10v10h-10zM612 1924h10v10h-10zM627 1870h10v10h-10zM626 1913h10v10h-10zM638 1872h10v10h-10zM638 1918h10v10h-10zM642 1914h10v10h-10zM647 1918h10v10h-10zM648 1913h10v10h-10zM653 1875h10v10h-10zM656 1876h10v10h-10zM663 1885h10v10h-10zM683 1882h10v10h-10zM687 1889h10v10h-10zM686 1927h10v10h-10zM693 1896h10v10h-10zM693 1933h10v10h-10zM718 1939h10v10h-10zM723 1856h10v10h-10zM723 1930h10v10h-10zM733 1944h10v10h-10zM732 1921h10v10h-10zM736 1942h10v10h-10zM742 1920h10v10h-10zM753 1864h10v10h-10zM758 1937h10v10h-10zM762 1944h10v10h-10zM761 1927h10v10h-10zM772 1871h10v10h-10zM771 1879h10v10h-10zM777 1873h10v10h-10zM781 1935h10v10h-10zM786 1893h10v10h-10zM787 1932h10v10h-10zM797 1901h10v10h-10zM797 1926h10v10h-10zM813 1923h10v10h-10zM811 1914h10v10h-10zM818 1866h10v10h-10zM821 1919h10v10h-10zM827 1928h10v10h-10zM826 1911h10v10h-10zM831 1855h10v10h-10zM832 1862h10v10h-10zM831 1916h10v10h-10zM843 1850h10v10h-10zM848 1856h10v10h-10zM858 1875h10v10h-10zM861 1924h10v10h-10zM872 1936h10v10h-10zM881 1928h10v10h-10zM893 1929h10v10h-10zM908 1878h10v10h-10zM906 1923h10v10h-10zM927 1882h10v10h-10zM933 1880h10v10h-10zM931 1912h10v10h-10zM947 1865h10v10h-10zM947 1892h10v10h-10zM951 1890h10v10h-10zM956 1849h10v10h-10zM958 1860h10v10h-10zM967 1900h10v10h-10zM966 1882h10v10h-10zM972 1904h10v10h-10zM982 1830h10v10h-10zM983 1887h10v10h-10zM992 1824h10v10h-10zM991 1845h10v10h-10zM992 1849h10v10h-10zM998 1886h10v10h-10zM997 1866h10v10h-10zM1003 1891h10v10h-10zM1018 1839h10v10h-10zM1017 1875h10v10h-10zM1032 1849h10v10h-10zM1038 1835h10v10h-10zM1036 1898h10v10h-10zM1036 1887h10v10h-10zM1047 1833h10v10h-10zM1046 1877h10v10h-10zM1047 1848h10v10h-10zM1052 1849h10v10h-10zM1057 1830h10v10h-10zM1058 1842h10v10h-10zM1062 1909h10v10h-10zM1071 1824h10v10h-10zM1072 1850h10v10h-10zM1072 1916h10v10h-10zM1072 1891h10v10h-10zM1078 1848h10v10h-10zM1083 1844h10v10h-10zM1082 1903h10v10h-10zM1082 1889h10v10h-10zM1086 1828h10v10h-10zM1087 1841h10v10h-10zM1088 1886h10v10h-10zM1091 1898h10v10h-10zM1093 1885h10v10h-10zM1103 1828h10v10h-10zM1103 1901h10v10h-10zM1103 1898h10v10h-10zM1108 1899h10v10h-10zM1112 1828h10v10h-10zM1113 1844h10v10h-10zM1113 1878h10v10h-10zM1116 1831h10v10h-10zM1122 1844h10v10h-10zM1126 1822h10v10h-10zM1133 1822h10v10h-10zM1132 1832h10v10h-10zM1132 1897h10v10h-10zM1131 1892h10v10h-10zM1136 1836h10v10h-10zM1148 1881h10v10h-10zM1151 1881h10v10h-10zM1158 1901h10v10h-10zM1162 1847h10v10h-10zM1163 1901h10v10h-10zM1163 1888h10v10h-10zM1168 1879h10v10h-10zM1172 1893h10v10h-10zM1177 1838h10v10h-10zM1177 1873h10v10h-10zM1182 1824h10v10h-10zM1201 1882h10v10h-10zM1208 1833h10v10h-10zM1207 1842h10v10h-10zM1208 1886h10v10h-10zM1208 1883h10v10h-10zM1207 1876h10v10h-10zM1211 1846h10v10h-10zM1218 1825h10v10h-10zM1222 1825h10v10h-10zM1228 1825h10v10h-10zM1227 1829h10v10h-10zM1231 1830h10v10h-10zM1231 1886h10v10h-10zM1241 1893h10v10h-10zM1246 1852h10v10h-10zM1253 1880h10v10h-10zM1271 1889h10v10h-10zM1281 1880h10v10h-10zM1288 1879h10v10h-10zM1287 1895h10v10h-10zM1293 1875h10v10h-10zM1298 1886h10v10h-10zM1301 1874h10v10h-10zM1308 1881h10v10h-10zM1313 1890h10v10h-10zM1323 1881h10v10h-10zM1332 1873h10v10h-10zM1358 1867h10v10h-10zM1372 1843h10v10h-10zM1378 1870h10v10h-10zM1378 1862h10v10h-10zM1386 1862h10v10h-10zM1387 1854h10v10h-10zM1391 1860h10v10h-10zM1397 1842h10v10h-10zM1403 1842h10v10h-10zM1412 1860h10v10h-10zM1417 1865h10v10h-10zM1418 1857h10v10h-10zM1422 1833h10v10h-10zM1433 1866h10v10h-10zM1441 1890h10v10h-10zM1453 1869h10v10h-10zM1453 1865h10v10h-10zM1472 1864h10v10h-10zM1488 1861h10v10h-10zM1496 1859h10v10h-10zM1513 1856h10v10h-10zM1511 1885h10v10h-10zM1512 1881h10v10h-10zM1518 1869h10v10h-10zM1521 1869h10v10h-10zM1522 1892h10v10h-10zM1521 1880h10v10h-10zM1527 1871h10v10h-10zM1536 1887h10v10h-10zM1541 1865h10v10h-10zM1543 1891h10v10h-10zM1546 1873h10v10h-10zM1553 1867h10v10h-10zM1552 1874h10v10h-10zM1552 1887h10v10h-10zM1558 1891h10v10h-10zM1558 1887h10v10h-10zM1561 1886h10v10h-10zM1572 1879h10v10h-10zM1577 1873h10v10h-10zM1577 1886h10v10h-10zM1583 1873h10v10h-10zM1583 1889h10v10h-10zM1588 1892h10v10h-10zM1591 1893h10v10h-10zM1602 1879h10v10h-10zM1608 1869h10v10h-10zM1606 1884h10v10h-10zM1612 1870h10v10h-10zM1626 1857h10v10h-10zM1642 1847h10v10h-10zM1646 1873h10v10h-10zM1648 1869h10v10h-10zM1652 1832h10v10h-10zM1653 1868h10v10h-10zM1652 1857h10v10h-10zM1678 1865h10v10h-10zM1682 1841h10v10h-10zM1687 1862h10v10h-10zM1696 1828h10v10h-10zM1697 1835h10v10h-10zM1698 1857h10v10h-10zM1733 1837h10v10h-10zM1737 1865h10v10h-10zM1753 1840h10v10h-10zM1757 1836h10v10h-10zM1758 1843h10v10h-10zM1771 1843h10v10h-10zM1786 1832h10v10h-10zM1787 1841h10v10h-10zM1811 1834h10v10h-10zM1811 1857h10v10h-10zM1832 1837h10v10h-10zM1831 1877h10v10h-10zM1841 1856h10v10h-10zM1853 1880h10v10h-10zM1858 1860h10v10h-10zM1858 1866h10v10h-10zM1863 1890h10v10h-10zM1868 1891h10v10h-10zM1883 1875h10v10h-10zM1897 1883h10v10h-10zM1911 1871h10v10h-10zM1913 1876h10v10h-10zM1916 1875h10v10h-10zM1932 1887h10v10h-10z"/>
<path fill="#0b6cc0" d="M267 1883h10v10h-10zM281 1882h10v10h-10zM292 1884h10v10h-10zM306 1886h10v10h-10zM312 1872h10v10h-10zM322 1871h10v10h-10zM321 1881h10v10h-10zM328 1870h10v10h-10zM333 1889h10v10h-10zM358 1888h10v10h-10zM357 1883h10v10h-10zM376 1872h10v10h-10zM381 1873h10v10h-10zM383 1888h10v10h-10zM397 1872h10v10h-10zM396 1878h10v10h-10zM418 1889h10v10h-10zM422 1894h10v10h-10zM422 1884h10v10h-10zM427 1882h10v10h-10zM426 1892h10v10h-10zM433 1887h10v10h-10zM438 1900h10v10h-10zM447 1891h10v10h-10zM452 1889h10v10h-10zM473 1894h10v10h-10zM476 1890h10v10h-10zM488 1885h10v10h-10zM496 1890h10v10h-10zM507 1871h10v10h-10zM507 1890h10v10h-10zM513 1872h10v10h-10zM526 1874h10v10h-10zM526 1890h10v10h-10zM537 1883h10v10h-10zM557 1903h10v10h-10zM558 1893h10v10h-10zM572 1879h10v10h-10zM572 1892h10v10h-10zM577 1893h10v10h-10zM586 1879h10v10h-10zM587 1901h10v10h-10zM592 1920h10v10h-10zM596 1879h10v10h-10zM596 1885h10v10h-10zM601 1887h10v10h-10zM603 1923h10v10h-10zM613 1881h10v10h-10zM611 1910h10v10h-10zM621 1926h10v10h-10zM626 1879h10v10h-10zM638 1882h10v10h-10zM637 1915h10v10h-10zM643 1888h10v10h-10zM648 1923h10v10h-10zM657 1879h10v10h-10zM656 1890h10v10h-10zM668 1885h10v10h-10zM673 1892h10v10h-10zM676 1895h10v10h-10zM681 1915h10v10h-10zM687 1892h10v10h-10zM692 1941h10v10h-10zM698 1927h10v10h-10zM702 1893h10v10h-10zM708 1940h10v10h-10zM711 1883h10v10h-10zM713 1893h10v10h-10zM713 1901h10v10h-10zM717 1928h10v10h-10zM723 1869h10v10h-10zM723 1928h10v10h-10zM731 1875h10v10h-10zM738 1857h10v10h-10zM737 1874h10v10h-10zM737 1936h10v10h-10zM746 1881h10v10h-10zM746 1945h10v10h-10zM746 1937h10v10h-10zM747 1927h10v10h-10zM747 1895h10v10h-10zM758 1883h10v10h-10zM762 1939h10v10h-10zM766 1943h10v10h-10zM778 1945h10v10h-10zM776 1938h10v10h-10zM802 1882h10v10h-10zM802 1930h10v10h-10zM817 1911h10v10h-10zM826 1847h10v10h-10zM826 1916h10v10h-10zM828 1909h10v10h-10zM832 1857h10v10h-10zM832 1868h10v10h-10zM832 1924h10v10h-10zM832 1875h10v10h-10zM842 1919h10v10h-10zM852 1929h10v10h-10zM857 1863h10v10h-10zM861 1872h10v10h-10zM867 1898h10v10h-10zM873 1921h10v10h-10zM878 1893h10v10h-10zM876 1913h10v10h-10zM882 1888h10v10h-10zM882 1907h10v10h-10zM887 1904h10v10h-10zM896 1891h10v10h-10zM906 1885h10v10h-10zM918 1892h10v10h-10zM922 1929h10v10h-10zM926 1925h10v10h-10zM936 1911h10v10h-10zM952 1847h10v10h-10zM958 1890h10v10h-10zM957 1882h10v10h-10zM957 1877h10v10h-10zM963 1852h10v10h-10zM961 1886h10v10h-10zM973 1844h10v10h-10zM973 1881h10v10h-10zM977 1900h10v10h-10zM987 1882h10v10h-10zM992 1899h10v10h-10zM1008 1842h10v10h-10zM1018 1888h10v10h-10zM1022 1890h10v10h-10zM1026 1823h10v10h-10zM1027 1839h10v10h-10zM1033 1828h10v10h-10zM1036 1885h10v10h-10zM1043 1899h10v10h-10zM1042 1892h10v10h-10zM1048 1829h10v10h-10zM1052 1896h10v10h-10zM1063 1894h10v10h-10zM1061 1889h10v10h-10zM1067 1832h10v10h-10zM1067 1849h10v10h-10zM1068 1903h10v10h-10zM1067 1920h10v10h-10zM1078 1830h10v10h-10zM1078 1843h10v10h-10zM1077 1891h10v10h-10zM1077 1886h10v10h-10zM1077 1923h10v10h-10zM1081 1834h10v10h-10zM1083 1836h10v10h-10zM1081 1849h10v10h-10zM1082 1885h10v10h-10zM1086 1840h10v10h-10zM1092 1821h10v10h-10zM1092 1890h10v10h-10zM1092 1911h10v10h-10zM1098 1843h10v10h-10zM1098 1895h10v10h-10zM1107 1849h10v10h-10zM1112 1833h10v10h-10zM1117 1828h10v10h-10zM1118 1850h10v10h-10zM1123 1879h10v10h-10zM1127 1838h10v10h-10zM1132 1840h10v10h-10zM1138 1879h10v10h-10zM1143 1876h10v10h-10zM1147 1829h10v10h-10zM1148 1849h10v10h-10zM1147 1877h10v10h-10zM1166 1840h10v10h-10zM1166 1843h10v10h-10zM1167 1908h10v10h-10zM1182 1835h10v10h-10zM1197 1873h10v10h-10zM1201 1870h10v10h-10zM1206 1893h10v10h-10zM1212 1832h10v10h-10zM1211 1893h10v10h-10zM1233 1870h10v10h-10zM1243 1826h10v10h-10zM1242 1877h10v10h-10zM1257 1910h10v10h-10zM1262 1893h10v10h-10zM1261 1910h10v10h-10zM1267 1882h10v10h-10zM1266 1889h10v10h-10zM1267 1893h10v10h-10zM1298 1874h10v10h-10zM1297 1880h10v10h-10zM1336 1879h10v10h-10zM1338 1890h10v10h-10zM1367 1856h10v10h-10zM1372 1832h10v10h-10zM1373 1835h10v10h-10zM1373 1872h10v10h-10zM1387 1831h10v10h-10zM1387 1865h10v10h-10zM1412 1857h10v10h-10zM1416 1861h10v10h-10zM1423 1835h10v10h-10zM1422 1864h10v10h-10zM1427 1861h10v10h-10zM1436 1841h10v10h-10zM1436 1848h10v10h-10zM1436 1881h10v10h-10zM1447 1884h10v10h-10zM1451 1841h10v10h-10zM1468 1837h10v10h-10zM1476 1841h10v10h-10zM1477 1856h10v10h-10zM1482 1840h10v10h-10zM1503 1847h10v10h-10zM1507 1844h10v10h-10zM1513 1875h10v10h-10zM1521 1870h10v10h-10zM1531 1893h10v10h-10zM1532 1887h10v10h-10zM1543 1880h10v10h-10zM1562 1881h10v10h-10zM1568 1873h10v10h-10zM1568 1887h10v10h-10zM1571 1867h10v10h-10zM1577 1893h10v10h-10zM1588 1888h10v10h-10zM1593 1886h10v10h-10zM1628 1852h10v10h-10zM1632 1871h10v10h-10zM1638 1878h10v10h-10zM1638 1869h10v10h-10zM1641 1841h10v10h-10zM1653 1842h10v10h-10zM1663 1837h10v10h-10zM1661 1864h10v10h-10zM1672 1848h10v10h-10zM1702 1834h10v10h-10zM1708 1863h10v10h-10zM1716 1836h10v10h-10zM1727 1843h10v10h-10zM1736 1841h10v10h-10zM1737 1852h10v10h-10zM1763 1851h10v10h-10zM1767 1835h10v10h-10zM1772 1835h10v10h-10zM1793 1845h10v10h-10zM1796 1831h10v10h-10zM1796 1850h10v10h-10zM1797 1846h10v10h-10zM1802 1855h10v10h-10zM1836 1854h10v10h-10zM1841 1841h10v10h-10zM1841 1881h10v10h-10zM1852 1849h10v10h-10zM1852 1879h10v10h-10zM1856 1857h10v10h-10zM1863 1876h10v10h-10zM1861 1885h10v10h-10zM1871 1885h10v10h-10zM1893 1876h10v10h-10zM1902 1875h10v10h-10zM1901 1885h10v10h-10zM1907 1878h10v10h-10zM1911 1888h10v10h-10zM1917 1871h10v10h-10zM1922 1874h10v10h-10z"/>
<path fill="#1a6fb0" d="M272 1873h10v10h-10zM271 1883h10v10h-10zM287 1881h10v10h-10zM308 1873h10v10h-10zM306 1881h10v10h-10zM358 1878h10v10h-10zM367 1885h10v10h-10zM371 1881h10v10h-10zM391 1871h10v10h-10zM403 1879h10v10h-10zM403 1890h10v10h-10zM406 1878h10v10h-10zM432 1891h10v10h-10zM453 1878h10v10h-10zM456 1891h10v10h-10zM463 1885h10v10h-10zM462 1895h10v10h-10zM466 1900h10v10h-10zM471 1891h10v10h-10zM482 1889h10v10h-10zM487 1874h10v10h-10zM492 1890h10v10h-10zM526 1896h10v10h-10zM533 1877h10v10h-10zM546 1896h10v10h-10zM551 1903h10v10h-10zM568 1882h10v10h-10zM566 1886h10v10h-10zM572 1898h10v10h-10zM576 1889h10v10h-10zM593 1874h10v10h-10zM592 1886h10v10h-10zM596 1868h10v10h-10zM601 1875h10v10h-10zM611 1920h10v10h-10zM616 1911h10v10h-10zM623 1921h10v10h-10zM626 1917h10v10h-10zM643 1879h10v10h-10zM647 1875h10v10h-10zM647 1887h10v10h-10zM647 1907h10v10h-10zM651 1913h10v10h-10zM662 1876h10v10h-10zM663 1912h10v10h-10zM668 1914h10v10h-10zM678 1930h10v10h-10zM676 1914h10v10h-10zM687 1923h10v10h-10zM698 1882h10v10h-10zM698 1885h10v10h-10zM712 1898h10v10h-10zM713 1928h10v10h-10zM718 1887h10v10h-10zM723 1922h10v10h-10zM722 1890h10v10h-10zM726 1932h10v10h-10zM733 1866h10v10h-10zM731 1939h10v10h-10zM737 1931h10v10h-10zM748 1931h10v10h-10zM757 1875h10v10h-10zM758 1881h10v10h-10zM766 1873h10v10h-10zM773 1940h10v10h-10zM773 1935h10v10h-10zM777 1924h10v10h-10zM788 1881h10v10h-10zM788 1945h10v10h-10zM787 1941h10v10h-10zM792 1900h10v10h-10zM792 1924h10v10h-10zM797 1936h10v10h-10zM803 1895h10v10h-10zM807 1916h10v10h-10zM807 1914h10v10h-10zM813 1852h10v10h-10zM813 1874h10v10h-10zM816 1919h10v10h-10zM818 1909h10v10h-10zM822 1866h10v10h-10zM831 1909h10v10h-10zM837 1917h10v10h-10zM836 1914h10v10h-10zM841 1926h10v10h-10zM842 1914h10v10h-10zM847 1870h10v10h-10zM852 1852h10v10h-10zM856 1929h10v10h-10zM857 1906h10v10h-10zM863 1882h10v10h-10zM861 1908h10v10h-10zM867 1885h10v10h-10zM868 1923h10v10h-10zM868 1911h10v10h-10zM871 1882h10v10h-10zM871 1890h10v10h-10zM882 1917h10v10h-10zM888 1886h10v10h-10zM892 1896h10v10h-10zM898 1887h10v10h-10zM898 1919h10v10h-10zM897 1900h10v10h-10zM912 1883h10v10h-10zM912 1912h10v10h-10zM928 1878h10v10h-10zM933 1922h10v10h-10zM932 1906h10v10h-10zM937 1920h10v10h-10zM943 1862h10v10h-10zM942 1872h10v10h-10zM947 1904h10v10h-10zM953 1856h10v10h-10zM951 1863h10v10h-10zM961 1842h10v10h-10zM961 1900h10v10h-10zM962 1890h10v10h-10zM968 1851h10v10h-10zM972 1834h10v10h-10zM973 1839h10v10h-10zM971 1853h10v10h-10zM971 1885h10v10h-10zM978 1843h10v10h-10zM977 1845h10v10h-10zM976 1853h10v10h-10zM987 1843h10v10h-10zM986 1888h10v10h-10zM992 1828h10v10h-10zM996 1881h10v10h-10zM1002 1822h10v10h-10zM1001 1836h10v10h-10zM1002 1843h10v10h-10zM1002 1849h10v10h-10zM1013 1837h10v10h-10zM1017 1885h10v10h-10zM1022 1822h10v10h-10zM1026 1849h10v10h-10zM1028 1875h10v10h-10zM1033 1823h10v10h-10zM1038 1827h10v10h-10zM1036 1842h10v10h-10zM1041 1844h10v10h-10zM1043 1887h10v10h-10zM1051 1842h10v10h-10zM1053 1878h10v10h-10zM1057 1862h10v10h-10zM1062 1902h10v10h-10zM1062 1882h10v10h-10zM1068 1844h10v10h-10zM1067 1904h10v10h-10zM1068 1886h10v10h-10zM1077 1821h10v10h-10zM1078 1834h10v10h-10zM1083 1910h10v10h-10zM1091 1848h10v10h-10zM1098 1830h10v10h-10zM1097 1892h10v10h-10zM1101 1849h10v10h-10zM1106 1843h10v10h-10zM1122 1850h10v10h-10zM1127 1849h10v10h-10zM1133 1829h10v10h-10zM1132 1844h10v10h-10zM1133 1847h10v10h-10zM1138 1897h10v10h-10zM1137 1850h10v10h-10zM1146 1900h10v10h-10zM1153 1844h10v10h-10zM1152 1894h10v10h-10zM1158 1828h10v10h-10zM1156 1892h10v10h-10zM1163 1879h10v10h-10zM1163 1876h10v10h-10zM1166 1901h10v10h-10zM1173 1843h10v10h-10zM1176 1826h10v10h-10zM1181 1893h10v10h-10zM1186 1827h10v10h-10zM1186 1834h10v10h-10zM1191 1828h10v10h-10zM1196 1838h10v10h-10zM1196 1879h10v10h-10zM1208 1844h10v10h-10zM1212 1840h10v10h-10zM1211 1881h10v10h-10zM1221 1830h10v10h-10zM1223 1877h10v10h-10zM1228 1892h10v10h-10zM1233 1824h10v10h-10zM1236 1827h10v10h-10zM1238 1882h10v10h-10zM1246 1881h10v10h-10zM1256 1907h10v10h-10zM1257 1903h10v10h-10zM1278 1882h10v10h-10zM1278 1902h10v10h-10zM1281 1898h10v10h-10zM1282 1892h10v10h-10zM1287 1883h10v10h-10zM1302 1888h10v10h-10zM1307 1875h10v10h-10zM1311 1880h10v10h-10zM1317 1888h10v10h-10zM1326 1892h10v10h-10zM1338 1885h10v10h-10zM1357 1861h10v10h-10zM1362 1869h10v10h-10zM1372 1841h10v10h-10zM1383 1872h10v10h-10zM1391 1872h10v10h-10zM1391 1866h10v10h-10zM1393 1855h10v10h-10zM1396 1836h10v10h-10zM1402 1830h10v10h-10zM1401 1867h10v10h-10zM1406 1841h10v10h-10zM1417 1848h10v10h-10zM1426 1866h10v10h-10zM1426 1857h10v10h-10zM1432 1830h10v10h-10zM1437 1874h10v10h-10zM1437 1906h10v10h-10zM1442 1835h10v10h-10zM1441 1840h10v10h-10zM1447 1864h10v10h-10zM1456 1841h10v10h-10zM1458 1866h10v10h-10zM1477 1865h10v10h-10zM1488 1835h10v10h-10zM1491 1834h10v10h-10zM1493 1842h10v10h-10zM1492 1848h10v10h-10zM1502 1837h10v10h-10zM1508 1848h10v10h-10zM1507 1868h10v10h-10zM1521 1879h10v10h-10zM1523 1888h10v10h-10zM1527 1891h10v10h-10zM1553 1877h10v10h-10zM1557 1874h10v10h-10zM1557 1885h10v10h-10zM1561 1875h10v10h-10zM1566 1875h10v10h-10zM1573 1883h10v10h-10zM1596 1873h10v10h-10zM1608 1892h10v10h-10zM1613 1865h10v10h-10zM1613 1892h10v10h-10zM1617 1882h10v10h-10zM1622 1901h10v10h-10zM1633 1860h10v10h-10zM1631 1877h10v10h-10zM1636 1843h10v10h-10zM1636 1851h10v10h-10zM1656 1859h10v10h-10zM1667 1855h10v10h-10zM1673 1835h10v10h-10zM1681 1863h10v10h-10zM1697 1858h10v10h-10zM1706 1829h10v10h-10zM1712 1865h10v10h-10zM1722 1834h10v10h-10zM1721 1862h10v10h-10zM1728 1826h10v10h-10zM1747 1843h10v10h-10zM1753 1836h10v10h-10zM1763 1844h10v10h-10zM1766 1851h10v10h-10zM1777 1842h10v10h-10zM1777 1851h10v10h-10zM1793 1857h10v10h-10zM1803 1851h10v10h-10zM1808 1826h10v10h-10zM1806 1856h10v10h-10zM1818 1825h10v10h-10zM1828 1879h10v10h-10zM1832 1849h10v10h-10zM1842 1877h10v10h-10zM1851 1857h10v10h-10zM1851 1884h10v10h-10zM1858 1888h10v10h-10zM1866 1875h10v10h-10zM1877 1889h10v10h-10zM1882 1886h10v10h-10zM1886 1870h10v10h-10zM1891 1870h10v10h-10zM1893 1889h10v10h-10zM1902 1887h10v10h-10zM1921 1878h10v10h-10zM1922 1885h10v10h-10zM1927 1882h10v10h-10z"/>
<path fill="#0a74c4" d="M271 1875h10v10h-10zM301 1887h10v10h-10zM317 1873h10v10h-10zM327 1899h10v10h-10zM348 1888h10v10h-10zM351 1878h10v10h-10zM361 1882h10v10h-10zM387 1888h10v10h-10zM397 1888h10v10h-10zM416 1872h10v10h-10zM422 1883h10v10h-10zM427 1887h10v10h-10zM442 1896h10v10h-10zM461 1872h10v10h-10zM471 1875h10v10h-10zM477 1885h10v10h-10zM482 1872h10v10h-10zM483 1899h10v10h-10zM491 1872h10v10h-10zM501 1887h10v10h-10zM537 1901h10v10h-10zM537 1894h10v10h-10zM563 1898h10v10h-10zM581 1901h10v10h-10zM587 1902h10v10h-10zM592 1870h10v10h-10zM591 1881h10v10h-10zM592 1905h10v10h-10zM596 1905h10v10h-10zM597 1897h10v10h-10zM606 1870h10v10h-10zM622 1874h10v10h-10zM622 1887h10v10h-10zM621 1913h10v10h-10zM631 1917h10v10h-10zM652 1888h10v10h-10zM656 1914h10v10h-10zM663 1923h10v10h-10zM667 1878h10v10h-10zM666 1924h10v10h-10zM673 1878h10v10h-10zM671 1886h10v10h-10zM676 1877h10v10h-10zM682 1921h10v10h-10zM686 1878h10v10h-10zM686 1894h10v10h-10zM687 1932h10v10h-10zM697 1891h10v10h-10zM696 1893h10v10h-10zM697 1933h10v10h-10zM698 1924h10v10h-10zM697 1917h10v10h-10zM702 1920h10v10h-10zM713 1930h10v10h-10zM723 1878h10v10h-10zM721 1882h10v10h-10zM722 1944h10v10h-10zM732 1862h10v10h-10zM738 1868h10v10h-10zM737 1925h10v10h-10zM741 1876h10v10h-10zM743 1942h10v10h-10zM741 1935h10v10h-10zM747 1849h10v10h-10zM753 1876h10v10h-10zM752 1885h10v10h-10zM752 1940h10v10h-10zM751 1921h10v10h-10zM752 1913h10v10h-10zM756 1920h10v10h-10zM763 1872h10v10h-10zM761 1890h10v10h-10zM767 1889h10v10h-10zM766 1932h10v10h-10zM778 1880h10v10h-10zM778 1884h10v10h-10zM782 1896h10v10h-10zM787 1886h10v10h-10zM788 1925h10v10h-10zM791 1895h10v10h-10zM797 1933h10v10h-10zM801 1941h10v10h-10zM801 1925h10v10h-10zM806 1875h10v10h-10zM808 1884h10v10h-10zM812 1858h10v10h-10zM821 1921h10v10h-10zM823 1907h10v10h-10zM838 1860h10v10h-10zM841 1905h10v10h-10zM847 1913h10v10h-10zM848 1903h10v10h-10zM852 1899h10v10h-10zM856 1859h10v10h-10zM876 1881h10v10h-10zM882 1912h10v10h-10zM887 1881h10v10h-10zM887 1918h10v10h-10zM891 1876h10v10h-10zM893 1881h10v10h-10zM891 1893h10v10h-10zM907 1892h10v10h-10zM912 1892h10v10h-10zM917 1888h10v10h-10zM923 1892h10v10h-10zM921 1915h10v10h-10zM937 1906h10v10h-10zM938 1902h10v10h-10zM937 1898h10v10h-10zM943 1898h10v10h-10zM941 1890h10v10h-10zM947 1855h10v10h-10zM952 1898h10v10h-10zM956 1846h10v10h-10zM956 1854h10v10h-10zM956 1897h10v10h-10zM962 1837h10v10h-10zM967 1833h10v10h-10zM977 1883h10v10h-10zM982 1891h10v10h-10zM983 1881h10v10h-10zM987 1835h10v10h-10zM986 1901h10v10h-10zM988 1891h10v10h-10zM991 1902h10v10h-10zM991 1876h10v10h-10zM997 1894h10v10h-10zM1001 1875h10v10h-10zM1002 1848h10v10h-10zM1007 1892h10v10h-10zM1013 1834h10v10h-10zM1016 1844h10v10h-10zM1026 1833h10v10h-10zM1028 1896h10v10h-10zM1031 1898h10v10h-10zM1033 1892h10v10h-10zM1031 1877h10v10h-10zM1037 1823h10v10h-10zM1037 1881h10v10h-10zM1042 1829h10v10h-10zM1041 1837h10v10h-10zM1047 1837h10v10h-10zM1046 1884h10v10h-10zM1052 1887h10v10h-10zM1058 1897h10v10h-10zM1063 1824h10v10h-10zM1068 1913h10v10h-10zM1073 1833h10v10h-10zM1072 1838h10v10h-10zM1071 1894h10v10h-10zM1087 1821h10v10h-10zM1087 1900h10v10h-10zM1097 1836h10v10h-10zM1098 1849h10v10h-10zM1096 1884h10v10h-10zM1096 1878h10v10h-10zM1103 1843h10v10h-10zM1103 1894h10v10h-10zM1108 1829h10v10h-10zM1106 1885h10v10h-10zM1106 1878h10v10h-10zM1111 1889h10v10h-10zM1116 1877h10v10h-10zM1122 1823h10v10h-10zM1121 1828h10v10h-10zM1121 1898h10v10h-10zM1121 1883h10v10h-10zM1126 1890h10v10h-10zM1131 1886h10v10h-10zM1131 1884h10v10h-10zM1132 1865h10v10h-10zM1136 1892h10v10h-10zM1146 1843h10v10h-10zM1147 1887h10v10h-10zM1152 1823h10v10h-10zM1158 1850h10v10h-10zM1161 1885h10v10h-10zM1177 1892h10v10h-10zM1183 1845h10v10h-10zM1188 1895h10v10h-10zM1188 1884h10v10h-10zM1186 1877h10v10h-10zM1193 1878h10v10h-10zM1197 1825h10v10h-10zM1198 1829h10v10h-10zM1197 1891h10v10h-10zM1207 1871h10v10h-10zM1221 1841h10v10h-10zM1226 1876h10v10h-10zM1227 1871h10v10h-10zM1232 1834h10v10h-10zM1232 1844h10v10h-10zM1232 1848h10v10h-10zM1248 1893h10v10h-10zM1248 1886h10v10h-10zM1251 1900h10v10h-10zM1262 1886h10v10h-10zM1268 1903h10v10h-10zM1273 1901h10v10h-10zM1303 1891h10v10h-10zM1311 1885h10v10h-10zM1322 1873h10v10h-10zM1326 1875h10v10h-10zM1346 1891h10v10h-10zM1352 1879h10v10h-10zM1353 1875h10v10h-10zM1358 1854h10v10h-10zM1367 1825h10v10h-10zM1376 1840h10v10h-10zM1393 1840h10v10h-10zM1397 1860h10v10h-10zM1401 1855h10v10h-10zM1408 1856h10v10h-10zM1413 1827h10v10h-10zM1412 1836h10v10h-10zM1416 1871h10v10h-10zM1423 1841h10v10h-10zM1432 1880h10v10h-10zM1431 1872h10v10h-10zM1432 1856h10v10h-10zM1448 1847h10v10h-10zM1448 1875h10v10h-10zM1451 1852h10v10h-10zM1468 1867h10v10h-10zM1477 1858h10v10h-10zM1483 1860h10v10h-10zM1508 1851h10v10h-10zM1516 1887h10v10h-10zM1527 1889h10v10h-10zM1533 1881h10v10h-10zM1537 1893h10v10h-10zM1547 1881h10v10h-10zM1552 1883h10v10h-10zM1562 1892h10v10h-10zM1578 1882h10v10h-10zM1581 1868h10v10h-10zM1588 1872h10v10h-10zM1588 1879h10v10h-10zM1601 1891h10v10h-10zM1603 1884h10v10h-10zM1628 1862h10v10h-10zM1646 1839h10v10h-10zM1646 1863h10v10h-10zM1668 1859h10v10h-10zM1677 1832h10v10h-10zM1688 1832h10v10h-10zM1693 1834h10v10h-10zM1692 1863h10v10h-10zM1697 1837h10v10h-10zM1696 1867h10v10h-10zM1702 1865h10v10h-10zM1717 1831h10v10h-10zM1732 1861h10v10h-10zM1746 1861h10v10h-10zM1761 1838h10v10h-10zM1763 1857h10v10h-10zM1768 1841h10v10h-10zM1776 1831h10v10h-10zM1782 1832h10v10h-10zM1782 1836h10v10h-10zM1782 1856h10v10h-10zM1786 1836h10v10h-10zM1791 1833h10v10h-10zM1793 1841h10v10h-10zM1796 1838h10v10h-10zM1818 1836h10v10h-10zM1823 1828h10v10h-10zM1828 1874h10v10h-10zM1828 1869h10v10h-10zM1832 1882h10v10h-10zM1837 1885h10v10h-10zM1842 1839h10v10h-10zM1846 1844h10v10h-10zM1847 1870h10v10h-10zM1852 1890h10v10h-10zM1856 1886h10v10h-10zM1867 1877h10v10h-10zM1872 1891h10v10h-10zM1891 1894h10v10h-10zM1896 1887h10v10h-10zM1907 1871h10v10h-10zM1926 1876h10v10h-10z"/>
<path fill="#3a5f92" d="M271 1888h10v10h-10zM277 1881h10v10h-10zM296 1877h10v10h-10zM303 1878h10v10h-10zM317 1879h10v10h-10zM317 1886h10v10h-10zM321 1888h10v10h-10zM326 1888h10v10h-10zM333 1883h10v10h-10zM356 1871h10v10h-10zM368 1881h10v10h-10zM373 1879h10v10h-10zM377 1877h10v10h-10zM377 1881h10v10h-10zM386 1874h10v10h-10zM388 1883h10v10h-10zM422 1908h10v10h-10zM428 1872h10v10h-10zM436 1894h10v10h-10zM443 1874h10v10h-10zM453 1874h10v10h-10zM457 1879h10v10h-10zM472 1877h10v10h-10zM491 1878h10v10h-10zM497 1892h10v10h-10zM508 1885h10v10h-10zM511 1881h10v10h-10zM516 1885h10v10h-10zM527 1886h10v10h-10zM541 1902h10v10h-10zM543 1893h10v10h-10zM552 1877h10v10h-10zM552 1882h10v10h-10zM551 1897h10v10h-10zM557 1887h10v10h-10zM561 1875h10v10h-10zM573 1900h10v10h-10zM582 1882h10v10h-10zM587 1919h10v10h-10zM598 1921h10v10h-10zM597 1914h10v10h-10zM596 1912h10v10h-10zM602 1868h10v10h-10zM603 1907h10v10h-10zM618 1880h10v10h-10zM623 1869h10v10h-10zM621 1916h10v10h-10zM627 1884h10v10h-10zM632 1882h10v10h-10zM648 1880h10v10h-10zM651 1928h10v10h-10zM663 1882h10v10h-10zM693 1890h10v10h-10zM702 1880h10v10h-10zM708 1885h10v10h-10zM708 1893h10v10h-10zM708 1933h10v10h-10zM707 1928h10v10h-10zM713 1887h10v10h-10zM712 1923h10v10h-10zM717 1945h10v10h-10zM726 1855h10v10h-10zM727 1861h10v10h-10zM726 1881h10v10h-10zM726 1926h10v10h-10zM731 1858h10v10h-10zM732 1881h10v10h-10zM732 1924h10v10h-10zM736 1921h10v10h-10zM741 1878h10v10h-10zM742 1929h10v10h-10zM752 1932h10v10h-10zM751 1926h10v10h-10zM757 1867h10v10h-10zM762 1887h10v10h-10zM766 1892h10v10h-10zM767 1895h10v10h-10zM778 1889h10v10h-10zM778 1936h10v10h-10zM782 1880h10v10h-10zM783 1929h10v10h-10zM783 1926h10v10h-10zM792 1935h10v10h-10zM797 1880h10v10h-10zM798 1944h10v10h-10zM802 1890h10v10h-10zM802 1914h10v10h-10zM807 1864h10v10h-10zM806 1870h10v10h-10zM806 1881h10v10h-10zM813 1863h10v10h-10zM818 1861h10v10h-10zM818 1873h10v10h-10zM816 1928h10v10h-10zM823 1856h10v10h-10zM822 1860h10v10h-10zM821 1929h10v10h-10zM823 1912h10v10h-10zM821 1903h10v10h-10zM827 1921h10v10h-10zM828 1902h10v10h-10zM833 1875h10v10h-10zM832 1928h10v10h-10zM843 1854h10v10h-10zM843 1865h10v10h-10zM842 1907h10v10h-10zM848 1850h10v10h-10zM847 1861h10v10h-10zM866 1875h10v10h-10zM873 1874h10v10h-10zM878 1886h10v10h-10zM886 1915h10v10h-10zM897 1923h10v10h-10zM897 1913h10v10h-10zM902 1876h10v10h-10zM903 1919h10v10h-10zM908 1927h10v10h-10zM906 1913h10v10h-10zM916 1876h10v10h-10zM922 1887h10v10h-10zM926 1913h10v10h-10zM932 1874h10v10h-10zM931 1887h10v10h-10zM932 1918h10v10h-10zM938 1877h10v10h-10zM948 1897h10v10h-10zM957 1838h10v10h-10zM958 1888h10v10h-10zM972 1892h10v10h-10zM983 1840h10v10h-10zM982 1844h10v10h-10zM981 1848h10v10h-10zM988 1846h10v10h-10zM993 1888h10v10h-10zM993 1883h10v10h-10zM997 1826h10v10h-10zM998 1833h10v10h-10zM996 1898h10v10h-10zM1007 1830h10v10h-10zM1013 1874h10v10h-10zM1022 1895h10v10h-10zM1023 1883h10v10h-10zM1022 1911h10v10h-10zM1028 1830h10v10h-10zM1027 1843h10v10h-10zM1032 1831h10v10h-10zM1032 1850h10v10h-10zM1036 1839h10v10h-10zM1037 1906h10v10h-10zM1041 1824h10v10h-10zM1048 1875h10v10h-10zM1052 1832h10v10h-10zM1053 1901h10v10h-10zM1056 1833h10v10h-10zM1056 1887h10v10h-10zM1063 1839h10v10h-10zM1061 1847h10v10h-10zM1076 1913h10v10h-10zM1077 1886h10v10h-10zM1081 1828h10v10h-10zM1086 1846h10v10h-10zM1091 1829h10v10h-10zM1092 1863h10v10h-10zM1097 1833h10v10h-10zM1103 1831h10v10h-10zM1101 1877h10v10h-10zM1107 1822h10v10h-10zM1108 1838h10v10h-10zM1107 1894h10v10h-10zM1107 1883h10v10h-10zM1116 1824h10v10h-10zM1123 1887h10v10h-10zM1131 1879h10v10h-10zM1136 1823h10v10h-10zM1136 1900h10v10h-10zM1137 1888h10v10h-10zM1136 1881h10v10h-10zM1143 1829h10v10h-10zM1142 1843h10v10h-10zM1143 1847h10v10h-10zM1142 1903h10v10h-10zM1141 1887h10v10h-10zM1148 1831h10v10h-10zM1153 1840h10v10h-10zM1151 1886h10v10h-10zM1158 1840h10v10h-10zM1157 1897h10v10h-10zM1167 1813h10v10h-10zM1177 1831h10v10h-10zM1176 1896h10v10h-10zM1176 1876h10v10h-10zM1182 1831h10v10h-10zM1181 1892h10v10h-10zM1193 1829h10v10h-10zM1193 1847h10v10h-10zM1193 1873h10v10h-10zM1198 1841h10v10h-10zM1211 1837h10v10h-10zM1228 1846h10v10h-10zM1232 1840h10v10h-10zM1241 1847h10v10h-10zM1242 1887h10v10h-10zM1243 1882h10v10h-10zM1251 1907h10v10h-10zM1266 1907h10v10h-10zM1291 1882h10v10h-10zM1297 1891h10v10h-10zM1313 1876h10v10h-10zM1321 1887h10v10h-10zM1326 1880h10v10h-10zM1341 1873h10v10h-10zM1341 1881h10v10h-10zM1351 1857h10v10h-10zM1353 1859h10v10h-10zM1358 1836h10v10h-10zM1356 1842h10v10h-10zM1358 1871h10v10h-10zM1362 1861h10v10h-10zM1362 1844h10v10h-10zM1367 1853h10v10h-10zM1377 1832h10v10h-10zM1381 1867h10v10h-10zM1387 1826h10v10h-10zM1398 1866h10v10h-10zM1403 1835h10v10h-10zM1402 1837h10v10h-10zM1407 1833h10v10h-10zM1406 1870h10v10h-10zM1413 1833h10v10h-10zM1416 1834h10v10h-10zM1422 1854h10v10h-10zM1432 1840h10v10h-10zM1431 1845h10v10h-10zM1438 1856h10v10h-10zM1442 1847h10v10h-10zM1442 1869h10v10h-10zM1448 1869h10v10h-10zM1447 1897h10v10h-10zM1453 1847h10v10h-10zM1468 1845h10v10h-10zM1467 1861h10v10h-10zM1486 1855h10v10h-10zM1493 1848h10v10h-10zM1497 1866h10v10h-10zM1502 1839h10v10h-10zM1502 1865h10v10h-10zM1506 1871h10v10h-10zM1517 1891h10v10h-10zM1533 1877h10v10h-10zM1541 1876h10v10h-10zM1548 1876h10v10h-10zM1547 1900h10v10h-10zM1562 1870h10v10h-10zM1586 1883h10v10h-10zM1593 1881h10v10h-10zM1596 1893h10v10h-10zM1603 1888h10v10h-10zM1621 1867h10v10h-10zM1633 1855h10v10h-10zM1632 1857h10v10h-10zM1636 1853h10v10h-10zM1643 1865h10v10h-10zM1642 1853h10v10h-10zM1661 1834h10v10h-10zM1663 1857h10v10h-10zM1668 1840h10v10h-10zM1671 1866h10v10h-10zM1673 1860h10v10h-10zM1683 1828h10v10h-10zM1701 1827h10v10h-10zM1706 1857h10v10h-10zM1713 1858h10v10h-10zM1717 1846h10v10h-10zM1723 1870h10v10h-10zM1722 1849h10v10h-10zM1726 1834h10v10h-10zM1727 1839h10v10h-10zM1727 1864h10v10h-10zM1743 1836h10v10h-10zM1752 1831h10v10h-10zM1753 1857h10v10h-10zM1762 1833h10v10h-10zM1768 1830h10v10h-10zM1782 1847h10v10h-10zM1788 1844h10v10h-10zM1792 1849h10v10h-10zM1802 1831h10v10h-10zM1803 1833h10v10h-10zM1801 1847h10v10h-10zM1806 1834h10v10h-10zM1816 1833h10v10h-10zM1822 1839h10v10h-10zM1826 1834h10v10h-10zM1826 1861h10v10h-10zM1833 1885h10v10h-10zM1837 1888h10v10h-10zM1842 1848h10v10h-10zM1847 1851h10v10h-10zM1863 1871h10v10h-10zM1883 1872h10v10h-10zM1888 1893h10v10h-10zM1912 1892h10v10h-10zM1916 1890h10v10h-10zM1938 1880h10v10h-10zM1936 1882h10v10h-10z"/>
<path fill="#2a64a8" d="M277 1872h10v10h-10zM296 1880h10v10h-10zM307 1877h10v10h-10zM312 1888h10v10h-10zM338 1872h10v10h-10zM361 1875h10v10h-10zM368 1870h10v10h-10zM371 1889h10v10h-10zM392 1883h10v10h-10zM411 1893h10v10h-10zM422 1877h10v10h-10zM431 1879h10v10h-10zM442 1902h10v10h-10zM448 1893h10v10h-10zM452 1886h10v10h-10zM451 1899h10v10h-10zM457 1895h10v10h-10zM467 1896h10v10h-10zM486 1896h10v10h-10zM486 1889h10v10h-10zM496 1873h10v10h-10zM522 1893h10v10h-10zM533 1892h10v10h-10zM532 1889h10v10h-10zM538 1876h10v10h-10zM541 1898h10v10h-10zM548 1892h10v10h-10zM547 1882h10v10h-10zM556 1883h10v10h-10zM558 1897h10v10h-10zM567 1903h10v10h-10zM566 1897h10v10h-10zM581 1876h10v10h-10zM582 1907h10v10h-10zM588 1869h10v10h-10zM588 1911h10v10h-10zM591 1915h10v10h-10zM607 1876h10v10h-10zM606 1912h10v10h-10zM617 1883h10v10h-10zM616 1922h10v10h-10zM632 1886h10v10h-10zM638 1878h10v10h-10zM638 1888h10v10h-10zM642 1919h10v10h-10zM658 1883h10v10h-10zM658 1919h10v10h-10zM657 1896h10v10h-10zM663 1891h10v10h-10zM666 1920h10v10h-10zM677 1927h10v10h-10zM678 1920h10v10h-10zM688 1883h10v10h-10zM687 1916h10v10h-10zM697 1908h10v10h-10zM702 1930h10v10h-10zM706 1883h10v10h-10zM707 1897h10v10h-10zM716 1876h10v10h-10zM717 1894h10v10h-10zM732 1883h10v10h-10zM738 1877h10v10h-10zM742 1871h10v10h-10zM748 1871h10v10h-10zM747 1877h10v10h-10zM746 1885h10v10h-10zM752 1865h10v10h-10zM751 1881h10v10h-10zM756 1888h10v10h-10zM761 1936h10v10h-10zM761 1932h10v10h-10zM768 1883h10v10h-10zM776 1893h10v10h-10zM782 1875h10v10h-10zM782 1891h10v10h-10zM786 1897h10v10h-10zM788 1930h10v10h-10zM792 1939h10v10h-10zM792 1928h10v10h-10zM798 1887h10v10h-10zM796 1923h10v10h-10zM802 1935h10v10h-10zM808 1926h10v10h-10zM812 1869h10v10h-10zM811 1925h10v10h-10zM827 1859h10v10h-10zM827 1871h10v10h-10zM837 1850h10v10h-10zM836 1907h10v10h-10zM837 1895h10v10h-10zM843 1923h10v10h-10zM848 1868h10v10h-10zM853 1909h10v10h-10zM856 1918h10v10h-10zM863 1866h10v10h-10zM862 1926h10v10h-10zM873 1878h10v10h-10zM887 1922h10v10h-10zM893 1918h10v10h-10zM903 1891h10v10h-10zM901 1922h10v10h-10zM902 1913h10v10h-10zM917 1935h10v10h-10zM921 1877h10v10h-10zM922 1924h10v10h-10zM928 1886h10v10h-10zM926 1916h10v10h-10zM927 1915h10v10h-10zM943 1903h10v10h-10zM948 1860h10v10h-10zM952 1901h10v10h-10zM967 1855h10v10h-10zM966 1892h10v10h-10zM971 1847h10v10h-10zM976 1834h10v10h-10zM992 1834h10v10h-10zM991 1893h10v10h-10zM1002 1834h10v10h-10zM1007 1837h10v10h-10zM1007 1900h10v10h-10zM1007 1877h10v10h-10zM1011 1844h10v10h-10zM1017 1901h10v10h-10zM1017 1882h10v10h-10zM1021 1830h10v10h-10zM1021 1873h10v10h-10zM1027 1886h10v10h-10zM1043 1833h10v10h-10zM1041 1877h10v10h-10zM1047 1823h10v10h-10zM1046 1848h10v10h-10zM1048 1901h10v10h-10zM1047 1889h10v10h-10zM1051 1838h10v10h-10zM1057 1880h10v10h-10zM1068 1837h10v10h-10zM1071 1898h10v10h-10zM1077 1839h10v10h-10zM1076 1899h10v10h-10zM1081 1822h10v10h-10zM1081 1895h10v10h-10zM1087 1895h10v10h-10zM1088 1880h10v10h-10zM1093 1834h10v10h-10zM1093 1838h10v10h-10zM1107 1832h10v10h-10zM1106 1901h10v10h-10zM1112 1847h10v10h-10zM1112 1897h10v10h-10zM1116 1891h10v10h-10zM1117 1888h10v10h-10zM1117 1878h10v10h-10zM1127 1844h10v10h-10zM1138 1842h10v10h-10zM1138 1848h10v10h-10zM1146 1896h10v10h-10zM1153 1850h10v10h-10zM1156 1888h10v10h-10zM1157 1880h10v10h-10zM1162 1832h10v10h-10zM1166 1833h10v10h-10zM1167 1883h10v10h-10zM1172 1836h10v10h-10zM1172 1839h10v10h-10zM1178 1833h10v10h-10zM1177 1846h10v10h-10zM1181 1841h10v10h-10zM1181 1879h10v10h-10zM1188 1832h10v10h-10zM1191 1842h10v10h-10zM1193 1881h10v10h-10zM1197 1846h10v10h-10zM1197 1861h10v10h-10zM1203 1886h10v10h-10zM1211 1877h10v10h-10zM1217 1832h10v10h-10zM1217 1837h10v10h-10zM1217 1841h10v10h-10zM1217 1845h10v10h-10zM1222 1845h10v10h-10zM1222 1892h10v10h-10zM1221 1872h10v10h-10zM1227 1874h10v10h-10zM1237 1888h10v10h-10zM1236 1875h10v10h-10zM1237 1873h10v10h-10zM1248 1843h10v10h-10zM1252 1856h10v10h-10zM1263 1904h10v10h-10zM1272 1883h10v10h-10zM1276 1886h10v10h-10zM1306 1887h10v10h-10zM1333 1887h10v10h-10zM1356 1831h10v10h-10zM1363 1825h10v10h-10zM1367 1832h10v10h-10zM1368 1836h10v10h-10zM1366 1862h10v10h-10zM1371 1827h10v10h-10zM1371 1858h10v10h-10zM1381 1837h10v10h-10zM1382 1840h10v10h-10zM1383 1863h10v10h-10zM1397 1826h10v10h-10zM1398 1843h10v10h-10zM1408 1860h10v10h-10zM1418 1826h10v10h-10zM1423 1824h10v10h-10zM1428 1830h10v10h-10zM1436 1890h10v10h-10zM1456 1837h10v10h-10zM1456 1871h10v10h-10zM1462 1863h10v10h-10zM1472 1859h10v10h-10zM1481 1868h10v10h-10zM1487 1845h10v10h-10zM1503 1855h10v10h-10zM1527 1883h10v10h-10zM1531 1873h10v10h-10zM1537 1882h10v10h-10zM1546 1887h10v10h-10zM1571 1873h10v10h-10zM1592 1871h10v10h-10zM1592 1880h10v10h-10zM1596 1867h10v10h-10zM1598 1876h10v10h-10zM1597 1883h10v10h-10zM1601 1872h10v10h-10zM1617 1863h10v10h-10zM1617 1867h10v10h-10zM1618 1889h10v10h-10zM1618 1886h10v10h-10zM1623 1856h10v10h-10zM1621 1889h10v10h-10zM1628 1882h10v10h-10zM1647 1844h10v10h-10zM1657 1862h10v10h-10zM1663 1869h10v10h-10zM1662 1838h10v10h-10zM1666 1829h10v10h-10zM1683 1834h10v10h-10zM1703 1839h10v10h-10zM1708 1837h10v10h-10zM1707 1853h10v10h-10zM1731 1835h10v10h-10zM1736 1831h10v10h-10zM1736 1854h10v10h-10zM1741 1832h10v10h-10zM1741 1851h10v10h-10zM1758 1833h10v10h-10zM1756 1855h10v10h-10zM1761 1842h10v10h-10zM1767 1838h10v10h-10zM1772 1832h10v10h-10zM1778 1836h10v10h-10zM1781 1850h10v10h-10zM1806 1837h10v10h-10zM1807 1850h10v10h-10zM1812 1850h10v10h-10zM1812 1837h10v10h-10zM1821 1833h10v10h-10zM1828 1839h10v10h-10zM1831 1839h10v10h-10zM1838 1844h10v10h-10zM1842 1899h10v10h-10zM1843 1892h10v10h-10zM1848 1881h10v10h-10zM1857 1869h10v10h-10zM1868 1886h10v10h-10zM1878 1872h10v10h-10zM1883 1891h10v10h-10zM1932 1880h10v10h-10zM1937 1875h10v10h-10z"/>
<path fill="#0d6aa5" d="M276 1885h10v10h-10zM282 1889h10v10h-10zM286 1872h10v10h-10zM287 1878h10v10h-10zM313 1876h10v10h-10zM323 1876h10v10h-10zM328 1877h10v10h-10zM326 1882h10v10h-10zM336 1876h10v10h-10zM336 1883h10v10h-10zM347 1870h10v10h-10zM351 1872h10v10h-10zM352 1887h10v10h-10zM398 1883h10v10h-10zM403 1884h10v10h-10zM418 1894h10v10h-10zM431 1875h10v10h-10zM437 1880h10v10h-10zM438 1888h10v10h-10zM443 1890h10v10h-10zM446 1873h10v10h-10zM451 1896h10v10h-10zM468 1884h10v10h-10zM481 1884h10v10h-10zM488 1879h10v10h-10zM501 1873h10v10h-10zM502 1893h10v10h-10zM523 1880h10v10h-10zM536 1885h10v10h-10zM547 1902h10v10h-10zM563 1902h10v10h-10zM563 1892h10v10h-10zM573 1888h10v10h-10zM576 1878h10v10h-10zM592 1887h10v10h-10zM607 1923h10v10h-10zM623 1880h10v10h-10zM628 1876h10v10h-10zM626 1924h10v10h-10zM632 1912h10v10h-10zM638 1921h10v10h-10zM641 1882h10v10h-10zM643 1922h10v10h-10zM653 1880h10v10h-10zM651 1884h10v10h-10zM652 1919h10v10h-10zM658 1928h10v10h-10zM668 1890h10v10h-10zM667 1916h10v10h-10zM672 1931h10v10h-10zM672 1926h10v10h-10zM676 1887h10v10h-10zM682 1877h10v10h-10zM683 1895h10v10h-10zM683 1927h10v10h-10zM693 1884h10v10h-10zM702 1886h10v10h-10zM701 1935h10v10h-10zM708 1926h10v10h-10zM718 1881h10v10h-10zM723 1940h10v10h-10zM727 1866h10v10h-10zM728 1872h10v10h-10zM727 1874h10v10h-10zM728 1923h10v10h-10zM736 1881h10v10h-10zM741 1860h10v10h-10zM748 1922h10v10h-10zM753 1946h10v10h-10zM756 1925h10v10h-10zM763 1921h10v10h-10zM767 1869h10v10h-10zM771 1889h10v10h-10zM783 1941h10v10h-10zM782 1927h10v10h-10zM787 1876h10v10h-10zM787 1908h10v10h-10zM797 1891h10v10h-10zM801 1920h10v10h-10zM806 1935h10v10h-10zM813 1878h10v10h-10zM816 1904h10v10h-10zM822 1852h10v10h-10zM832 1902h10v10h-10zM837 1872h10v10h-10zM842 1939h10v10h-10zM847 1877h10v10h-10zM847 1929h10v10h-10zM847 1909h10v10h-10zM852 1875h10v10h-10zM852 1917h10v10h-10zM856 1877h10v10h-10zM856 1922h10v10h-10zM858 1912h10v10h-10zM863 1918h10v10h-10zM863 1913h10v10h-10zM862 1899h10v10h-10zM867 1917h10v10h-10zM867 1908h10v10h-10zM873 1916h10v10h-10zM878 1929h10v10h-10zM882 1922h10v10h-10zM891 1921h10v10h-10zM892 1915h10v10h-10zM897 1877h10v10h-10zM903 1888h10v10h-10zM906 1894h10v10h-10zM911 1885h10v10h-10zM913 1893h10v10h-10zM912 1928h10v10h-10zM917 1923h10v10h-10zM927 1891h10v10h-10zM933 1872h10v10h-10zM938 1899h10v10h-10zM951 1888h10v10h-10zM953 1882h10v10h-10zM958 1903h10v10h-10zM963 1858h10v10h-10zM963 1898h10v10h-10zM966 1838h10v10h-10zM967 1896h10v10h-10zM977 1894h10v10h-10zM981 1833h10v10h-10zM987 1827h10v10h-10zM997 1839h10v10h-10zM1003 1902h10v10h-10zM1006 1823h10v10h-10zM1013 1891h10v10h-10zM1012 1887h10v10h-10zM1016 1822h10v10h-10zM1017 1895h10v10h-10zM1021 1834h10v10h-10zM1023 1846h10v10h-10zM1028 1888h10v10h-10zM1033 1844h10v10h-10zM1048 1894h10v10h-10zM1051 1828h10v10h-10zM1056 1838h10v10h-10zM1057 1904h10v10h-10zM1056 1890h10v10h-10zM1066 1893h10v10h-10zM1073 1827h10v10h-10zM1078 1902h10v10h-10zM1091 1879h10v10h-10zM1102 1825h10v10h-10zM1101 1839h10v10h-10zM1102 1883h10v10h-10zM1107 1845h10v10h-10zM1118 1844h10v10h-10zM1117 1902h10v10h-10zM1116 1884h10v10h-10zM1123 1839h10v10h-10zM1121 1850h10v10h-10zM1126 1846h10v10h-10zM1128 1898h10v10h-10zM1127 1882h10v10h-10zM1137 1828h10v10h-10zM1138 1832h10v10h-10zM1142 1823h10v10h-10zM1141 1837h10v10h-10zM1146 1824h10v10h-10zM1147 1837h10v10h-10zM1152 1828h10v10h-10zM1152 1833h10v10h-10zM1151 1903h10v10h-10zM1158 1832h10v10h-10zM1156 1875h10v10h-10zM1173 1898h10v10h-10zM1172 1881h10v10h-10zM1176 1880h10v10h-10zM1183 1886h10v10h-10zM1181 1874h10v10h-10zM1186 1842h10v10h-10zM1186 1875h10v10h-10zM1202 1837h10v10h-10zM1206 1826h10v10h-10zM1206 1837h10v10h-10zM1212 1885h10v10h-10zM1218 1881h10v10h-10zM1217 1874h10v10h-10zM1226 1836h10v10h-10zM1226 1884h10v10h-10zM1233 1893h10v10h-10zM1236 1830h10v10h-10zM1238 1893h10v10h-10zM1242 1831h10v10h-10zM1243 1842h10v10h-10zM1263 1888h10v10h-10zM1267 1902h10v10h-10zM1276 1896h10v10h-10zM1277 1893h10v10h-10zM1281 1885h10v10h-10zM1317 1891h10v10h-10zM1353 1865h10v10h-10zM1358 1826h10v10h-10zM1361 1831h10v10h-10zM1361 1836h10v10h-10zM1373 1864h10v10h-10zM1373 1862h10v10h-10zM1378 1825h10v10h-10zM1376 1868h10v10h-10zM1378 1857h10v10h-10zM1382 1830h10v10h-10zM1392 1832h10v10h-10zM1393 1836h10v10h-10zM1398 1857h10v10h-10zM1407 1836h10v10h-10zM1413 1843h10v10h-10zM1411 1860h10v10h-10zM1417 1830h10v10h-10zM1417 1884h10v10h-10zM1428 1826h10v10h-10zM1428 1840h10v10h-10zM1431 1874h10v10h-10zM1446 1841h10v10h-10zM1448 1849h10v10h-10zM1453 1873h10v10h-10zM1462 1836h10v10h-10zM1473 1838h10v10h-10zM1473 1847h10v10h-10zM1478 1836h10v10h-10zM1481 1857h10v10h-10zM1493 1855h10v10h-10zM1498 1837h10v10h-10zM1496 1845h10v10h-10zM1497 1850h10v10h-10zM1507 1860h10v10h-10zM1511 1869h10v10h-10zM1517 1872h10v10h-10zM1516 1877h10v10h-10zM1517 1883h10v10h-10zM1526 1866h10v10h-10zM1532 1869h10v10h-10zM1537 1877h10v10h-10zM1547 1866h10v10h-10zM1547 1875h10v10h-10zM1566 1891h10v10h-10zM1566 1881h10v10h-10zM1581 1878h10v10h-10zM1582 1882h10v10h-10zM1588 1866h10v10h-10zM1591 1878h10v10h-10zM1597 1888h10v10h-10zM1602 1874h10v10h-10zM1608 1865h10v10h-10zM1606 1889h10v10h-10zM1613 1882h10v10h-10zM1623 1885h10v10h-10zM1621 1879h10v10h-10zM1628 1876h10v10h-10zM1647 1847h10v10h-10zM1653 1859h10v10h-10zM1656 1829h10v10h-10zM1671 1838h10v10h-10zM1673 1864h10v10h-10zM1682 1837h10v10h-10zM1681 1866h10v10h-10zM1688 1828h10v10h-10zM1688 1837h10v10h-10zM1693 1837h10v10h-10zM1691 1859h10v10h-10zM1701 1867h10v10h-10zM1718 1856h10v10h-10zM1722 1839h10v10h-10zM1723 1857h10v10h-10zM1727 1859h10v10h-10zM1733 1828h10v10h-10zM1731 1859h10v10h-10zM1738 1834h10v10h-10zM1747 1836h10v10h-10zM1747 1856h10v10h-10zM1752 1848h10v10h-10zM1776 1844h10v10h-10zM1781 1847h10v10h-10zM1793 1831h10v10h-10zM1807 1847h10v10h-10zM1811 1826h10v10h-10zM1818 1851h10v10h-10zM1833 1831h10v10h-10zM1832 1889h10v10h-10zM1836 1849h10v10h-10zM1862 1883h10v10h-10zM1866 1869h10v10h-10zM1872 1872h10v10h-10zM1877 1880h10v10h-10zM1888 1874h10v10h-10zM1887 1887h10v10h-10zM1896 1870h10v10h-10zM1896 1893h10v10h-10zM1902 1868h10v10h-10zM1912 1883h10v10h-10zM1916 1886h10v10h-10zM1932 1875h10v10h-10z"/>
<path fill="#2c5eb0" d="M281 1876h10v10h-10zM288 1887h10v10h-10zM291 1878h10v10h-10zM296 1888h10v10h-10zM331 1877h10v10h-10zM336 1887h10v10h-10zM351 1880h10v10h-10zM361 1872h10v10h-10zM361 1886h10v10h-10zM382 1875h10v10h-10zM413 1888h10v10h-10zM427 1880h10v10h-10zM431 1900h10v10h-10zM441 1882h10v10h-10zM448 1881h10v10h-10zM456 1874h10v10h-10zM457 1885h10v10h-10zM458 1898h10v10h-10zM462 1877h10v10h-10zM471 1884h10v10h-10zM477 1872h10v10h-10zM482 1878h10v10h-10zM501 1878h10v10h-10zM518 1874h10v10h-10zM521 1887h10v10h-10zM532 1897h10v10h-10zM543 1889h10v10h-10zM563 1889h10v10h-10zM566 1890h10v10h-10zM576 1897h10v10h-10zM588 1915h10v10h-10zM593 1910h10v10h-10zM602 1879h10v10h-10zM608 1886h10v10h-10zM607 1919h10v10h-10zM607 1907h10v10h-10zM611 1874h10v10h-10zM616 1925h10v10h-10zM643 1927h10v10h-10zM648 1882h10v10h-10zM657 1921h10v10h-10zM661 1928h10v10h-10zM672 1883h10v10h-10zM671 1920h10v10h-10zM681 1888h10v10h-10zM692 1917h10v10h-10zM706 1898h10v10h-10zM718 1892h10v10h-10zM717 1911h10v10h-10zM723 1873h10v10h-10zM723 1937h10v10h-10zM726 1936h10v10h-10zM732 1929h10v10h-10zM742 1865h10v10h-10zM742 1912h10v10h-10zM753 1936h10v10h-10zM756 1946h10v10h-10zM762 1868h10v10h-10zM762 1883h10v10h-10zM766 1940h10v10h-10zM766 1926h10v10h-10zM766 1922h10v10h-10zM771 1887h10v10h-10zM772 1929h10v10h-10zM776 1929h10v10h-10zM777 1897h10v10h-10zM782 1883h10v10h-10zM792 1884h10v10h-10zM796 1927h10v10h-10zM806 1931h10v10h-10zM818 1857h10v10h-10zM818 1921h10v10h-10zM826 1868h10v10h-10zM833 1913h10v10h-10zM837 1863h10v10h-10zM841 1859h10v10h-10zM843 1869h10v10h-10zM853 1858h10v10h-10zM851 1869h10v10h-10zM856 1907h10v10h-10zM863 1867h10v10h-10zM861 1881h10v10h-10zM866 1879h10v10h-10zM867 1890h10v10h-10zM887 1878h10v10h-10zM888 1930h10v10h-10zM893 1885h10v10h-10zM898 1882h10v10h-10zM911 1923h10v10h-10zM916 1913h10v10h-10zM923 1919h10v10h-10zM922 1899h10v10h-10zM936 1864h10v10h-10zM936 1872h10v10h-10zM943 1858h10v10h-10zM942 1875h10v10h-10zM947 1889h10v10h-10zM951 1843h10v10h-10zM963 1847h10v10h-10zM966 1846h10v10h-10zM973 1897h10v10h-10zM977 1887h10v10h-10zM981 1901h10v10h-10zM982 1856h10v10h-10zM987 1831h10v10h-10zM997 1844h10v10h-10zM997 1850h10v10h-10zM997 1900h10v10h-10zM996 1879h10v10h-10zM1002 1828h10v10h-10zM1002 1886h10v10h-10zM1003 1883h10v10h-10zM1007 1849h10v10h-10zM1008 1886h10v10h-10zM1011 1894h10v10h-10zM1016 1846h10v10h-10zM1021 1898h10v10h-10zM1023 1880h10v10h-10zM1028 1878h10v10h-10zM1031 1838h10v10h-10zM1033 1872h10v10h-10zM1047 1843h10v10h-10zM1053 1892h10v10h-10zM1057 1823h10v10h-10zM1056 1848h10v10h-10zM1056 1899h10v10h-10zM1062 1845h10v10h-10zM1063 1900h10v10h-10zM1067 1824h10v10h-10zM1073 1842h10v10h-10zM1071 1905h10v10h-10zM1091 1844h10v10h-10zM1111 1837h10v10h-10zM1111 1890h10v10h-10zM1111 1880h10v10h-10zM1123 1834h10v10h-10zM1121 1893h10v10h-10zM1128 1832h10v10h-10zM1127 1904h10v10h-10zM1127 1877h10v10h-10zM1142 1882h10v10h-10zM1151 1878h10v10h-10zM1158 1882h10v10h-10zM1162 1879h10v10h-10zM1167 1824h10v10h-10zM1168 1890h10v10h-10zM1173 1830h10v10h-10zM1171 1877h10v10h-10zM1187 1846h10v10h-10zM1193 1836h10v10h-10zM1193 1890h10v10h-10zM1202 1856h10v10h-10zM1207 1855h10v10h-10zM1217 1877h10v10h-10zM1221 1882h10v10h-10zM1226 1840h10v10h-10zM1231 1880h10v10h-10zM1236 1835h10v10h-10zM1237 1839h10v10h-10zM1238 1846h10v10h-10zM1247 1847h10v10h-10zM1252 1873h10v10h-10zM1253 1896h10v10h-10zM1252 1896h10v10h-10zM1256 1884h10v10h-10zM1263 1898h10v10h-10zM1268 1897h10v10h-10zM1273 1906h10v10h-10zM1293 1894h10v10h-10zM1307 1893h10v10h-10zM1316 1879h10v10h-10zM1321 1893h10v10h-10zM1328 1888h10v10h-10zM1343 1894h10v10h-10zM1341 1885h10v10h-10zM1348 1879h10v10h-10zM1352 1882h10v10h-10zM1363 1840h10v10h-10zM1367 1840h10v10h-10zM1367 1866h10v10h-10zM1376 1836h10v10h-10zM1382 1828h10v10h-10zM1386 1838h10v10h-10zM1386 1841h10v10h-10zM1403 1825h10v10h-10zM1407 1852h10v10h-10zM1422 1845h10v10h-10zM1426 1872h10v10h-10zM1427 1853h10v10h-10zM1436 1836h10v10h-10zM1437 1865h10v10h-10zM1441 1850h10v10h-10zM1442 1882h10v10h-10zM1442 1875h10v10h-10zM1452 1838h10v10h-10zM1453 1881h10v10h-10zM1456 1844h10v10h-10zM1461 1840h10v10h-10zM1462 1869h10v10h-10zM1463 1859h10v10h-10zM1477 1861h10v10h-10zM1482 1845h10v10h-10zM1488 1841h10v10h-10zM1491 1860h10v10h-10zM1498 1854h10v10h-10zM1541 1870h10v10h-10zM1548 1893h10v10h-10zM1557 1875h10v10h-10zM1556 1881h10v10h-10zM1573 1887h10v10h-10zM1578 1868h10v10h-10zM1583 1883h10v10h-10zM1607 1877h10v10h-10zM1611 1876h10v10h-10zM1616 1870h10v10h-10zM1638 1875h10v10h-10zM1647 1834h10v10h-10zM1652 1836h10v10h-10zM1651 1864h10v10h-10zM1652 1881h10v10h-10zM1658 1868h10v10h-10zM1672 1827h10v10h-10zM1676 1859h10v10h-10zM1681 1859h10v10h-10zM1701 1857h10v10h-10zM1707 1867h10v10h-10zM1712 1829h10v10h-10zM1737 1861h10v10h-10zM1741 1856h10v10h-10zM1748 1830h10v10h-10zM1756 1846h10v10h-10zM1766 1857h10v10h-10zM1766 1847h10v10h-10zM1773 1847h10v10h-10zM1787 1857h10v10h-10zM1796 1833h10v10h-10zM1802 1837h10v10h-10zM1802 1836h10v10h-10zM1812 1839h10v10h-10zM1811 1845h10v10h-10zM1816 1847h10v10h-10zM1821 1862h10v10h-10zM1821 1854h10v10h-10zM1823 1849h10v10h-10zM1827 1831h10v10h-10zM1831 1847h10v10h-10zM1833 1897h10v10h-10zM1836 1896h10v10h-10zM1842 1851h10v10h-10zM1843 1887h10v10h-10zM1851 1854h10v10h-10zM1851 1864h10v10h-10zM1853 1875h10v10h-10zM1863 1865h10v10h-10zM1908 1888h10v10h-10zM1922 1891h10v10h-10zM1928 1888h10v10h-10z"/>
<path fill="#c8183c" d="M296 1908h11v11h-11zM296 1916h11v11h-11zM554 1500h11v11h-11zM588 1670h11v11h-11zM556 1824h11v11h-11zM642 1940h11v11h-11zM682 1944h11v11h-11zM674 1846h11v11h-11zM866 1846h11v11h-11zM928 1966h11v11h-11zM936 1782h11v11h-11zM1006 1746h11v11h-11zM1186 1810h11v11h-11zM1676 1816h11v11h-11z"/>
<path fill="#ee1020" d="M522 1900h10v10h-10zM522 1908h10v10h-10zM522 1916h10v10h-10zM601 1805h10v10h-10zM608 1785h10v10h-10zM611 1798h10v10h-10zM612 1815h10v10h-10zM839 1922h10v10h-10zM838 1938h10v10h-10zM842 1975h10v10h-10zM849 1935h10v10h-10zM850 1951h10v10h-10zM849 1962h10v10h-10zM848 1974h10v10h-10zM900 1918h10v10h-10zM904 1898h10v10h-10zM906 1912h10v10h-10zM1105 1805h10v10h-10zM1111 1831h10v10h-10zM1113 1844h10v10h-10zM1118 1835h10v10h-10zM1144 1811h10v10h-10zM1160 1811h10v10h-10zM1174 1880h10v10h-10zM1180 1895h10v10h-10zM1185 1881h10v10h-10zM1365 1812h10v10h-10zM1366 1819h10v10h-10zM1390 1807h10v10h-10zM1409 1818h10v10h-10zM1414 1806h10v10h-10zM1421 1807h10v10h-10zM1419 1817h10v10h-10zM1408 1815h10v10h-10zM1409 1819h10v10h-10zM1418 1792h10v10h-10zM1425 1791h10v10h-10zM1475 1821h10v10h-10zM1473 1828h10v10h-10zM1480 1819h10v10h-10zM1481 1822h10v10h-10zM1492 1835h10v10h-10zM1503 1829h10v10h-10zM1827 1835h10v10h-10zM1825 1847h10v10h-10zM1830 1811h10v10h-10zM1833 1848h10v10h-10zM1839 1828h10v10h-10zM1838 1834h10v10h-10zM1840 1858h10v10h-10zM1866 1842h10v10h-10z"/>
<path fill="#2a6c92" d="M554 1786h11v11h-11zM554 1846h11v11h-11zM556 1918h11v11h-11zM674 1856h11v11h-11zM640 1854h11v11h-11z"/>
<path fill="#30d040" d="M607 1759h10v10h-10zM607 1767h10v10h-10zM607 1775h10v10h-10zM790 1949h10v10h-10zM790 1966h10v10h-10zM795 1941h10v10h-10zM805 1965h10v10h-10zM809 1943h10v10h-10zM810 1957h10v10h-10zM1455 1866h10v10h-10z"/>
<path fill="#e00018" d="M600 1779h10v10h-10zM591 1917h10v10h-10zM740 1956h10v10h-10zM740 1964h10v10h-10zM740 1972h10v10h-10zM841 1948h10v10h-10zM849 1958h10v10h-10zM913 1904h10v10h-10zM916 1899h10v10h-10zM973 1808h10v10h-10zM982 1819h10v10h-10zM989 1807h10v10h-10zM989 1813h10v10h-10zM1112 1825h10v10h-10zM1150 1812h10v10h-10zM1160 1817h10v10h-10zM1156 1880h10v10h-10zM1168 1880h10v10h-10zM1175 1886h10v10h-10zM1373 1818h10v10h-10zM1376 1811h10v10h-10zM1376 1816h10v10h-10zM1390 1811h10v10h-10zM1414 1797h10v10h-10zM1415 1815h10v10h-10zM1423 1813h10v10h-10zM1472 1835h10v10h-10zM1506 1823h10v10h-10zM1825 1865h10v10h-10zM1831 1866h10v10h-10zM1846 1813h10v10h-10zM1844 1833h10v10h-10zM1845 1842h10v10h-10zM1878 1860h10v10h-10z"/>
<path fill="#f41830" d="M600 1785h10v10h-10zM605 1797h10v10h-10zM606 1805h10v10h-10zM839 1950h10v10h-10zM843 1971h10v10h-10zM850 1926h10v10h-10zM912 1898h10v10h-10zM917 1912h10v10h-10zM993 1804h10v10h-10zM1050 1806h10v10h-10zM1051 1810h10v10h-10zM1108 1819h10v10h-10zM1107 1831h10v10h-10zM1113 1799h10v10h-10zM1119 1807h10v10h-10zM1118 1816h10v10h-10zM1155 1818h10v10h-10zM1148 1886h10v10h-10zM1154 1888h10v10h-10zM1370 1812h10v10h-10zM1395 1812h10v10h-10zM1401 1820h10v10h-10zM1408 1814h10v10h-10zM1421 1813h10v10h-10zM1426 1816h10v10h-10zM1413 1808h10v10h-10zM1419 1796h10v10h-10zM1419 1821h10v10h-10zM1491 1812h10v10h-10zM1491 1824h10v10h-10zM1497 1823h10v10h-10zM1504 1809h10v10h-10zM1828 1817h10v10h-10zM1828 1852h10v10h-10zM1834 1821h10v10h-10zM1833 1839h10v10h-10zM1837 1842h10v10h-10zM1837 1864h10v10h-10zM1843 1865h10v10h-10zM1888 1811h10v10h-10zM1898 1813h10v10h-10zM1897 1819h10v10h-10z"/>
<path fill="#d01428" d="M602 1790h10v10h-10zM599 1799h10v10h-10zM606 1816h10v10h-10zM711 1953h10v10h-10zM711 1961h10v10h-10zM711 1969h10v10h-10zM711 1977h10v10h-10zM836 1929h10v10h-10zM836 1977h10v10h-10zM842 1922h10v10h-10zM842 1930h10v10h-10zM845 1964h10v10h-10zM849 1947h10v10h-10zM898 1930h10v10h-10zM903 1930h10v10h-10zM910 1931h10v10h-10zM919 1930h10v10h-10zM981 1811h10v10h-10zM994 1813h10v10h-10zM1055 1806h10v10h-10zM1108 1835h10v10h-10zM1118 1810h10v10h-10zM1120 1828h10v10h-10zM1142 1816h10v10h-10zM1236 1826h10v10h-10zM1142 1894h10v10h-10zM1150 1894h10v10h-10zM1156 1894h10v10h-10zM1186 1892h10v10h-10zM1396 1807h10v10h-10zM1394 1818h10v10h-10zM1426 1808h10v10h-10zM1425 1796h10v10h-10zM1424 1809h10v10h-10zM1475 1817h10v10h-10zM1480 1810h10v10h-10zM1485 1829h10v10h-10zM1498 1830h10v10h-10zM1499 1835h10v10h-10zM1503 1816h10v10h-10zM1826 1858h10v10h-10zM1833 1829h10v10h-10zM1837 1818h10v10h-10zM1843 1822h10v10h-10zM1844 1860h10v10h-10zM1870 1841h10v10h-10zM1872 1861h10v10h-10zM1877 1843h10v10h-10zM1885 1819h10v10h-10zM1892 1817h10v10h-10zM1903 1818h10v10h-10z"/>
<path fill="#ff0000" d="M599 1810h10v10h-10zM607 1792h10v10h-10zM610 1780h10v10h-10zM614 1808h10v10h-10zM839 1947h10v10h-10zM837 1957h10v10h-10zM837 1966h10v10h-10zM844 1959h10v10h-10zM848 1939h10v10h-10zM847 1972h10v10h-10zM901 1900h10v10h-10zM913 1912h10v10h-10zM1043 1808h10v10h-10zM1106 1811h10v10h-10zM1120 1843h10v10h-10zM1073 1916h10v10h-10zM1156 1811h10v10h-10zM1161 1889h10v10h-10zM1173 1893h10v10h-10zM1186 1888h10v10h-10zM1363 1805h10v10h-10zM1378 1805h10v10h-10zM1382 1813h10v10h-10zM1399 1806h10v10h-10zM1406 1809h10v10h-10zM1420 1804h10v10h-10zM1420 1808h10v10h-10zM1480 1836h10v10h-10zM1484 1824h10v10h-10zM1491 1816h10v10h-10zM1827 1824h10v10h-10zM1832 1816h10v10h-10zM1830 1835h10v10h-10zM1832 1852h10v10h-10zM1836 1809h10v10h-10zM1836 1848h10v10h-10zM1845 1818h10v10h-10zM1865 1861h10v10h-10zM1872 1847h10v10h-10zM1876 1852h10v10h-10z"/>
<path fill="#0072bd" d="M595 1817h10v10h-10zM600 1818h10v10h-10zM606 1824h10v10h-10z"/>
<path fill="#0b6cc0" d="M595 1829h10v10h-10zM595 1861h10v10h-10zM614 1832h10v10h-10zM620 1822h10v10h-10zM623 1824h10v10h-10zM625 1834h10v10h-10z"/>
<path fill="#3a5f92" d="M597 1836h10v10h-10zM600 1848h10v10h-10zM609 1862h10v10h-10zM625 1861h10v10h-10z"/>
<path fill="#14749a" d="M594 1854h10v10h-10zM600 1859h10v10h-10zM613 1862h10v10h-10zM618 1855h10v10h-10zM617 1859h10v10h-10z"/>
<path fill="#2c5eb0" d="M600 1826h10v10h-10zM609 1848h10v10h-10zM619 1820h10v10h-10z"/>
<path fill="#0d6aa5" d="M601 1828h10v10h-10zM611 1823h10v10h-10zM620 1844h10v10h-10zM624 1846h10v10h-10z"/>
<path fill="#0a74c4" d="M606 1819h10v10h-10zM625 1818h10v10h-10z"/>
<path fill="#2a64a8" d="M614 1835h10v10h-10zM611 1855h10v10h-10z"/>
<path fill="#1a6fb0" d="M625 1829h10v10h-10z"/>
<path fill="#00ff00" d="M671 1934h10v10h-10zM795 1949h10v10h-10zM807 1948h10v10h-10zM1381 1782h10v10h-10zM1381 1790h10v10h-10zM1381 1798h10v10h-10zM1451 1867h10v10h-10zM1449 1874h10v10h-10z"/>
<path fill="#20e030" d="M669 1940h10v10h-10zM791 1962h10v10h-10zM797 1954h10v10h-10zM803 1960h10v10h-10zM1412 1787h10v10h-10zM1412 1795h10v10h-10zM1452 1880h10v10h-10zM1457 1880h10v10h-10z"/>
<path fill="#10f020" d="M678 1933h10v10h-10zM790 1955h10v10h-10zM797 1966h10v10h-10zM805 1943h10v10h-10zM807 1961h10v10h-10zM808 1969h10v10h-10zM1455 1871h10v10h-10z"/>
<path fill="#38c850" d="M936 1828h11v11h-11zM1006 1794h11v11h-11z"/>
</g>
<g>
<rect x="267.5" y="207.5" width="1847.0" height="477.0" fill="none" stroke="#262626" stroke-width="5"/>
<line x1="469" y1="207.5" x2="469" y2="220.5" stroke="#262626" stroke-width="5"/>
<line x1="469" y1="684.5" x2="469" y2="671.5" stroke="#262626" stroke-width="5"/>
<line x1="676" y1="207.5" x2="676" y2="220.5" stroke="#262626" stroke-width="5"/>
<line x1="676" y1="684.5" x2="676" y2="671.5" stroke="#262626" stroke-width="5"/>
<line x1="883" y1="207.5" x2="883" y2="220.5" stroke="#262626" stroke-width="5"/>
<line x1="883" y1="684.5" x2="883" y2="671.5" stroke="#262626" stroke-width="5"/>
<line x1="1090" y1="207.5" x2="1090" y2="220.5" stroke="#262626" stroke-width="5"/>
<line x1="1090" y1="684.5" x2="1090" y2="671.5" stroke="#262626" stroke-width="5"/>
<line x1="1292" y1="207.5" x2="1292" y2="220.5" stroke="#262626" stroke-width="5"/>
<line x1="1292" y1="684.5" x2="1292" y2="671.5" stroke="#262626" stroke-width="5"/>
<line x1="1498.5" y1="207.5" x2="1498.5" y2="220.5" stroke="#262626" stroke-width="5"/>
<line x1="1498.5" y1="684.5" x2="1498.5" y2="671.5" stroke="#262626" stroke-width="5"/>
<line x1="1705.5" y1="207.5" x2="1705.5" y2="220.5" stroke="#262626" stroke-width="5"/>
<line x1="1705.5" y1="684.5" x2="1705.5" y2="671.5" stroke="#262626" stroke-width="5"/>
<line x1="1912" y1="207.5" x2="1912" y2="220.5" stroke="#262626" stroke-width="5"/>
<line x1="1912" y1="684.5" x2="1912" y2="671.5" stroke="#262626" stroke-width="5"/>
<rect x="267.5" y="852.5" width="1847.0" height="477.0" fill="none" stroke="#262626" stroke-width="5"/>
<line x1="469" y1="852.5" x2="469" y2="865.5" stroke="#262626" stroke-width="5"/>
<line x1="469" y1="1329.5" x2="469" y2="1316.5" stroke="#262626" stroke-width="5"/>
<line x1="676" y1="852.5" x2="676" y2="865.5" stroke="#262626" stroke-width="5"/>
<line x1="676" y1="1329.5" x2="676" y2="1316.5" stroke="#262626" stroke-width="5"/>
<line x1="883" y1="852.5" x2="883" y2="865.5" stroke="#262626" stroke-width="5"/>
<line x1="883" y1="1329.5" x2="883" y2="1316.5" stroke="#262626" stroke-width="5"/>
<line x1="1090" y1="852.5" x2="1090" y2="865.5" stroke="#262626" stroke-width="5"/>
<line x1="1090" y1="1329.5" x2="1090" y2="1316.5" stroke="#262626" stroke-width="5"/>
<line x1="1292" y1="852.5" x2="1292" y2="865.5" stroke="#262626" stroke-width="5"/>
<line x1="1292" y1="1329.5" x2="1292" y2="1316.5" stroke="#262626" stroke-width="5"/>
<line x1="1498.5" y1="852.5" x2="1498.5" y2="865.5" stroke="#262626" stroke-width="5"/>
<line x1="1498.5" y1="1329.5" x2="1498.5" y2="1316.5" stroke="#262626" stroke-width="5"/>
<line x1="1705.5" y1="852.5" x2="1705.5" y2="865.5" stroke="#262626" stroke-width="5"/>
<line x1="1705.5" y1="1329.5" x2="1705.5" y2="1316.5" stroke="#262626" stroke-width="5"/>
<line x1="1912" y1="852.5" x2="1912" y2="865.5" stroke="#262626" stroke-width="5"/>
<line x1="1912" y1="1329.5" x2="1912" y2="1316.5" stroke="#262626" stroke-width="5"/>
<rect x="267.5" y="1507.5" width="1847.0" height="477.0" fill="none" stroke="#262626" stroke-width="5"/>
<line x1="469" y1="1507.5" x2="469" y2="1520.5" stroke="#262626" stroke-width="5"/>
<line x1="469" y1="1984.5" x2="469" y2="1971.5" stroke="#262626" stroke-width="5"/>
<line x1="676" y1="1507.5" x2="676" y2="1520.5" stroke="#262626" stroke-width="5"/>
<line x1="676" y1="1984.5" x2="676" y2="1971.5" stroke="#262626" stroke-width="5"/>
<line x1="883" y1="1507.5" x2="883" y2="1520.5" stroke="#262626" stroke-width="5"/>
<line x1="883" y1="1984.5" x2="883" y2="1971.5" stroke="#262626" stroke-width="5"/>
<line x1="1090" y1="1507.5" x2="1090" y2="1520.5" stroke="#262626" stroke-width="5"/>
<line x1="1090" y1="1984.5" x2="1090" y2="1971.5" stroke="#262626" stroke-width="5"/>
<line x1="1292" y1="1507.5" x2="1292" y2="1520.5" stroke="#262626" stroke-width="5"/>
<line x1="1292" y1="1984.5" x2="1292" y2="1971.5" stroke="#262626" stroke-width="5"/>
<line x1="1498.5" y1="1507.5" x2="1498.5" y2="1520.5" stroke="#262626" stroke-width="5"/>
<line x1="1498.5" y1="1984.5" x2="1498.5" y2="1971.5" stroke="#262626" stroke-width="5"/>
<line x1="1705.5" y1="1507.5" x2="1705.5" y2="1520.5" stroke="#262626" stroke-width="5"/>
<line x1="1705.5" y1="1984.5" x2="1705.5" y2="1971.5" stroke="#262626" stroke-width="5"/>
<line x1="1912" y1="1507.5" x2="1912" y2="1520.5" stroke="#262626" stroke-width="5"/>
<line x1="1912" y1="1984.5" x2="1912" y2="1971.5" stroke="#262626" stroke-width="5"/>
<line x1="267.5" y1="359.5" x2="280.5" y2="359.5" stroke="#262626" stroke-width="5"/>
<line x1="2114.5" y1="359.5" x2="2101.5" y2="359.5" stroke="#262626" stroke-width="5"/>
<line x1="267.5" y1="522" x2="280.5" y2="522" stroke="#262626" stroke-width="5"/>
<line x1="2114.5" y1="522" x2="2101.5" y2="522" stroke="#262626" stroke-width="5"/>
<line x1="267.5" y1="1050.4" x2="280.5" y2="1050.4" stroke="#262626" stroke-width="5"/>
<line x1="2114.5" y1="1050.4" x2="2101.5" y2="1050.4" stroke="#262626" stroke-width="5"/>
<line x1="267.5" y1="1253.5" x2="280.5" y2="1253.5" stroke="#262626" stroke-width="5"/>
<line x1="2114.5" y1="1253.5" x2="2101.5" y2="1253.5" stroke="#262626" stroke-width="5"/>
<line x1="267.5" y1="1573.6" x2="280.5" y2="1573.6" stroke="#262626" stroke-width="5"/>
<line x1="2114.5" y1="1573.6" x2="2101.5" y2="1573.6" stroke="#262626" stroke-width="5"/>
<line x1="267.5" y1="1736" x2="280.5" y2="1736" stroke="#262626" stroke-width="5"/>
<line x1="2114.5" y1="1736" x2="2101.5" y2="1736" stroke="#262626" stroke-width="5"/>
<line x1="267.5" y1="1899.3" x2="280.5" y2="1899.3" stroke="#262626" stroke-width="5"/>
<line x1="2114.5" y1="1899.3" x2="2101.5" y2="1899.3" stroke="#262626" stroke-width="5"/>
</g>
<g>
<text x="263" y="784.1" text-anchor="middle" font-family="Liberation Sans, Arial, Helvetica, sans-serif" stroke="#fff" stroke-width="0.8" font-size="65" fill="#262626" textLength="36.2" lengthAdjust="spacingAndGlyphs">0</text>
<text x="469.5" y="784.1" text-anchor="middle" font-family="Liberation Sans, Arial, Helvetica, sans-serif" stroke="#fff" stroke-width="0.8" font-size="65" fill="#262626" textLength="111.7" lengthAdjust="spacingAndGlyphs">200</text>
<text x="676" y="784.1" text-anchor="middle" font-family="Liberation Sans, Arial, Helvetica, sans-serif" stroke="#fff" stroke-width="0.8" font-size="65" fill="#262626" textLength="111.7" lengthAdjust="spacingAndGlyphs">400</text>
<text x="878" y="784.1" text-anchor="middle" font-family="Liberation Sans, Arial, Helvetica, sans-serif" stroke="#fff" stroke-width="0.8" font-size="65" fill="#262626" textLength="111.7" lengthAdjust="spacingAndGlyphs">600</text>
<text x="1084.3" y="784.1" text-anchor="middle" font-family="Liberation Sans, Arial, Helvetica, sans-serif" stroke="#fff" stroke-width="0.8" font-size="65" fill="#262626" textLength="111.7" lengthAdjust="spacingAndGlyphs">800</text>
<text x="1293.8" y="784.1" text-anchor="middle" font-family="Liberation Sans, Arial, Helvetica, sans-serif" stroke="#fff" stroke-width="0.8" font-size="65" fill="#262626" textLength="148.9" lengthAdjust="spacingAndGlyphs">1000</text>
<text x="1500.9" y="784.1" text-anchor="middle" font-family="Liberation Sans, Arial, Helvetica, sans-serif" stroke="#fff" stroke-width="0.8" font-size="65" fill="#262626" textLength="148.9" lengthAdjust="spacingAndGlyphs">1200</text>
<text x="1701.7" y="784.1" text-anchor="middle" font-family="Liberation Sans, Arial, Helvetica, sans-serif" stroke="#fff" stroke-width="0.8" font-size="65" fill="#262626" textLength="148.9" lengthAdjust="spacingAndGlyphs">1400</text>
<text x="1908.9" y="784.1" text-anchor="middle" font-family="Liberation Sans, Arial, Helvetica, sans-serif" stroke="#fff" stroke-width="0.8" font-size="65" fill="#262626" textLength="148.9" lengthAdjust="spacingAndGlyphs">1600</text>
<text x="2114.4" y="784.1" text-anchor="middle" font-family="Liberation Sans, Arial, Helvetica, sans-serif" stroke="#fff" stroke-width="0.8" font-size="65" fill="#262626" textLength="148.9" lengthAdjust="spacingAndGlyphs">1800</text>
<text x="263" y="1429.2" text-anchor="middle" font-family="Liberation Sans, Arial, Helvetica, sans-serif" stroke="#fff" stroke-width="0.8" font-size="65" fill="#262626" textLength="36.2" lengthAdjust="spacingAndGlyphs">0</text>
<text x="469.5" y="1429.2" text-anchor="middle" font-family="Liberation Sans, Arial, Helvetica, sans-serif" stroke="#fff" stroke-width="0.8" font-size="65" fill="#262626" textLength="111.7" lengthAdjust="spacingAndGlyphs">200</text>
<text x="676" y="1429.2" text-anchor="middle" font-family="Liberation Sans, Arial, Helvetica, sans-serif" stroke="#fff" stroke-width="0.8" font-size="65" fill="#262626" textLength="111.7" lengthAdjust="spacingAndGlyphs">400</text>
<text x="878" y="1429.2" text-anchor="middle" font-family="Liberation Sans, Arial, Helvetica, sans-serif" stroke="#fff" stroke-width="0.8" font-size="65" fill="#262626" textLength="111.7" lengthAdjust="spacingAndGlyphs">600</text>
<text x="1084.3" y="1429.2" text-anchor="middle" font-family="Liberation Sans, Arial, Helvetica, sans-serif" stroke="#fff" stroke-width="0.8" font-size="65" fill="#262626" textLength="111.7" lengthAdjust="spacingAndGlyphs">800</text>
<text x="1293.8" y="1429.2" text-anchor="middle" font-family="Liberation Sans, Arial, Helvetica, sans-serif" stroke="#fff" stroke-width="0.8" font-size="65" fill="#262626" textLength="148.9" lengthAdjust="spacingAndGlyphs">1000</text>
<text x="1500.9" y="1429.2" text-anchor="middle" font-family="Liberation Sans, Arial, Helvetica, sans-serif" stroke="#fff" stroke-width="0.8" font-size="65" fill="#262626" textLength="148.9" lengthAdjust="spacingAndGlyphs">1200</text>
<text x="1701.7" y="1429.2" text-anchor="middle" font-family="Liberation Sans, Arial, Helvetica, sans-serif" stroke="#fff" stroke-width="0.8" font-size="65" fill="#262626" textLength="148.9" lengthAdjust="spacingAndGlyphs">1400</text>
<text x="1908.9" y="1429.2" text-anchor="middle" font-family="Liberation Sans, Arial, Helvetica, sans-serif" stroke="#fff" stroke-width="0.8" font-size="65" fill="#262626" textLength="148.9" lengthAdjust="spacingAndGlyphs">1600</text>
<text x="2114.4" y="1429.2" text-anchor="middle" font-family="Liberation Sans, Arial, Helvetica, sans-serif" stroke="#fff" stroke-width="0.8" font-size="65" fill="#262626" textLength="148.9" lengthAdjust="spacingAndGlyphs">1800</text>
<text x="263" y="2084.2" text-anchor="middle" font-family="Liberation Sans, Arial, Helvetica, sans-serif" stroke="#fff" stroke-width="0.8" font-size="65" fill="#262626" textLength="36.2" lengthAdjust="spacingAndGlyphs">0</text>
<text x="469.5" y="2084.2" text-anchor="middle" font-family="Liberation Sans, Arial, Helvetica, sans-serif" stroke="#fff" stroke-width="0.8" font-size="65" fill="#262626" textLength="111.7" lengthAdjust="spacingAndGlyphs">200</text>
<text x="676" y="2084.2" text-anchor="middle" font-family="Liberation Sans, Arial, Helvetica, sans-serif" stroke="#fff" stroke-width="0.8" font-size="65" fill="#262626" textLength="111.7" lengthAdjust="spacingAndGlyphs">400</text>
<text x="878" y="2084.2" text-anchor="middle" font-family="Liberation Sans, Arial, Helvetica, sans-serif" stroke="#fff" stroke-width="0.8" font-size="65" fill="#262626" textLength="111.7" lengthAdjust="spacingAndGlyphs">600</text>
<text x="1084.3" y="2084.2" text-anchor="middle" font-family="Liberation Sans, Arial, Helvetica, sans-serif" stroke="#fff" stroke-width="0.8" font-size="65" fill="#262626" textLength="111.7" lengthAdjust="spacingAndGlyphs">800</text>
<text x="1293.8" y="2084.2" text-anchor="middle" font-family="Liberation Sans, Arial, Helvetica, sans-serif" stroke="#fff" stroke-width="0.8" font-size="65" fill="#262626" textLength="148.9" lengthAdjust="spacingAndGlyphs">1000</text>
<text x="1500.9" y="2084.2" text-anchor="middle" font-family="Liberation Sans, Arial, Helvetica, sans-serif" stroke="#fff" stroke-width="0.8" font-size="65" fill="#262626" textLength="148.9" lengthAdjust="spacingAndGlyphs">1200</text>
<text x="1701.7" y="2084.2" text-anchor="middle" font-family="Liberation Sans, Arial, Helvetica, sans-serif" stroke="#fff" stroke-width="0.8" font-size="65" fill="#262626" textLength="148.9" lengthAdjust="spacingAndGlyphs">1400</text>
<text x="1908.9" y="2084.2" text-anchor="middle" font-family="Liberation Sans, Arial, Helvetica, sans-serif" stroke="#fff" stroke-width="0.8" font-size="65" fill="#262626" textLength="148.9" lengthAdjust="spacingAndGlyphs">1600</text>
<text x="2114.4" y="2084.2" text-anchor="middle" font-family="Liberation Sans, Arial, Helvetica, sans-serif" stroke="#fff" stroke-width="0.8" font-size="65" fill="#262626" textLength="148.9" lengthAdjust="spacingAndGlyphs">1800</text>
<text x="237.4" y="387.4" text-anchor="end" font-family="Liberation Sans, Arial, Helvetica, sans-serif" stroke="#fff" stroke-width="0.8" font-size="65" fill="#262626" textLength="36.2" lengthAdjust="spacingAndGlyphs">0</text>
<text x="237.4" y="549.2" text-anchor="end" font-family="Liberation Sans, Arial, Helvetica, sans-serif" stroke="#fff" stroke-width="0.8" font-size="65" fill="#262626" textLength="99.6" lengthAdjust="spacingAndGlyphs">-50</text>
<text x="237.4" y="712.3" text-anchor="end" font-family="Liberation Sans, Arial, Helvetica, sans-serif" stroke="#fff" stroke-width="0.8" font-size="65" fill="#262626" textLength="137.9" lengthAdjust="spacingAndGlyphs">-100</text>
<text x="237.4" y="879.6" text-anchor="end" font-family="Liberation Sans, Arial, Helvetica, sans-serif" stroke="#fff" stroke-width="0.8" font-size="65" fill="#262626" textLength="74.5" lengthAdjust="spacingAndGlyphs">50</text>
<text x="237.4" y="1082.9" text-anchor="end" font-family="Liberation Sans, Arial, Helvetica, sans-serif" stroke="#fff" stroke-width="0.8" font-size="65" fill="#262626" textLength="36.2" lengthAdjust="spacingAndGlyphs">0</text>
<text x="237.4" y="1285.8" text-anchor="end" font-family="Liberation Sans, Arial, Helvetica, sans-serif" stroke="#fff" stroke-width="0.8" font-size="65" fill="#262626" textLength="99.6" lengthAdjust="spacingAndGlyphs">-50</text>
<text x="237.6" y="1606.3" text-anchor="end" font-family="Liberation Sans, Arial, Helvetica, sans-serif" stroke="#fff" stroke-width="0.8" font-size="65" fill="#262626" textLength="111.7" lengthAdjust="spacingAndGlyphs">200</text>
<text x="237.6" y="1763.6" text-anchor="end" font-family="Liberation Sans, Arial, Helvetica, sans-serif" stroke="#fff" stroke-width="0.8" font-size="65" fill="#262626" textLength="111.7" lengthAdjust="spacingAndGlyphs">100</text>
<text x="237.6" y="1921.0" text-anchor="end" font-family="Liberation Sans, Arial, Helvetica, sans-serif" stroke="#fff" stroke-width="0.8" font-size="65" fill="#262626" textLength="36.2" lengthAdjust="spacingAndGlyphs">0</text>
<text x="1071" y="2186" font-family="Liberation Sans, Arial, Helvetica, sans-serif" stroke="#fff" stroke-width="0.8" font-size="76" fill="#262626" textLength="247" lengthAdjust="spacingAndGlyphs">Epochs</text>
<text transform="translate(98.7,586) rotate(-90)" x="0" y="0" font-family="Liberation Sans, Arial, Helvetica, sans-serif" stroke="#fff" stroke-width="0.8" font-size="76" fill="#262626" textLength="280.0" lengthAdjust="spacingAndGlyphs">East (m)</text>
<text transform="translate(98.5,1251.4) rotate(-90)" x="0" y="0" font-family="Liberation Sans, Arial, Helvetica, sans-serif" stroke="#fff" stroke-width="0.8" font-size="76" fill="#262626" textLength="320.8" lengthAdjust="spacingAndGlyphs">North (m)</text>
<text transform="translate(83.2,1861.8) rotate(-90)" x="0" y="0" font-family="Liberation Sans, Arial, Helvetica, sans-serif" stroke="#fff" stroke-width="0.8" font-size="76" fill="#262626" textLength="232.3" lengthAdjust="spacingAndGlyphs">Up (m)</text>
<text x="460" y="87.4" font-family="Liberation Sans, Arial, Helvetica, sans-serif" stroke="#fff" stroke-width="0.8" font-size="65" fill="#1a1a1a" textLength="636" lengthAdjust="spacingAndGlyphs">Least square method</text>
<text x="460" y="178.6" font-family="Liberation Sans, Arial, Helvetica, sans-serif" stroke="#fff" stroke-width="0.8" font-size="65" fill="#1a1a1a" textLength="810" lengthAdjust="spacingAndGlyphs">S-RANCO based algorithm</text>
<text x="1508" y="88" font-family="Liberation Sans, Arial, Helvetica, sans-serif" stroke="#fff" stroke-width="0.8" font-size="65" fill="#1a1a1a" textLength="584" lengthAdjust="spacingAndGlyphs">Proposed algorithm</text>
<rect x="337" y="49" width="18" height="20" fill="#d8f5d8"/>
<rect x="341" y="53" width="10" height="14" fill="#7aa87a"/>
<rect x="341" y="56" width="10" height="7" fill="#5f8f62"/>
<rect x="337" y="137" width="18" height="20" fill="#fbe0e4"/>
<rect x="341" y="139" width="10" height="14" fill="#a84455"/>
<rect x="341" y="143" width="10" height="6" fill="#7a1f2c"/>
<rect x="1386" y="51" width="18" height="18" fill="#eef6f8"/>
<rect x="1390" y="52" width="10" height="15" fill="#5c727c"/>
<rect x="1390" y="54" width="10" height="8" fill="#4a5d66"/>
</g>
</svg>
</body></html>
